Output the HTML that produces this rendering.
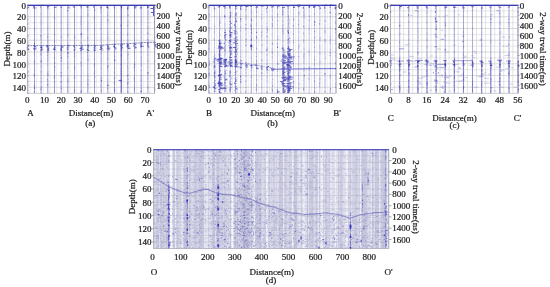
<!DOCTYPE html>
<html><head><meta charset="utf-8"><style>
html,body{margin:0;padding:0;background:#fff;}
body{width:550px;height:287px;overflow:hidden;font-family:"Liberation Serif",serif;}
svg{display:block;}
</style></head><body>
<svg width="550" height="287" viewBox="0 0 550 287" font-family="Liberation Serif">
<rect width="550" height="287" fill="#fff"/>
<rect x="27.3" y="5.0" width="127.50000000000001" height="88.2" fill="#fff"/>
<line x1="27.3" x2="154.8" y1="16.76" y2="16.76" stroke="#bcbcbc" stroke-width="0.55"/>
<line x1="27.3" x2="154.8" y1="28.52" y2="28.52" stroke="#bcbcbc" stroke-width="0.55"/>
<line x1="27.3" x2="154.8" y1="40.28" y2="40.28" stroke="#bcbcbc" stroke-width="0.55"/>
<line x1="27.3" x2="154.8" y1="52.04" y2="52.04" stroke="#bcbcbc" stroke-width="0.55"/>
<line x1="27.3" x2="154.8" y1="63.80" y2="63.80" stroke="#bcbcbc" stroke-width="0.55"/>
<line x1="27.3" x2="154.8" y1="75.56" y2="75.56" stroke="#bcbcbc" stroke-width="0.55"/>
<line x1="27.3" x2="154.8" y1="87.32" y2="87.32" stroke="#bcbcbc" stroke-width="0.55"/>
<line x1="27.3" x2="154.8" y1="22.64" y2="22.64" stroke="#d2d2d2" stroke-width="0.5"/>
<line x1="27.3" x2="154.8" y1="34.40" y2="34.40" stroke="#d2d2d2" stroke-width="0.5"/>
<line x1="27.3" x2="154.8" y1="81.44" y2="81.44" stroke="#d2d2d2" stroke-width="0.5"/>
<path d="M29.9 5.0V93.2M36.6 5.0V93.2M43.2 5.0V93.2M49.9 5.0V93.2M56.6 5.0V93.2M63.2 5.0V93.2M69.9 5.0V93.2M76.6 5.0V93.2M83.3 5.0V93.2M89.9 5.0V93.2M96.6 5.0V93.2M103.3 5.0V93.2M109.9 5.0V93.2M116.6 5.0V93.2M123.3 5.0V93.2M129.9 5.0V93.2M136.6 5.0V93.2M143.3 5.0V93.2M150.0 5.0V93.2" stroke="#c4c4cc" stroke-width="0.6" fill="none" opacity="0.55"/>
<path d="M27.8 5.0V93.2" stroke="#5050b0" stroke-width="0.7" opacity="0.3"/>
<path d="M34.5 5.0V93.2" stroke="#5050b0" stroke-width="0.7" opacity="0.8"/>
<path d="M41.1 5.0V93.2" stroke="#5050b0" stroke-width="0.7" opacity="0.8"/>
<path d="M47.8 5.0V93.2" stroke="#5050b0" stroke-width="0.7" opacity="0.8"/>
<path d="M54.5 5.0V93.2" stroke="#5050b0" stroke-width="0.7" opacity="0.8"/>
<path d="M61.2 5.0V93.2" stroke="#5050b0" stroke-width="0.7" opacity="0.8"/>
<path d="M67.8 5.0V93.2" stroke="#5050b0" stroke-width="0.7" opacity="0.8"/>
<path d="M74.5 5.0V93.2" stroke="#5050b0" stroke-width="0.7" opacity="0.8"/>
<path d="M81.2 5.0V93.2" stroke="#5050b0" stroke-width="0.7" opacity="0.8"/>
<path d="M87.8 5.0V93.2" stroke="#5050b0" stroke-width="0.7" opacity="0.8"/>
<path d="M94.5 5.0V93.2" stroke="#5050b0" stroke-width="0.7" opacity="0.8"/>
<path d="M101.2 5.0V93.2" stroke="#5050b0" stroke-width="0.7" opacity="0.8"/>
<path d="M107.8 5.0V93.2" stroke="#5050b0" stroke-width="0.7" opacity="0.8"/>
<path d="M114.5 5.0V93.2" stroke="#5050b0" stroke-width="0.7" opacity="0.8"/>
<path d="M121.2 5.0V93.2" stroke="#5050b0" stroke-width="0.7" opacity="1"/>
<path d="M127.8 5.0V93.2" stroke="#5050b0" stroke-width="0.7" opacity="0.8"/>
<path d="M134.5 5.0V93.2" stroke="#5050b0" stroke-width="0.7" opacity="0.8"/>
<path d="M141.2 5.0V93.2" stroke="#5050b0" stroke-width="0.7" opacity="0.8"/>
<path d="M147.9 5.0V93.2" stroke="#5050b0" stroke-width="0.7" opacity="0.8"/>
<path d="M154.5 5.0V93.2" stroke="#5050b0" stroke-width="0.7" opacity="0.8"/>
<path d="M28.1 5.6v1.6M27.7 9.0v.9M27.9 15.6v1.2M28.1 23.2v1.6M27.7 24.0v1.2M27.9 27.2v.6M27.8 28.0v1.6M28.1 35.4v1.6M27.7 36.2v1.2M27.6 37.0v1.2M28.0 37.8v.6M28.0 41.0v1.6M27.7 42.2v.6M28.0 43.0v1.6M27.5 44.2v.9M27.7 45.4v1.6M28.0 46.6v.9M27.7 47.4v1.2M27.6 48.6v1.2M27.7 49.4v1.6M27.9 55.2v.9M27.7 57.4v.6M27.8 58.6v.6M27.6 59.4v.6M27.8 60.2v.9M28.0 62.4v.9M28.0 64.0v1.6M27.8 64.8v.6M27.7 67.0v.9M28.1 69.8v1.2M27.9 76.4v1.2M28.0 80.2v1.6M28.0 83.2v1.6M27.6 84.2v1.2M27.5 86.0v.6M27.7 88.4v1.2M28.0 89.2v1.6M27.7 91.6v1.2M34.7 8.0v.9M34.6 8.8v1.6M34.5 9.6v1.6M34.3 22.0v1.6M34.4 26.2v.6M34.5 29.2v1.2M34.7 30.0v.9M34.2 31.8v.9M34.5 38.0v.9M34.3 39.8v1.2M34.4 40.6v1.2M34.6 41.8v.9M34.6 57.6v1.2M34.4 59.6v.6M34.7 61.6v1.2M34.5 63.6v1.6M34.6 66.6v.9M34.6 69.4v.6M34.2 73.0v1.2M34.6 83.6v.6M34.5 89.4v1.2M41.0 13.6v1.2M41.4 19.6v1.6M40.9 21.8v.6M41.2 22.8v.9M41.0 23.8v1.2M41.1 30.2v1.2M40.8 35.6v.9M41.1 36.4v1.2M40.9 37.4v.6M40.9 38.4v1.6M41.2 42.2v1.2M41.1 50.4v.9M41.3 52.6v1.6M41.0 54.4v1.6M41.4 57.6v1.2M41.4 65.2v1.6M41.4 66.2v1.6M40.9 73.6v.6M41.3 80.8v1.6M40.9 81.6v.6M40.9 89.2v1.2M41.1 92.0v1.6M47.8 5.1v1.2M47.8 8.1v1.6M48.0 16.5v.9M47.8 26.1v1.6M47.5 29.5v1.2M48.0 33.1v.9M47.6 33.9v1.6M48.1 39.5v1.2M47.9 40.7v1.6M47.6 41.5v.6M47.7 50.1v1.6M48.1 52.1v1.2M48.0 52.9v.6M47.9 53.9v1.6M47.5 55.9v.6M47.9 56.7v1.6M47.8 58.5v.9M47.8 59.5v.6M47.6 65.1v1.2M48.1 70.9v.9M47.9 73.7v1.2M47.8 80.1v.9M47.8 83.5v1.2M47.9 87.1v.6M54.6 11.0v.6M54.4 12.6v1.6M54.6 15.4v.9M54.4 16.4v1.6M54.7 18.2v1.6M54.2 25.6v.6M54.6 29.4v.9M54.3 31.4v1.2M54.4 32.4v.9M54.3 33.4v1.2M54.4 36.2v1.2M54.6 42.4v1.6M54.3 43.2v.9M54.6 46.4v1.6M54.7 47.4v1.6M54.2 52.4v.6M54.5 59.6v.6M54.4 61.2v1.2M54.3 65.4v.9M54.7 70.0v.6M54.6 71.0v1.2M54.3 72.6v.6M54.5 78.2v.9M54.6 79.2v.6M54.7 81.0v1.2M54.7 84.0v1.6M54.2 86.2v.6M54.4 91.8v.6M61.0 5.1v1.6M60.9 13.7v.9M61.1 20.3v1.6M61.0 22.9v.9M60.9 29.9v1.2M61.4 34.1v1.2M61.3 42.9v1.6M61.2 45.1v.9M61.4 47.3v1.2M61.3 48.5v.9M61.2 49.5v1.6M60.9 50.7v1.2M61.4 53.7v1.2M60.9 54.5v.9M61.3 57.9v1.2M61.4 65.3v1.2M61.0 68.5v.6M61.4 74.7v.9M60.9 80.5v1.6M61.1 85.1v.6M61.1 86.3v.9M61.3 87.1v.6M60.9 91.5v.9M67.8 5.3v.6M67.8 6.3v1.6M68.0 7.3v1.6M67.6 17.9v.6M68.0 21.9v1.2M68.1 24.1v.9M67.6 25.1v.6M67.9 26.9v1.2M67.6 32.7v1.6M68.0 33.7v1.6M67.6 42.7v.6M67.8 43.7v1.6M67.7 44.7v.9M67.6 45.9v1.6M67.6 46.7v1.2M67.7 53.3v1.6M67.9 56.9v.9M67.6 57.9v.6M67.7 61.3v1.2M67.8 62.3v1.2M67.6 64.3v1.6M67.6 65.5v.9M67.9 75.9v.6M68.1 77.1v1.6M68.0 82.1v.9M68.1 83.3v.6M67.7 84.3v.6M68.0 85.1v1.2M67.8 86.3v.6M67.6 88.3v.6M68.1 89.5v.9M67.9 91.7v.6M68.5 6.2v1M74.2 12.3v1.2M74.3 14.5v1.2M74.3 15.3v.6M74.5 23.5v.9M74.4 24.7v1.2M74.5 30.1v.6M74.7 35.3v1.6M74.7 42.9v1.2M74.5 43.9v1.2M74.3 47.9v1.6M74.4 49.1v1.2M74.3 51.1v.6M74.6 52.3v1.6M74.3 57.1v.9M74.6 58.1v.9M74.4 59.9v1.6M74.2 60.9v.6M74.5 62.1v.6M74.6 63.1v1.6M74.6 87.1v1.6M74.5 90.3v1.6M74.3 91.3v1.6M81.1 17.2v1.6M81.3 18.4v1.6M81.0 20.0v1.6M80.9 20.8v1.6M81.1 21.8v1.6M81.2 23.0v1.6M81.1 24.0v1.2M81.1 25.6v.9M81.3 31.6v.6M81.1 35.0v.9M81.3 36.2v1.6M81.4 37.0v1.2M81.0 41.8v1.6M80.9 45.6v.9M80.9 46.6v.9M81.4 49.8v1.6M81.2 53.4v1.2M81.4 57.2v.9M81.1 62.8v1.6M81.5 63.6v.6M81.1 69.2v.6M81.5 71.6v1.6M81.1 75.6v1.6M81.3 78.6v.6M81.0 81.0v.9M81.3 82.0v1.2M81.3 83.0v1.6M81.2 84.8v1.6M81.1 88.8v.6M88.0 9.4v1.2M88.1 10.2v.6M87.9 13.4v.9M87.7 21.2v.9M87.8 23.2v1.6M87.5 35.4v.6M87.6 36.4v1.6M87.9 37.4v1.2M87.6 39.4v1.2M87.6 43.8v1.6M88.0 48.8v1.6M88.1 50.8v1.2M87.7 54.8v1.2M88.0 55.6v.9M87.9 56.6v.6M87.9 59.6v1.2M88.0 60.6v.9M87.8 65.8v1.2M87.7 68.0v1.6M87.8 73.8v1.2M87.9 74.8v.6M88.0 76.0v1.2M88.0 77.0v.9M88.0 80.2v.6M87.8 81.2v1.2M87.9 84.0v.9M88.1 85.2v.6M88.0 86.0v.6M88.1 87.8v1.2M94.5 5.3v1.2M94.5 10.9v.9M94.7 15.5v.6M94.2 19.1v1.6M94.6 27.7v.9M94.8 28.5v.9M94.5 29.5v1.6M94.7 30.3v1.2M94.5 31.5v.6M94.4 32.5v1.6M94.5 33.3v1.2M94.6 36.5v.9M94.7 41.3v1.2M94.7 45.9v1.6M94.4 57.3v1.2M94.6 68.7v.9M94.7 75.7v.9M94.3 78.5v1.6M94.7 80.7v1.6M94.7 81.9v.9M94.6 84.5v1.6M94.6 86.3v1.6M101.3 6.4v.9M101.1 10.2v.6M101.0 11.4v1.6M101.1 12.4v.9M101.2 18.6v.9M101.5 19.4v.9M101.3 20.2v.9M100.9 23.8v.9M101.2 24.8v1.2M101.0 29.0v1.2M101.3 36.8v.9M101.1 37.8v1.2M101.1 38.8v.6M100.9 41.8v.9M101.2 48.2v.6M101.0 52.4v1.6M101.1 53.4v.9M100.9 56.8v.6M101.3 58.0v.9M101.1 60.0v.6M101.0 60.8v1.2M101.1 62.8v.6M101.2 65.8v.6M101.1 68.2v1.6M101.2 76.6v1.2M100.9 77.4v1.6M100.9 79.2v1.6M101.2 82.2v1.2M100.9 84.2v1.6M101.3 86.0v1.2M100.9 87.0v.6M101.4 92.6v1.2M107.8 11.9v1.2M108.0 20.3v1.6M107.7 31.7v.9M107.6 32.7v1.2M107.6 36.3v1.6M107.7 37.1v.6M107.7 46.3v.9M107.7 53.3v1.2M108.1 54.3v1.2M107.9 55.5v.9M108.0 58.5v.6M107.5 61.9v.9M107.9 64.7v.9M107.9 68.7v.6M107.7 69.7v.9M107.7 70.7v.9M107.6 78.9v1.6M107.8 81.1v1.2M107.6 85.7v.6M108.0 87.5v1.6M108.0 92.3v1.2M114.3 15.3v.6M114.4 17.1v1.2M114.6 19.7v1.2M114.5 33.5v1.2M114.7 35.5v.6M114.7 36.3v.6M114.5 37.3v1.6M114.5 39.3v.9M114.2 43.7v1.6M114.8 50.3v1.6M114.3 51.9v1.2M114.5 56.9v1.6M114.6 58.7v1.6M114.3 70.5v.6M114.7 73.9v.6M114.7 75.1v1.6M114.7 80.3v.6M114.3 85.3v.6M114.6 88.5v1.6M114.6 91.1v.9M121.4 6.9v.9M121.3 8.7v.6M121.1 9.5v.9M120.9 16.9v1.2M121.0 19.7v.6M121.2 23.9v1.6M121.1 25.5v1.2M121.3 26.5v.6M121.4 28.5v.6M121.2 31.9v1.6M121.2 35.5v1.2M121.2 37.3v.6M121.2 38.3v.6M121.0 40.9v.9M121.4 45.3v.6M121.2 46.5v.9M121.4 48.3v1.6M121.2 52.3v.6M121.3 53.3v1.6M121.1 54.9v1.6M121.2 55.7v1.6M121.2 57.5v.9M121.2 59.5v.6M121.1 60.3v.6M121.0 62.7v1.6M120.9 63.7v.9M121.1 67.3v1.2M120.9 68.5v1.2M121.1 69.7v.6M121.1 72.5v1.6M121.1 74.7v.9M121.0 76.7v.6M121.2 77.5v.9M121.4 78.3v.9M120.9 79.1v1.2M121.2 80.1v1.6M121.2 85.5v.9M121.2 86.3v1.2M121.1 89.5v1.2M121.3 91.5v.6M121.0 92.7v.9M127.7 7.5v.9M127.8 9.5v1.6M127.7 11.3v.6M127.6 12.5v1.6M128.1 20.1v1.6M128.0 22.1v.6M127.9 23.7v.6M127.6 25.7v.9M127.7 31.9v1.2M127.8 39.3v.6M127.6 40.5v1.2M127.9 42.3v1.6M127.6 43.1v.6M128.1 47.5v1.2M128.0 52.3v1.6M127.6 55.3v1.6M127.7 57.3v1.6M127.6 58.5v1.2M127.9 61.7v.9M127.7 66.9v.9M127.6 70.1v1.2M128.0 71.1v.6M127.7 72.3v.6M127.9 79.7v.6M127.6 84.7v.9M127.9 86.5v.6M127.7 92.1v1.6M134.6 7.6v.9M134.6 11.8v.6M134.4 13.8v1.2M134.4 15.0v.9M134.7 17.0v1.6M134.3 20.0v1.2M134.8 22.4v1.2M134.7 28.6v.6M134.3 29.6v1.6M134.6 32.6v.6M134.4 35.6v1.2M134.2 36.6v1.6M134.7 38.4v.9M134.3 46.2v1.2M134.5 48.2v1.6M134.3 49.4v.6M134.7 50.6v.9M134.2 54.8v.6M134.8 57.8v.9M134.7 61.8v1.2M134.7 62.8v1.6M134.3 69.4v1.6M134.4 70.6v1.2M134.6 72.8v.9M134.3 74.0v1.2M134.3 78.4v1.6M134.8 82.8v.9M134.3 84.0v1.2M134.3 87.0v1.2M134.6 90.8v.6M141.0 8.1v1.2M141.1 9.9v.6M141.2 11.7v.6M141.5 14.5v.6M141.2 19.5v.9M141.5 20.3v1.6M141.2 22.3v.6M141.2 24.3v.6M141.4 30.5v.6M141.0 31.5v1.2M141.2 32.3v.6M141.2 42.9v1.6M141.1 43.7v.6M141.1 44.7v.6M140.9 48.5v.6M141.0 50.7v1.6M141.0 51.5v.6M141.4 56.3v1.6M141.3 57.3v1.2M141.2 59.3v1.6M141.1 60.5v.9M141.3 61.5v1.6M141.1 63.5v.9M141.5 64.3v1.2M141.0 74.7v1.2M141.1 77.9v1.2M141.4 78.7v.6M141.4 80.5v1.6M141.4 83.3v1.6M141.1 87.3v1.6M141.5 88.3v.9M141.0 92.1v1.6M147.7 5.1v.6M147.7 5.9v.9M147.8 7.1v1.6M148.0 13.5v1.6M148.1 14.5v.6M147.7 18.1v1.6M148.1 22.5v.9M147.8 28.5v.6M147.8 29.7v1.2M147.9 44.5v.6M148.0 45.7v1.6M147.6 47.5v1.2M148.1 48.7v1.2M147.7 50.7v1.2M147.6 53.5v.9M148.1 54.5v1.6M147.9 57.5v.6M147.7 58.3v.6M147.7 73.1v1.2M148.1 74.1v.6M147.8 75.9v.9M147.7 77.9v.9M147.8 78.7v.6M147.6 84.1v.6M147.7 86.5v1.6M154.5 6.2v.9M154.7 8.0v.9M154.3 10.2v1.2M154.4 12.2v1.6M154.3 15.2v.6M154.5 21.6v.9M154.3 22.8v.9M154.5 25.4v.6M154.4 28.2v.9M154.6 31.8v.9M154.5 37.8v.9M154.8 39.8v1.2M154.4 45.6v.6M154.7 50.0v1.6M154.6 52.0v.9M154.8 54.0v.6M154.4 56.0v.6M154.6 57.2v.6M154.6 62.0v.9M154.6 63.2v1.6M154.6 69.4v.9M154.8 70.2v.6M154.3 72.8v1.2M154.4 76.4v1.2M154.5 78.4v.6M154.6 79.4v.6M154.5 83.2v1.2M154.7 84.0v.9M154.4 86.2v.9M154.6 87.8v.6M154.5 89.4v.9M154.7 91.8v.6" stroke="#9696d0" stroke-width="0.8" fill="none" opacity="0.6"/>
<path d="M27.2 48.0h1.2M54.7 50.2h1.3M54.2 6.4h2.8M67.6 48.6h1.3M73.9 48.8h1.1M73.9 7.7h1.6M86.9 48.4h1.2M94.1 47.4h1.1M100.0 48.9h1.5M107.5 45.7h1.5M113.8 45.7h1M114.4 48.2h1.7M127.1 47.9h.9M133.8 45.2h1.6M140.3 43.7h1.1M140.4 47.4h1.1M154.0 46.2h1.1" stroke="#9696d0" stroke-width="0.8" fill="none" opacity="0.6"/>
<path d="M27.9 18.8v1.6M27.7 34.6v1.6M27.9 61.4v.9M27.5 65.8v1.2M28.0 71.0v1.6M27.6 71.8v1.6M27.6 79.2v.6M27.7 81.0v1.6M27.9 85.2v1.2M28.0 90.4v.6M28.0 92.6v1.6M27.8 6.3v1M34.4 28.4v1.2M34.6 48.4v1.6M34.3 49.2v.6M34.3 53.4v.9M34.2 60.8v1.6M34.5 70.2v.6M34.2 73.8v1.6M34.4 84.6v1.6M34.5 86.6v1.6M34.3 91.2v1.2M40.9 34.8v1.6M41.2 46.0v.9M41.4 47.0v1.2M41.1 51.6v.6M41.0 53.6v1.2M40.9 61.2v.9M41.1 62.0v.6M41.1 71.2v1.2M41.3 78.0v.6M41.4 86.2v.6M41.1 87.4v.6M41.0 88.4v1.6M40.6 6.6v1.3M47.8 36.3v1.6M47.8 46.1v.6M48.1 47.1v.9M47.7 55.1v.6M47.9 60.7v.6M47.7 72.7v1.2M48.0 74.5v1.6M47.5 79.1v1.2M47.6 81.3v.6M54.4 17.4v1.2M54.7 34.2v.9M54.2 41.2v.9M54.6 49.6v.6M54.4 57.2v1.6M54.7 62.2v1.6M54.8 66.2v.9M54.8 67.0v.9M54.6 69.2v1.2M54.7 76.2v1.6M54.2 77.4v1.2M54.5 82.0v.9M54.4 90.8v.6M61.3 36.3v1.6M60.9 55.3v.9M61.2 60.1v1.6M61.2 75.7v1.2M61.1 81.5v1.6M61.5 7.3v.8M67.7 28.9v.6M68.0 35.5v.9M67.7 51.5v1.6M67.7 55.7v1.2M68.1 67.3v1.2M68.1 79.3v1.6M67.8 81.3v.9M67.8 87.1v.6M68.0 90.5v.6M74.5 18.9v.6M74.4 36.5v.9M74.7 37.3v1.2M74.4 53.1v1.2M74.6 55.3v1.2M74.5 56.3v.6M74.8 65.9v1.2M74.5 67.1v.9M74.7 68.3v1.2M74.7 76.3v1.6M74.3 77.5v.9M74.7 89.5v1.6M74.3 92.1v.9M81.4 5.2v1.6M81.3 8.4v.6M81.4 16.2v.9M81.4 42.8v.6M81.2 47.4v.6M81.1 48.2v1.2M81.2 50.8v.6M80.9 62.0v.9M81.4 65.2v1.2M81.3 90.0v1.6M81.2 91.2v1.2M80.9 92.0v1.2M87.9 14.4v1.2M87.9 26.4v.9M87.8 29.6v.9M87.7 38.2v.6M87.6 51.8v1.2M88.0 58.6v1.6M88.1 79.2v1.2M87.9 83.2v1.6M87.9 90.8v.6M87.0 5.9v1.4M87.4 6.2v1.9M94.5 6.5v.6M94.3 17.1v1.6M94.6 43.5v.9M94.4 59.3v.6M94.4 63.5v1.6M94.4 65.5v1.2M94.3 66.7v.6M94.7 70.7v.9M94.8 76.7v1.2M94.4 83.7v.6M94.6 8.0v.9M101.2 22.2v.6M101.0 27.8v.9M101.3 33.2v.6M101.3 46.2v.6M101.3 47.2v1.6M101.2 78.4v.6M101.3 89.8v1.6M101.4 5.9v.9M100.9 7.7v2M107.6 14.7v1.2M107.8 19.1v1.6M107.7 38.3v.6M107.6 45.3v.9M107.8 51.3v.9M107.9 57.3v.9M107.5 66.7v1.6M107.8 84.1v1.6M107.7 88.3v.6M108.1 7.6v1.3M114.8 5.1v1.6M114.3 31.5v1.2M114.7 41.3v.6M114.3 44.9v1.2M114.6 47.1v.9M114.5 51.1v1.2M114.6 55.9v1.2M114.4 61.5v.6M114.6 67.7v.9M114.2 71.7v.9M114.7 77.1v1.2M114.4 78.1v1.2M114.5 81.5v1.6M114.2 82.7v.9M114.7 83.7v.9M114.3 87.3v1.2M114.7 90.3v1.2M114.6 91.9v.6M114.6 7.6v1.3M121.2 24.7v1.2M121.2 44.3v.9M121.2 49.3v1.6M121.4 50.3v.9M121.4 54.1v1.6M120.9 73.5v.9M121.2 81.1v1.2M121.2 81.9v.6M128.0 14.5v1.6M127.8 24.9v1.2M127.6 33.9v1.6M127.8 46.3v.9M128.0 48.5v.6M128.1 54.1v1.2M127.6 65.7v.9M127.9 68.1v.9M127.7 75.5v1.6M128.1 78.5v1.2M127.9 81.7v1.6M127.7 82.9v1.6M127.9 87.3v.9M127.8 91.1v1.2M127.5 7.6v2M128.2 6.1v1.2M134.5 52.4v.6M134.4 63.8v.9M134.5 65.8v1.6M134.3 66.6v1.6M134.3 77.2v1.6M134.4 79.6v.9M134.4 87.8v1.2M134.2 89.8v.9M141.0 37.5v.6M141.3 46.5v.6M141.0 52.3v.6M141.5 65.5v.9M141.1 69.9v.9M141.3 76.7v.6M140.9 79.7v.9M141.1 85.3v.6M141.2 90.1v1.6M141.0 6.4v1.8M140.4 7.3v1.3M148.1 11.5v.9M147.9 26.5v.9M147.7 32.5v1.6M147.7 39.1v1.2M148.1 42.1v.6M148.1 60.5v1.2M147.6 66.5v.6M147.9 87.3v1.2M154.5 20.8v1.2M154.6 27.2v1.6M154.8 36.8v1.2M154.7 47.2v1.2M154.3 48.2v.9M154.8 52.8v.6M154.7 88.6v1.6M155.0 7.7v1.1" stroke="#5c5cbc" stroke-width="0.8" fill="none" opacity="0.7"/>
<path d="M27.4 46.6h1.2M27.9 49.8h1.5M33.4 47.2h1.3M34.4 49.4h1.8M33.9 7.9h2.6M40.9 45.5h.8M40.7 48.1h2M41.2 48.7h1.2M46.5 47.4h2M47.5 48.2h1.7M46.8 49.9h1.4M46.7 5.8h1.8M54.0 46.7h.9M54.3 47.4h1.2M53.8 7.5h1.6M54.1 7.5h2.5M59.9 46.3h2.4M60.1 49.7h1.5M67.7 47.3h1M66.3 48.0h1.8M67.4 50.1h1.1M67.6 7.8h2.8M73.5 45.6h1.2M74.5 48.0h1.1M81.1 45.6h2M81.2 46.5h1.3M80.6 7.5h1.1M79.6 5.0h2.1M87.4 46.0h2M87.4 47.6h1.4M87.3 49.0h1.5M86.6 7.1h2.3M94.5 48.7h1.4M93.8 49.5h.8M100.6 45.3h1.8M100.5 45.9h1.9M101.0 46.5h1.6M101.3 50.2h1.8M99.8 7.5h2M107.0 45.0h1.3M107.7 46.9h1.4M106.6 48.7h1.7M106.9 49.2h2.5M114.2 47.6h2M113.1 5.3h1.7M113.5 7.2h1.4M121.4 43.8h1.6M121.1 44.5h1.9M119.9 45.2h1.9M120.8 45.6h1.7M120.1 46.1h1.2M120.8 47.2h2M120.5 48.8h1.7M120.9 5.3h1M127.0 43.8h.9M127.9 46.9h1.9M134.5 43.0h1M134.6 46.5h1.3M134.6 47.4h2.4M133.1 5.1h1.2M140.4 42.6h1.6M141.0 43.2h1.2M140.4 45.0h1M140.4 7.7h1.9M147.7 42.3h1.2M147.6 43.6h.8M147.3 44.8h1.1M147.3 46.2h1M147.0 6.8h1.8M147.5 7.2h1.8M153.3 41.8h1.2M154.0 43.9h1.7M153.1 7.4h2.4" stroke="#5c5cbc" stroke-width="0.8" fill="none" opacity="0.7"/>
<path d="M27.7 74.6v1.2M27.4 7.6v1.5M34.5 43.0v1.6M34.2 75.8v.6M34.5 87.8v.9M41.4 60.2v1.2M47.9 51.3v1.2M47.7 84.3v1.2M47.9 6.5v1.9M61.3 52.5v.6M61.3 57.1v1.6M61.2 72.3v.9M61.3 88.3v.9M61.1 7.0v.9M67.8 10.1v1.2M68.1 52.5v1.2M81.1 5.6v1.2M87.9 45.0v1.2M94.8 9.9v.9M94.4 48.9v.6M94.3 72.7v.9M93.8 6.2v1.5M101.4 80.0v1.2M107.8 59.3v.6M108.1 65.5v1.2M107.8 84.9v1.2M107.3 6.6v1.4M114.7 59.5v1.6M114.4 89.5v1.2M121.3 64.9v.6M121.2 71.3v.6M121.6 6.7v1.5M121.3 5.6v1.7M127.7 45.3v.9M128.0 74.5v.9M127.9 7.3v1.8M134.8 64.6v.6M141.2 91.1v.9M147.9 72.1v1.6M147.7 6.4v1.8M154.6 61.0v.9" stroke="#3030b0" stroke-width="0.8" fill="none" opacity="0.85"/>
<path d="M27.7 45.3h1.2M27.8 45.9h.8M26.7 47.3h1.3M27.3 48.5h1.3M26.8 49.4h2M27.5 7.6h1.6M33.1 45.6h1.9M34.0 46.4h2.3M34.5 48.1h2M33.1 48.6h1.7M33.9 50.2h.8M33.0 6.5h1.5M32.9 7.9h1.8M41.1 46.3h.8M40.9 46.9h1.4M40.2 47.5h1.9M40.8 49.6h1.9M40.3 50.2h1.9M40.9 5.2h1.7M40.0 5.6h1.7M47.0 45.4h1.4M46.8 45.9h1.1M46.4 46.5h2.2M47.4 48.7h1.4M47.7 49.3h1.2M47.5 50.4h1.5M47.4 6.2h1.8M54.3 45.6h.8M54.4 46.2h.8M53.5 48.1h2M53.6 48.8h1.3M53.1 49.5h2.5M61.1 45.6h1M61.2 46.9h2.3M61.2 47.6h1.4M60.6 48.3h1.3M60.4 49.2h1.5M60.8 50.5h1.3M60.4 5.7h2.4M67.8 45.6h1.6M67.4 46.5h.9M67.0 49.3h1.2M66.8 5.4h2.6M73.4 46.4h1.6M73.9 47.2h1.2M74.4 49.6h1M73.6 50.2h1.3M73.9 6.1h1.1M72.7 7.0h1.9M80.4 47.0h.9M81.0 47.8h1.8M79.5 48.5h2.1M81.2 49.2h2.5M80.7 49.8h1.2M80.4 50.6h.8M87.5 45.4h1.5M87.7 46.8h.8M86.8 49.6h1.3M87.3 50.4h1.9M93.5 45.5h1.9M94.4 46.1h1.7M94.6 46.9h.8M93.4 47.9h1.8M93.5 50.3h2.4M93.8 5.3h2.4M100.2 47.2h1.6M100.0 47.7h1.1M101.2 48.4h1.5M99.6 49.5h2M106.9 46.3h1.7M107.6 47.6h.8M107.5 48.2h2.7M108.0 49.8h1.2M106.0 7.1h2.2M113.9 44.4h1.5M113.7 45.0h1M113.2 46.5h1.8M113.6 47.1h1.7M114.7 48.9h1.7M121.0 46.8h1.2M121.1 48.0h1.7M127.6 44.5h1.1M126.9 45.0h1.5M127.3 45.6h1.5M126.4 46.3h2M127.3 47.4h.9M127.9 48.4h2.6M133.7 43.8h1.3M134.3 44.6h1.9M133.0 45.9h1.4M134.5 48.0h1.6M134.0 7.9h2M133.9 6.8h2.9M140.5 44.2h1.6M140.4 45.7h1.3M141.0 46.3h2.7M140.3 46.8h1.2M147.2 43.0h1.4M147.0 44.0h.8M147.6 45.6h1M147.7 47.0h1.7M154.6 42.5h1.2M153.6 43.2h1.3M154.2 44.7h2.7M154.3 45.4h1.9M154.6 46.8h1.8M153.9 5.2h2.6" stroke="#3030b0" stroke-width="0.8" fill="none" opacity="0.85"/>
<path d="M121.3 5V93" stroke="#3434b4" stroke-width="0.8" opacity="0.6"/>
<polyline points="27.3,45.6 100.0,45.4 114.0,44.2 128.0,43.7 147.0,42.4 154.8,42.2" fill="none" stroke="#50509c" stroke-width="0.9" opacity="0.75" stroke-dasharray="2.2 0.8"/>
<rect x="118.5" y="79.9" width="3.5" height="0.9" fill="#3030c0" opacity="0.8"/>
<rect x="80.7" y="33.5" width="1.3" height="1.3" fill="#3030c0" opacity="0.85"/>
<path d="M153.6 5V16M150.5 8.5h3M151 12.5h2.5" stroke="#3030c0" stroke-width="1.2" opacity="0.8"/>
<rect x="27.3" y="5.0" width="127.50000000000001" height="88.2" fill="none" stroke="#a8a8b0" stroke-width="0.6"/>
<line x1="27.3" x2="154.8" y1="5.4" y2="5.4" stroke="#3a3ab8" stroke-width="1.3"/>
<rect x="208.7" y="5.0" width="127.80000000000001" height="88.2" fill="#fff"/>
<line x1="208.7" x2="336.5" y1="16.76" y2="16.76" stroke="#bcbcbc" stroke-width="0.55"/>
<line x1="208.7" x2="336.5" y1="28.52" y2="28.52" stroke="#bcbcbc" stroke-width="0.55"/>
<line x1="208.7" x2="336.5" y1="40.28" y2="40.28" stroke="#bcbcbc" stroke-width="0.55"/>
<line x1="208.7" x2="336.5" y1="52.04" y2="52.04" stroke="#bcbcbc" stroke-width="0.55"/>
<line x1="208.7" x2="336.5" y1="63.80" y2="63.80" stroke="#bcbcbc" stroke-width="0.55"/>
<line x1="208.7" x2="336.5" y1="75.56" y2="75.56" stroke="#bcbcbc" stroke-width="0.55"/>
<line x1="208.7" x2="336.5" y1="87.32" y2="87.32" stroke="#bcbcbc" stroke-width="0.55"/>
<path d="M211.4 5.0V93.2M216.7 5.0V93.2M221.9 5.0V93.2M227.2 5.0V93.2M232.5 5.0V93.2M237.7 5.0V93.2M243.0 5.0V93.2M248.3 5.0V93.2M253.6 5.0V93.2M258.8 5.0V93.2M264.1 5.0V93.2M269.4 5.0V93.2M274.6 5.0V93.2M279.9 5.0V93.2M285.2 5.0V93.2M290.4 5.0V93.2M295.7 5.0V93.2M301.0 5.0V93.2M306.3 5.0V93.2M311.5 5.0V93.2M316.8 5.0V93.2M322.1 5.0V93.2M327.3 5.0V93.2M332.6 5.0V93.2" stroke="#c4c4cc" stroke-width="0.6" fill="none" opacity="0.5"/>
<path d="M209.1 5.0V93.2" stroke="#5050b0" stroke-width="0.7" opacity="0.5"/>
<path d="M214.4 5.0V93.2" stroke="#5050b0" stroke-width="0.7" opacity="0.5"/>
<path d="M219.6 5.0V93.2" stroke="#5050b0" stroke-width="0.7" opacity="0.6"/>
<path d="M224.9 5.0V93.2" stroke="#5050b0" stroke-width="0.7" opacity="0.5"/>
<path d="M230.2 5.0V93.2" stroke="#5050b0" stroke-width="0.7" opacity="0.6"/>
<path d="M235.4 5.0V93.2" stroke="#5050b0" stroke-width="0.7" opacity="0.6"/>
<path d="M240.7 5.0V93.2" stroke="#5050b0" stroke-width="0.7" opacity="0.5"/>
<path d="M246.0 5.0V93.2" stroke="#5050b0" stroke-width="0.7" opacity="0.5"/>
<path d="M251.3 5.0V93.2" stroke="#5050b0" stroke-width="0.7" opacity="0.6"/>
<path d="M256.5 5.0V93.2" stroke="#5050b0" stroke-width="0.7" opacity="0.5"/>
<path d="M261.8 5.0V93.2" stroke="#5050b0" stroke-width="0.7" opacity="0.5"/>
<path d="M267.1 5.0V93.2" stroke="#5050b0" stroke-width="0.7" opacity="0.5"/>
<path d="M272.3 5.0V93.2" stroke="#5050b0" stroke-width="0.7" opacity="0.5"/>
<path d="M277.6 5.0V93.2" stroke="#5050b0" stroke-width="0.7" opacity="0.5"/>
<path d="M282.9 5.0V93.2" stroke="#5050b0" stroke-width="0.7" opacity="0.6"/>
<path d="M288.1 5.0V93.2" stroke="#5050b0" stroke-width="0.7" opacity="0.6"/>
<path d="M293.4 5.0V93.2" stroke="#5050b0" stroke-width="0.7" opacity="0.5"/>
<path d="M298.7 5.0V93.2" stroke="#5050b0" stroke-width="0.7" opacity="0.5"/>
<path d="M304.0 5.0V93.2" stroke="#5050b0" stroke-width="0.7" opacity="0.5"/>
<path d="M309.2 5.0V93.2" stroke="#5050b0" stroke-width="0.7" opacity="0.5"/>
<path d="M314.5 5.0V93.2" stroke="#5050b0" stroke-width="0.7" opacity="0.5"/>
<path d="M319.8 5.0V93.2" stroke="#5050b0" stroke-width="0.7" opacity="0.5"/>
<path d="M325.0 5.0V93.2" stroke="#5050b0" stroke-width="0.7" opacity="0.5"/>
<path d="M330.3 5.0V93.2" stroke="#5050b0" stroke-width="0.7" opacity="0.5"/>
<path d="M335.6 5.0V93.2" stroke="#5050b0" stroke-width="0.7" opacity="0.5"/>
<ellipse cx="251.2" cy="45.7" rx="1.1" ry="1.3" fill="#2a2ab8" opacity="0.85"/>
<path d="M273 69.2L336.5 68.6" stroke="#3a3ab8" stroke-width="0.9" opacity="0.8"/>
<path d="M208.9 9.4v1.6M209.0 19.4v1.2M209.1 22.4v1.2M209.0 29.2v1.6M209.4 30.4v.9M208.9 31.6v.6M209.1 32.4v.9M208.8 39.2v1.2M209.1 41.4v.9M209.3 42.2v.6M209.4 44.6v1.6M208.9 49.8v1.2M209.0 58.2v.9M209.2 60.2v.9M209.2 63.0v1.6M209.0 76.2v1.6M209.2 82.4v.9M208.8 85.6v.6M209.3 90.8v.9M214.3 10.4v1.2M214.3 23.8v.6M214.4 28.6v.9M214.2 30.8v1.2M214.5 32.0v1.6M214.6 32.8v.6M214.1 37.8v1.6M214.3 39.0v1.6M214.3 43.4v1.2M214.3 47.4v.6M214.1 49.4v.9M214.6 65.2v.6M214.5 66.4v1.6M214.4 77.4v.6M214.5 80.0v1.2M214.5 81.6v1.2M214.4 91.2v1.2M219.5 5.3v1.6M219.7 6.9v.9M219.5 9.9v1.6M219.4 11.9v1.2M219.6 14.3v.9M219.5 16.5v.6M219.9 17.3v1.6M219.4 18.5v1.6M219.8 19.5v.6M219.4 24.1v1.6M219.6 26.3v.9M219.5 27.3v.9M219.8 29.5v.9M219.4 32.7v1.2M219.9 33.9v1.2M219.9 40.1v.6M219.8 41.3v1.2M219.4 45.7v1.2M219.9 49.9v.9M219.4 51.1v1.2M219.6 52.7v1.6M219.7 59.1v.9M219.6 64.9v1.6M219.4 74.5v.9M219.8 77.3v1.6M219.5 78.5v1.2M219.8 79.5v1.6M219.8 82.3v1.6M219.4 86.3v1.2M219.5 91.3v.9M224.8 6.6v.6M224.8 7.8v1.2M224.7 14.6v1.6M225.1 16.4v1.6M224.9 23.0v1.2M224.8 24.2v1.6M224.9 27.0v.9M224.8 29.2v1.2M224.9 32.4v.6M225.0 39.0v.6M224.8 45.2v.6M225.1 48.4v.6M224.7 55.2v1.6M225.2 59.4v1.6M225.2 60.2v1.2M224.9 64.8v1.6M225.0 72.4v.6M225.1 75.2v.6M224.7 82.4v.9M225.0 84.4v.6M224.9 86.4v.9M224.8 89.8v.9M224.8 90.6v.9M224.9 91.4v.9M230.4 5.2v.9M230.1 6.8v.9M230.5 10.2v.9M230.1 14.0v1.2M230.1 21.2v1.2M230.4 22.2v.9M229.9 29.8v1.6M230.1 31.6v1.2M230.1 34.6v1.2M230.4 38.4v.6M230.4 39.4v1.6M230.2 42.6v1.2M230.5 43.6v1.2M230.1 46.2v.6M230.0 48.0v1.6M230.2 50.6v.6M230.4 51.6v1.6M230.2 55.4v.9M230.1 58.2v.9M230.4 59.0v.6M230.2 60.0v.6M230.3 65.6v.6M230.4 66.8v.9M230.1 71.6v1.2M230.0 72.4v.9M230.0 74.2v1.2M230.0 76.2v1.6M230.1 80.8v1.6M230.1 86.8v1.6M230.0 87.8v1.2M230.1 90.0v1.2M235.5 5.7v.6M235.6 7.9v1.6M235.3 8.7v.9M235.3 16.9v.9M235.6 22.1v.9M235.7 29.7v.9M235.6 31.7v.6M235.4 44.3v1.2M235.2 47.3v1.6M235.3 55.3v.9M235.5 63.9v.9M235.6 64.9v.9M235.6 72.3v1.6M235.6 73.1v1.6M235.2 73.9v.6M235.4 74.9v.6M235.5 79.1v1.2M235.3 84.1v1.2M235.4 86.1v.9M235.6 87.3v1.2M235.4 88.3v.9M240.6 14.1v.9M241.0 20.1v.6M240.9 24.5v1.2M240.8 31.1v.6M240.6 35.3v.6M240.6 36.5v.9M240.6 37.3v.6M240.9 39.5v1.2M240.5 42.7v.6M241.0 45.5v.9M240.9 49.5v1.2M240.7 53.5v.9M240.5 55.9v1.2M240.9 57.1v.6M240.5 59.5v1.6M240.8 62.5v1.6M240.7 68.3v.9M241.0 71.3v.6M240.9 72.3v.6M241.0 73.3v1.2M240.8 79.7v.6M240.9 82.7v1.2M240.7 92.5v.9M245.7 10.9v1.2M246.2 14.5v1.2M246.1 16.7v1.6M245.8 17.9v1.2M246.3 18.7v1.2M246.3 25.1v.6M245.7 27.1v1.6M245.9 29.3v1.6M245.8 33.3v1.6M245.8 40.7v1.6M246.2 50.9v1.2M246.2 64.5v1.6M246.1 68.1v.9M245.8 70.3v.9M246.1 72.1v1.6M245.9 75.1v.6M245.9 75.9v1.2M246.0 80.1v1.6M245.7 80.9v1.2M246.0 84.7v.6M246.3 90.3v.6M251.0 6.3v.6M251.1 8.3v.9M251.2 9.5v.9M251.3 11.5v1.6M251.4 12.7v1.6M251.4 18.7v.9M251.0 22.1v.6M251.1 23.3v1.2M251.2 25.7v1.6M251.4 26.5v1.2M251.2 28.3v1.6M251.2 29.1v.6M251.4 32.9v.6M251.4 37.1v1.6M251.0 42.5v.6M251.1 48.3v.6M251.3 49.5v.6M251.2 50.5v.6M251.5 53.9v.9M251.3 56.5v1.6M251.2 57.7v1.2M251.5 60.5v1.6M251.4 65.5v1.2M251.2 66.3v.6M251.5 68.3v.6M251.4 69.3v1.6M251.2 70.1v.9M251.5 74.7v1.2M251.4 75.9v1.6M251.3 79.9v.9M251.5 80.7v.6M251.3 83.3v1.6M251.3 85.7v.9M251.5 88.7v.9M251.2 89.7v1.2M251.2 91.7v1.2M251.4 92.7v.6M256.6 6.0v.9M256.4 8.8v1.6M256.4 15.4v1.6M256.4 16.6v1.6M256.6 22.4v1.6M256.3 24.4v1.6M256.7 37.8v1.6M256.6 45.4v.9M256.2 52.0v1.6M256.8 54.4v.6M256.6 62.2v.9M256.5 66.2v1.6M256.5 71.0v1.2M256.5 74.2v1.2M256.8 76.6v.9M256.4 87.8v1.6M261.7 5.7v1.2M261.8 25.7v.9M262.0 30.5v.9M261.7 32.7v.6M261.6 36.9v1.2M262.0 39.9v.6M262.0 43.9v1.6M262.1 45.1v1.2M261.9 51.9v1.6M261.9 58.9v1.6M262.0 59.7v1.2M261.9 67.7v.6M261.6 75.5v.9M261.6 76.5v.6M261.6 77.5v1.2M261.7 83.1v1.2M261.7 86.7v1.6M261.7 92.3v1.2M266.8 7.8v1.2M266.9 9.8v1.2M266.8 11.0v1.6M267.3 12.2v.9M266.9 23.0v1.2M266.8 26.0v1.2M267.1 27.2v.9M267.1 31.4v1.2M267.2 35.2v1.2M266.9 40.2v.9M267.1 41.2v.9M267.3 42.2v1.6M267.0 43.4v.9M267.0 46.4v1.6M266.8 57.4v.6M267.0 59.4v1.6M266.9 60.2v.6M267.0 62.6v.6M267.4 66.8v1.6M267.2 68.8v.6M266.8 79.6v1.2M272.2 10.1v1.2M272.3 15.3v1.2M272.1 16.3v1.6M272.5 17.3v1.2M272.1 22.7v1.2M272.1 26.5v.9M272.3 42.7v1.6M272.1 48.1v1.6M272.2 56.3v1.6M272.5 57.5v.6M272.2 73.9v1.6M272.3 83.5v.6M272.6 84.5v.6M272.1 88.1v.9M272.3 92.1v.9M277.5 5.6v1.2M277.5 6.4v1.6M277.6 7.4v1.6M277.8 16.4v1.6M277.4 24.4v1.2M277.8 27.4v1.2M277.8 29.8v.6M277.8 35.8v1.6M277.8 38.0v1.6M277.7 51.6v1.2M277.9 53.6v1.6M277.4 55.6v1.6M277.4 58.8v1.2M277.7 61.0v1.2M277.8 62.2v1.2M277.4 65.8v.6M277.8 67.0v.6M277.7 70.0v1.6M277.4 71.2v.6M277.4 75.8v1.2M277.7 78.6v.6M277.8 80.8v1.6M283.2 5.0v1.2M282.6 7.6v.6M283.2 11.4v.9M283.1 18.0v.6M282.6 20.0v1.2M282.9 21.2v1.6M283.0 24.2v1.2M282.9 26.6v.6M282.8 31.2v.6M282.8 34.4v1.6M282.8 36.6v.9M282.7 38.4v.6M282.9 40.4v.6M283.1 41.2v1.2M282.7 44.8v.9M282.8 45.8v.6M283.0 57.4v1.2M282.6 58.4v.9M282.9 64.4v.6M283.1 65.2v1.6M283.1 76.2v.9M283.0 80.6v1.2M283.0 81.8v1.6M283.2 83.6v.6M283.1 91.2v1.6M288.4 6.0v1.2M288.2 7.0v1.2M288.2 8.8v.9M288.1 12.0v.6M288.1 13.0v.9M288.4 15.0v1.2M287.9 16.0v.9M288.4 23.8v1.2M287.9 31.0v1.2M288.4 37.8v1.6M288.3 39.0v.6M288.0 42.0v1.6M287.9 46.0v1.2M288.0 48.8v.6M288.2 49.8v.6M288.3 50.6v.6M288.4 51.4v.6M288.4 53.8v1.6M288.2 54.6v1.6M288.3 61.2v1.6M288.2 63.2v.9M288.3 70.2v.9M288.0 72.0v1.2M288.0 73.8v.9M287.9 75.0v.6M288.1 77.2v1.2M288.3 80.2v1.2M288.2 81.0v.9M288.2 82.6v.9M288.4 83.6v.9M288.0 86.4v1.6M288.1 87.2v1.2M288.1 89.2v1.6M288.4 91.0v1.6M293.6 10.1v.9M293.4 13.3v1.2M293.3 17.7v1.6M293.6 28.9v.9M293.3 31.1v.9M293.5 34.5v.9M293.2 40.1v.9M293.4 41.3v1.2M293.5 50.7v.9M293.4 60.1v.6M293.7 82.9v1.6M293.5 83.9v.6M293.6 84.7v1.2M293.2 87.9v.9M293.4 89.1v.9M293.6 90.1v1.6M298.8 5.3v1.6M298.8 13.5v1.2M298.7 14.3v1.6M298.5 18.9v.9M298.5 19.7v1.2M298.8 21.3v.9M298.7 23.3v1.6M298.7 26.3v.6M298.6 31.5v1.2M298.7 36.7v.9M298.9 40.5v.9M299.0 43.7v1.2M298.5 47.5v1.2M298.5 48.5v1.2M298.7 51.7v.6M298.6 60.3v1.2M298.5 63.7v1.6M298.4 67.7v.6M298.5 72.5v1.6M298.4 76.9v.9M298.5 78.9v.9M298.7 82.1v1.2M298.9 83.3v1.6M299.0 84.3v1.2M298.6 90.5v.6M304.2 8.7v1.2M304.0 9.9v1.6M303.8 11.1v1.6M303.7 12.1v1.2M304.1 12.9v1.6M304.0 13.9v1.6M304.0 16.1v1.2M303.7 17.1v.9M303.7 20.3v.9M303.7 21.9v1.2M303.8 26.5v1.2M304.3 27.3v.6M304.2 35.3v.9M304.1 49.1v1.2M303.9 54.3v.6M304.2 58.7v.6M303.9 59.7v1.2M304.1 60.9v1.2M303.8 69.7v.9M304.0 70.5v1.6M304.1 76.9v1.6M304.2 77.7v.6M304.1 82.3v1.2M303.8 83.9v1.2M303.9 85.7v.9M309.2 7.6v.6M309.0 11.6v.6M309.1 22.4v.6M309.2 25.2v1.6M309.1 29.0v1.6M309.1 38.6v.6M309.5 49.6v.6M309.0 50.6v1.6M309.0 51.6v1.2M309.2 53.6v.6M309.4 55.4v.6M309.1 66.4v1.6M309.3 69.6v1.6M309.1 70.4v.9M309.3 73.0v1.2M309.2 74.2v1.6M309.0 77.2v1.6M309.5 82.4v.9M309.1 92.2v1.6M314.7 9.0v1.2M314.5 20.2v1.6M314.4 33.2v.6M314.8 35.6v1.2M314.7 38.4v.6M314.5 50.8v.9M314.8 56.2v.9M314.5 62.6v1.2M314.5 65.0v1.2M314.3 70.2v1.6M314.6 71.2v.9M314.3 72.4v1.6M314.4 74.8v1.2M314.4 83.6v.6M314.5 84.6v.9M314.5 86.6v1.6M314.8 87.6v1.6M314.8 92.4v.6M319.8 9.2v1.2M320.0 19.6v1.6M319.6 33.0v1.2M319.8 36.6v.9M319.9 38.6v1.2M320.1 39.4v1.2M319.7 45.4v1.6M319.6 46.6v.6M319.9 47.8v1.2M319.9 51.8v1.2M319.9 52.6v1.6M319.9 53.6v1.6M319.9 57.6v.6M319.5 64.6v1.2M319.7 68.8v.9M320.0 72.6v.9M319.9 77.0v1.2M320.0 78.0v1.6M319.9 80.8v1.6M324.8 10.6v.9M324.9 12.6v.6M325.0 19.0v.6M325.3 21.2v1.2M325.0 24.6v.6M324.8 26.6v1.2M325.1 27.4v.6M325.1 29.6v1.2M325.3 31.4v1.2M324.8 32.2v1.6M325.1 40.0v1.6M324.9 40.8v1.2M324.9 41.8v.9M325.2 48.6v.6M324.8 52.8v.9M324.9 54.0v.9M325.2 55.8v.9M325.3 76.0v.9M325.1 78.8v.9M325.3 79.8v1.2M324.8 81.8v1.6M325.1 84.4v.9M325.1 85.4v.9M330.5 8.8v1.2M330.3 11.0v1.6M330.4 16.0v1.6M330.5 19.2v.6M330.4 23.4v.6M330.4 26.8v1.2M330.3 32.8v.6M330.1 35.8v1.2M330.6 37.0v.6M330.5 38.0v.9M330.6 49.0v1.2M330.4 50.2v.9M330.1 53.0v.6M330.2 62.4v.9M330.5 67.0v.6M330.3 74.4v1.2M330.4 76.8v1.6M330.2 77.6v1.6M330.3 84.0v.9M330.0 89.6v1.6M330.2 91.4v.9M330.1 92.4v1.2M335.7 5.8v.6M335.5 13.2v.9M335.3 16.4v.9M335.4 17.2v.6M335.8 20.6v1.2M335.3 21.6v.9M335.7 29.2v1.6M335.5 31.4v1.6M335.4 32.4v1.2M335.4 38.4v.9M335.3 40.4v.6M335.3 42.4v.9M335.8 48.2v.9M335.3 50.8v1.6M335.7 52.6v1.2M335.8 54.6v1.6M335.5 55.6v1.2M335.3 61.6v1.2M335.8 68.6v.9M335.7 73.4v1.2M335.8 75.2v1.6M335.9 77.4v.6M335.8 78.2v1.2M335.5 84.6v1.2" stroke="#9696d0" stroke-width="0.8" fill="none" opacity="0.6"/>
<path d="M207.3 5.4h1.9M233.9 5.8h1.9M261.5 5.6h3M281.6 5.5h2.9M219.6 40.2h.8M218.5 49.8h2.1M219.0 65.2h1.6M218.8 74.6h1.8M218.6 76.6h2M218.9 80.8h1.1M219.0 87.5h2.4M219.6 90.3h1.1M214.2 55.0h1.3M213.1 56.8h2M214.0 57.5h1.1M214.2 63.0h1.6M213.3 68.3h2.3M214.2 69.3h1.1M213.2 70.0h2.1M213.9 70.9h2.3M214.1 74.9h2.1M214.0 75.5h1.1M214.6 78.7h1M214.2 84.4h1.9M213.9 86.3h2M213.8 89.7h1.6M214.4 90.5h1M223.5 64.6h2.6M224.9 70.3h2.5M224.3 72.5h1.6M224.8 74.8h.8M223.9 77.2h2.3M224.2 82.0h1M224.2 83.7h1.7M224.1 86.7h1.4M225.0 89.2h1.9M224.2 90.5h1.4M225.0 91.3h1.7M229.0 59.3h2.2M229.2 61.2h2.6M228.5 63.7h2.8M230.0 66.6h2.7M229.2 70.6h1.9M230.1 73.0h1.3M229.4 75.1h1.2M229.8 77.6h2.3M230.1 78.6h2.2M229.7 79.7h1.9M229.5 80.5h.8M230.3 81.5h1.6M229.8 86.1h.8M229.8 90.3h.8M234.7 70.2h1.3M235.3 71.1h2.6M235.0 73.7h1.8M234.8 74.5h1.3M233.8 75.5h1.9M235.0 76.3h1.1M234.8 84.7h1.1M234.8 91.2h1.8M229.9 15.1h2.1M228.8 18.5h2.2M229.6 19.5h1.8M229.6 20.7h1.6M229.1 22.1h1.4M228.6 30.1h1.8M228.7 33.2h3.2M229.6 34.0h2.9M229.8 38.6h.9M229.4 39.3h1M228.3 42.5h2.9M229.5 44.8h2.9M229.9 49.1h2.5M229.3 50.0h1.5M229.9 54.7h1.7M228.7 56.8h2.3M235.3 12.5h1.5M235.5 14.5h1.1M234.7 17.1h.9M235.4 17.8h1.6M235.4 22.4h1.7M234.5 26.9h1.9M234.1 27.8h1.9M234.8 28.9h2.3M233.6 32.4h2.5M235.3 34.8h2.1M235.3 35.6h1.2M234.8 36.4h1.9M233.2 39.2h3.5M235.4 45.3h3.3M235.5 48.3h3.2M235.1 49.6h2.6M235.0 52.7h2.9M234.5 53.3h1.5M234.3 57.5h3.1M224.6 33.6h1.3M224.6 38.8h.8M225.1 40.8h1.3M224.1 44.3h1.7M224.0 49.2h2M223.8 51.5h2M225.1 52.8h1.2M224.2 54.0h1.6M224.4 54.8h.9M240.3 61.5h1.6M239.1 62.3h1.8M240.0 65.6h1.7M239.6 66.6h1.9M240.4 68.3h1.8M239.3 69.4h1.8M245.2 63.6h.8M250.6 66.1h1M250.8 67.3h1.1M256.2 66.3h.8M261.5 69.5h1.3M266.1 68.8h.8M267.2 70.2h2.1M272.1 67.8h1.6M282.6 52.1h1.2M283.0 53.5h1.2M283.0 54.3h2.1M288.6 52.4h1.1M282.3 57.5h3.8M282.2 58.6h1.3M282.7 59.2h2M283.0 66.5h2.6M281.7 75.5h2.7M287.7 73.7h1.7M281.6 82.2h2.2M283.5 86.7h1.2M287.3 80.6h3.2M288.1 81.8h1.9M287.3 83.0h5.4M288.0 84.0h4M286.9 91.6h2.8M288.7 20.1h1.2M288.7 21.3h.8M288.6 22.1h.8M288.7 24.0h.8M288.3 27.5h1.6M287.9 28.9h1.3M288.6 30.0h1M288.7 33.8h1M288.6 36.6h.8M288.5 44.7h.8M251.0 12.7h1.1M251.4 14.0h.8M251.0 17.0h1M251.5 21.6h.8M251.1 23.4h.8M251.4 37.7h.9M251.2 40.7h.8M251.3 41.9h.8M250.8 43.6h.8M219.2 15.4h.8M219.5 16.7h.8M219.4 18.0h.8M219.3 19.1h.8M219.7 26.1h.8M219.6 27.4h.8M219.4 29.0h1M219.7 30.4h.8M219.1 31.7h.8M219.5 34.3h.8M219.2 38.3h.8M276.3 92.6h2.3M224.0 61.8h2.7M237.2 63.0h2.2M250.4 64.6h2.1M257.2 65.5h3.2M261.6 66.5h3.4M265.6 67.1h3" stroke="#9696d0" stroke-width="0.8" fill="none" opacity="0.6"/>
<path d="M209.1 12.8v.6M209.1 14.0v1.6M208.9 16.6v.9M209.1 20.2v.9M209.2 27.2v1.6M209.2 47.6v1.6M209.4 61.0v.6M209.3 62.2v1.2M209.3 63.8v1.6M208.8 64.8v1.6M209.3 68.6v.9M208.8 74.0v1.2M209.2 75.2v.9M209.2 84.8v1.6M209.3 86.6v1.2M209.3 87.6v.6M209.0 92.0v1.6M214.5 15.8v.6M214.5 26.0v.9M214.4 53.6v.9M214.3 74.2v1.2M214.4 75.4v1.2M214.3 76.2v.9M214.6 86.8v1.6M214.8 7.9v1.6M214.3 7.3v1.9M213.6 5.2v1.5M219.9 21.9v1.6M219.4 39.1v1.6M219.7 42.5v.6M219.8 44.5v1.2M219.5 51.9v.6M219.7 54.3v1.6M219.5 62.9v1.2M219.6 70.5v.6M219.8 80.7v.9M219.8 83.5v.6M224.9 5.6v1.6M224.6 35.0v1.6M224.6 36.8v.6M225.0 37.8v.9M224.8 50.0v.6M225.2 64.0v.6M224.8 74.2v.6M224.7 78.6v.9M230.4 15.2v1.2M230.1 33.6v1.6M230.3 35.4v.9M230.1 36.2v.6M230.1 48.8v.9M230.1 52.6v.6M230.3 53.8v1.2M229.9 57.2v1.2M230.1 88.8v1.6M230.3 90.8v.6M230.0 5.6v1.7M235.2 13.9v1.6M235.6 14.7v.6M235.6 26.5v1.6M235.7 33.3v.6M235.6 37.3v1.6M235.4 48.3v1.6M235.7 52.1v.6M235.4 57.3v1.2M235.4 67.3v1.6M235.4 69.3v.9M235.6 92.7v1.2M240.5 7.1v1.6M240.9 9.3v.6M240.6 15.9v.6M240.7 26.7v1.2M240.8 29.9v.9M240.9 63.7v1.2M240.5 76.7v.9M240.7 78.5v1.6M241.1 5.5v1.7M246.0 8.7v1.6M246.2 15.7v.6M245.8 23.9v1.2M246.2 28.3v.9M246.1 41.5v.9M246.2 44.3v1.2M245.8 45.3v.9M245.9 69.1v.6M245.8 87.3v.6M245.7 91.3v1.6M246.4 6.2v1.6M251.4 5.1v.9M251.4 19.7v1.2M251.0 24.9v1.6M251.0 31.9v.6M251.5 64.5v.6M251.5 77.1v.9M251.0 5.4v1.5M256.3 6.8v.9M256.6 11.2v1.6M256.6 36.8v1.6M256.8 42.2v.6M256.4 47.8v.6M256.3 56.0v.9M256.6 60.2v1.6M256.6 63.4v1.2M256.3 67.4v.6M256.7 79.4v1.2M256.8 85.6v1.2M256.3 89.0v1.6M262.0 14.1v.6M261.7 18.1v.9M261.8 31.7v1.2M261.9 34.7v1.6M261.9 60.5v.6M262.1 68.9v1.2M261.6 72.3v1.6M262.0 73.5v.6M262.0 79.5v.6M267.3 28.4v1.6M266.8 32.6v.6M267.3 48.4v1.2M267.1 54.2v1.2M267.0 63.4v.6M266.9 64.4v.9M266.9 70.0v.9M267.3 72.4v.9M267.2 76.6v.9M267.3 81.6v.6M267.3 92.6v.6M267.4 6.8v.8M272.5 19.3v1.2M272.3 23.5v1.2M272.4 25.3v1.6M272.1 34.7v.6M272.2 51.1v1.6M272.6 53.5v.6M272.5 79.3v.9M272.1 82.3v.6M272.5 85.3v1.2M272.2 89.1v1.2M272.6 89.9v.9M272.5 90.9v.6M277.9 13.6v1.2M277.5 15.4v.9M277.7 20.2v1.2M277.9 39.2v.6M277.4 43.2v1.2M277.8 63.0v.9M277.4 6.9v1.7M282.7 8.4v.9M282.8 9.6v.6M282.6 10.6v1.6M282.8 12.4v.6M282.6 25.4v.6M282.8 27.4v.9M282.8 29.0v.9M282.9 30.2v1.6M283.1 32.4v1.6M282.9 47.0v1.6M282.6 47.8v.9M283.2 48.6v1.2M282.8 55.0v1.6M282.7 59.6v1.2M283.0 71.0v1.6M283.0 72.0v.9M282.8 75.2v1.2M282.9 85.6v.6M283.0 88.8v1.6M283.1 92.2v.6M288.2 7.8v.9M288.1 20.0v.9M287.9 26.6v.6M288.1 40.2v1.2M288.2 41.0v.6M288.2 43.0v.9M288.4 46.8v1.2M288.2 65.2v.9M288.1 71.0v.9M288.2 79.0v1.6M287.4 5.3v1M293.7 18.9v1.6M293.1 25.1v1.2M293.5 25.9v.6M293.2 33.3v1.2M293.6 54.5v.6M293.5 57.9v1.2M293.1 62.3v1.2M293.5 65.1v.6M293.2 77.1v.6M293.7 80.9v1.6M293.2 85.9v1.6M293.2 86.9v1.6M293.8 5.2v1.6M298.5 7.3v.9M299.0 11.9v1.6M298.5 24.3v.9M298.9 45.7v1.6M298.7 56.1v1.2M298.7 74.9v.6M298.9 88.1v.9M303.9 15.1v1.2M304.0 18.1v.9M303.7 25.3v1.6M303.7 32.7v1.6M303.7 39.5v1.2M303.7 41.7v.9M303.9 47.9v.6M304.1 53.5v1.6M303.9 55.5v1.6M303.9 57.7v.9M303.7 62.5v.6M304.2 67.7v.9M303.8 79.5v1.2M303.7 87.7v1.6M303.7 88.9v1.6M303.4 7.5v1.4M309.4 6.4v.9M309.5 15.6v1.2M309.3 19.8v1.2M309.0 28.2v.6M309.1 33.4v.6M309.5 67.2v.9M309.0 79.2v.9M314.7 5.4v1.2M314.5 13.4v1.2M314.6 24.2v.9M314.3 25.2v.6M314.7 31.0v1.2M314.7 37.4v.9M314.4 40.0v.6M314.2 42.0v.9M314.6 46.8v.9M314.4 59.2v1.2M314.3 63.8v.9M314.2 77.4v.9M314.4 80.4v1.2M314.8 81.6v.6M319.9 12.8v.6M319.6 23.0v1.6M320.0 37.6v.9M320.1 40.6v.6M319.9 59.8v.6M319.7 79.6v.6M319.7 83.0v1.6M319.6 85.8v.9M320.0 7.0v1.8M324.9 6.0v.6M325.0 20.2v1.2M324.8 30.6v.9M325.0 39.0v1.2M325.3 57.8v.9M325.0 91.0v1.2M330.6 39.2v1.2M330.0 41.0v.9M330.1 43.0v.9M330.2 52.2v1.2M330.2 75.6v.9M330.5 88.0v1.6M335.3 7.8v1.6M335.7 14.0v.9M335.5 22.4v1.2M335.6 43.4v.9M335.5 62.6v1.6M335.3 67.8v1.6M335.4 83.4v.6M335.7 86.8v1.2M277.3 89.1v1.5" stroke="#5c5cbc" stroke-width="0.8" fill="none" opacity="0.7"/>
<path d="M208.2 6.9h2M207.3 7.8h1.7M224.0 5.8h1.2M224.3 7.9h2.1M239.3 5.7h1.9M240.2 6.5h2.1M244.7 6.0h2.3M250.2 6.4h1.7M256.2 7.4h1.7M255.3 7.8h2M261.4 6.2h2.2M260.4 5.8h2.4M270.8 5.3h1.7M277.1 5.7h1.2M277.1 6.6h2.5M286.7 6.3h2.6M292.9 7.4h1.9M308.2 5.4h1.5M318.1 6.4h1.6M323.8 6.8h1M330.0 5.1h2.6M334.6 7.8h2.2M219.1 41.2h.8M218.8 41.6h1.4M219.5 42.0h2M219.0 42.5h1M219.1 44.4h1.5M219.4 44.9h1.2M218.8 45.9h1.7M218.9 47.8h2.6M217.6 48.6h3.4M219.0 50.1h1.2M219.1 52.3h1.3M219.1 52.8h.8M219.2 53.8h1.6M219.7 55.4h1.3M219.5 57.9h2.2M219.7 60.6h2.7M218.8 62.2h3M218.3 63.7h3.8M219.3 64.7h1.7M218.8 67.3h1.2M219.5 68.9h1.1M219.7 71.1h1.2M219.4 72.9h.8M219.0 73.4h.8M219.0 77.8h2.6M219.3 78.9h1M219.6 79.3h2.2M218.9 81.9h2.2M217.9 82.1h2.1M218.5 85.7h1.4M218.0 86.3h2.2M219.6 90.7h1M214.4 56.0h.8M213.3 59.2h2.3M213.8 60.2h1.8M213.9 63.9h1M214.5 64.7h.9M213.6 66.5h2.2M213.3 67.3h2.1M213.6 73.8h2M214.4 77.3h1.2M214.5 78.0h.8M214.2 79.4h.8M214.5 80.5h1.2M214.4 81.4h1.2M213.6 82.4h1.2M214.2 83.5h1.8M213.7 89.0h1.7M213.7 91.4h2M225.2 59.0h1.3M223.3 60.5h2.7M224.7 61.4h1.4M223.7 62.4h2.6M224.1 62.9h2.1M224.9 63.5h1.3M225.2 65.0h1.6M224.8 65.5h2.1M224.2 71.0h1.4M224.5 71.7h1.2M223.5 76.1h2M223.7 77.9h1.2M224.1 80.7h1.7M223.3 84.9h2M224.9 85.9h1.8M223.4 87.4h2.6M229.0 59.8h3.4M229.7 60.2h2.3M230.3 60.6h2.1M228.2 61.7h2.1M229.2 62.3h3.1M229.7 62.8h2.9M229.2 64.6h2M230.1 65.1h2M229.7 71.4h1.4M229.3 72.3h1.8M229.3 73.9h1.2M228.9 75.8h2.5M229.4 76.5h.8M229.5 82.3h1.1M229.5 83.2h.9M230.2 85.0h1.6M230.0 87.3h1.9M229.9 88.0h.9M229.6 89.1h1.7M229.3 91.1h1.6M234.8 59.1h2.8M235.2 59.7h1.6M234.8 60.5h1.9M234.9 61.9h2.8M235.3 63.1h1.9M235.2 63.7h2M235.0 64.6h2.9M235.4 65.1h1.8M234.9 71.8h1.7M234.5 72.5h1.5M235.5 77.6h1.4M234.4 78.5h1.5M234.9 79.7h2.2M233.9 83.5h2.8M234.9 85.8h1.4M235.4 86.5h1.1M234.8 87.3h1.4M235.6 89.4h2.2M234.1 90.2h1.6M235.1 92.0h1.5M229.8 12.2h1.3M229.9 14.1h.8M230.0 15.8h1M229.2 17.6h1.6M229.3 24.5h1M229.8 25.3h1.2M229.8 26.5h1.2M229.9 28.7h1.4M229.9 29.8h1.1M229.1 31.0h1.9M229.0 31.8h1.9M229.5 36.3h1.7M230.3 36.9h1.9M229.0 37.8h2.1M228.9 43.3h1.5M229.6 44.1h1.8M228.4 45.7h2.1M230.2 46.4h1.1M229.6 48.5h1.7M229.1 50.8h3M228.9 51.7h3M230.1 52.2h1.6M230.2 53.2h1.9M230.1 55.3h1.2M229.5 56.1h1.4M235.5 15.3h1.5M235.4 16.3h1M234.7 18.5h1.7M235.3 19.2h.8M235.1 20.2h1.9M234.7 23.4h.9M234.0 24.3h2.1M234.5 26.2h1.8M234.8 29.7h1.3M233.5 30.5h2.1M235.1 31.2h1.6M234.7 33.2h2.9M235.1 37.0h2.1M234.8 37.8h2.5M233.9 38.7h1.8M233.7 40.7h2.8M235.1 41.5h1.9M235.3 44.3h1.2M235.2 46.2h1.9M234.2 46.9h2.1M233.9 51.6h3.1M235.3 54.1h2.3M234.9 54.7h1.8M235.3 55.3h1.1M235.4 56.1h1.6M224.8 31.7h.8M224.7 37.0h1.6M224.2 37.7h1.4M225.1 45.3h1.1M224.4 46.6h1.1M240.6 60.5h1.6M239.8 63.2h1.2M240.7 63.7h2M240.7 64.7h1M246.1 64.3h.8M245.0 66.8h1.4M246.0 67.5h1.5M251.1 64.8h1.5M251.0 66.8h1.4M251.2 68.0h1.3M255.2 65.4h2.6M256.6 66.9h.8M256.2 67.9h1.6M260.9 65.8h1.5M260.7 66.6h1.8M260.3 67.4h1.6M261.3 68.2h1.2M272.4 69.2h2.5M272.2 70.8h1.6M281.4 48.3h2.2M282.8 49.1h.9M282.3 49.9h2.5M283.0 50.6h1.3M283.5 51.3h1.1M283.6 52.7h1.8M283.4 54.8h1.7M288.0 50.0h1.8M288.5 51.1h1.8M282.9 55.6h3M283.3 57.0h2.3M280.9 59.9h4.3M280.4 61.3h4.1M283.2 62.0h1.8M283.0 63.6h1.8M282.3 64.2h2.1M282.2 64.9h1.9M281.7 65.7h2.5M281.6 68.4h3.3M281.4 68.8h3.3M288.2 55.7h3.1M286.7 58.0h1.6M288.6 58.6h3.1M286.3 59.1h6.5M288.0 59.8h1.9M287.3 60.6h2.9M288.2 62.0h3.4M288.6 63.1h1.9M286.9 63.8h6.4M286.7 65.9h4.5M286.5 66.6h5.2M286.2 68.1h5.5M285.5 68.7h3M282.4 69.3h2.4M281.9 71.5h2.7M283.0 72.1h2.3M286.4 69.8h2.3M288.7 71.9h2.3M287.7 73.3h2.4M287.6 74.3h1.2M287.8 75.4h2.3M282.8 76.1h1.6M283.1 79.1h3.8M282.5 84.9h1.7M283.0 87.3h1.7M288.1 78.3h2.1M286.5 79.6h2.3M286.7 80.1h3.3M286.3 81.3h3.6M288.8 82.5h3M287.3 84.7h3.9M287.2 85.4h4M288.1 86.5h4.7M288.0 87.4h3.2M282.8 89.3h1.4M283.3 89.9h2.8M283.3 90.4h2M282.4 91.2h3.4M286.0 88.9h3.7M287.4 90.1h2.7M287.9 15.9h1M288.1 16.9h.8M288.2 18.0h.8M288.5 19.2h1M287.9 23.1h1.6M288.3 25.0h.8M288.6 26.2h.8M287.8 31.3h1.1M288.1 32.8h.9M288.6 35.2h.8M288.7 37.5h.8M288.7 38.5h1.4M288.7 40.6h.8M288.8 42.0h1.5M288.5 43.4h.8M288.3 45.6h.8M250.8 10.9h1.1M251.0 15.8h.8M250.8 18.8h.9M250.5 25.0h1M250.9 26.4h.8M251.1 28.0h.8M251.0 30.5h.8M251.0 31.8h.8M251.4 34.2h.8M250.6 36.1h1.1M251.3 47.2h1.3M250.7 48.4h1M219.6 20.7h.9M219.3 21.8h.8M219.7 23.1h.8M219.2 25.0h.8M219.0 32.9h1M219.4 35.5h1M219.0 37.0h.8M219.8 39.8h.8M277.0 91.1h1.2M277.4 91.8h2.5M277.4 91.4h1.2M227.3 62.3h2.4M230.3 62.3h2.6M240.1 63.4h3.2M244.7 63.7h1.7M247.1 64.0h2.9M269.4 67.6h1.7M271.6 69.0h2.4" stroke="#5c5cbc" stroke-width="0.8" fill="none" opacity="0.7"/>
<path d="M209.4 43.4v.6M209.1 72.8v1.6M214.2 86.0v1.6M219.4 62.1v1.2M219.6 84.7v1.2M219.6 5.4v1M224.8 15.6v1.6M229.9 6.7v2M229.5 5.7v1M235.5 59.5v1.6M235.5 60.3v.6M235.5 62.7v.6M235.4 80.9v.6M236.0 7.7v1.6M240.8 8.3v1.6M240.7 18.3v1.6M240.7 21.3v.6M240.7 75.5v1.6M240.8 80.9v1.6M246.2 38.7v.9M246.0 62.1v.9M251.2 39.3v1.6M251.1 46.3v1.2M250.6 5.4v.8M256.7 31.8v1.2M256.4 36.0v.6M256.8 48.6v.6M256.5 84.4v.6M267.4 30.4v.6M266.9 36.4v.9M266.8 49.4v1.6M266.9 91.6v.9M266.7 8.0v.9M267.5 6.2v1.4M272.4 43.5v.9M273.1 5.5v1M277.6 46.4v1.6M277.9 63.8v.9M282.8 13.6v1.6M283.0 54.2v1.2M288.0 10.8v.6M288.0 29.8v1.6M288.3 32.0v1.2M288.4 32.8v.9M288.2 58.6v1.6M287.9 72.8v1.6M293.4 42.1v.6M293.1 81.9v.6M297.9 5.3v1.8M304.2 74.7v1.6M303.3 6.7v1.6M309.1 5.8v1.9M309.7 6.0v1.5M314.8 21.4v1.6M314.7 91.2v1.2M320.0 61.8v.9M320.3 7.7v1.1M325.0 73.0v1.6M324.8 7.2v1.7M330.2 12.0v1.2M330.1 55.0v.6M330.1 6.5v1.3M335.8 28.2v1.6M336.1 6.4v1.7M335.2 7.4v1.7M277.5 91.6v1.5" stroke="#3030b0" stroke-width="0.8" fill="none" opacity="0.85"/>
<path d="M218.6 5.8h2.3M217.9 6.9h2.1M223.1 6.6h2.1M235.0 6.7h2.2M245.7 6.3h2.8M256.2 6.0h2.1M270.8 6.9h2.8M281.7 5.4h1.1M282.0 7.4h2.9M287.2 5.5h1.4M293.0 7.3h1.9M297.7 5.0h2.7M298.2 6.1h2M303.3 5.5h2.9M312.9 6.8h2.7M314.0 6.3h1.2M312.9 7.3h1.7M324.4 5.1h2.9M329.4 5.1h2.6M218.5 40.7h1.7M219.3 43.1h1.5M219.0 43.5h2.5M218.7 44.0h1.3M219.7 45.4h.9M218.0 46.3h2.4M218.9 46.9h3.4M218.3 47.3h4.5M219.7 48.2h4.4M219.7 49.2h1.9M219.0 50.6h1.1M218.9 51.1h.9M219.1 51.7h1.4M219.4 53.4h.8M218.4 54.3h1.5M219.1 54.9h.8M218.7 56.1h1.3M219.0 56.7h1.1M219.1 57.4h1.8M219.4 58.5h3.8M217.6 59.0h3M217.7 59.4h4.2M216.2 59.9h4.9M217.2 61.1h3M219.7 61.7h1.9M219.8 62.6h2.6M218.8 63.0h2.6M219.4 64.1h3M218.6 65.8h1.8M219.1 66.3h2.1M219.6 66.7h2.9M219.3 67.8h.8M218.9 68.4h1.2M218.9 69.5h1M219.5 70.2h1.2M219.0 70.6h.8M218.7 71.8h1.6M218.9 72.4h.8M219.1 74.2h2.5M218.3 75.0h3.8M218.0 75.5h2.7M217.9 76.0h2.8M219.3 77.2h1.8M218.8 78.4h1.2M218.9 79.8h1.9M218.8 80.3h.9M218.6 81.3h1.5M217.8 82.7h3.6M218.1 83.2h4.7M217.4 83.6h4.5M218.3 84.1h3.7M218.6 84.6h1.9M218.8 85.3h4.2M219.8 86.9h1.7M219.6 88.1h4M219.8 88.7h5.9M219.3 89.3h1.1M218.0 89.6h1.5M218.9 91.4h.9M218.6 92.0h1.5M219.6 92.4h.8M219.5 93.0h2.1M214.2 58.3h2.1M214.2 61.0h1M212.8 62.0h2.1M213.6 65.8h1.6M214.0 72.1h1.6M213.8 72.8h1.3M214.4 76.6h.9M214.0 85.2h2.1M212.7 87.3h2.4M214.5 88.3h1.8M223.9 59.4h3.3M223.3 59.9h3.6M224.6 60.9h2.1M223.0 61.9h3.1M223.3 64.0h2.9M224.8 65.9h4.5M225.1 66.3h1.3M223.9 66.7h2.4M224.6 73.6h1.7M224.7 79.2h2.6M225.1 79.9h1.4M224.2 82.8h1.6M224.4 88.3h2.1M229.5 63.3h2.2M229.3 64.1h1.3M229.9 65.6h2.3M230.1 66.2h2.8M229.3 84.1h3M234.4 60.1h1.7M235.1 61.0h1.8M235.5 61.5h1.6M235.6 62.5h1.4M234.5 64.1h1.6M234.7 65.7h1.4M234.2 66.3h3.1M234.8 66.9h4M235.6 80.5h.8M235.1 81.5h1.4M234.2 82.6h1M235.4 88.3h1.9M230.1 12.9h1.3M230.1 16.7h1M229.7 21.5h1.1M230.1 23.3h1.8M229.6 27.8h2M230.0 32.5h2.4M229.8 34.6h1.5M229.2 35.3h2.4M230.1 39.9h1.6M228.8 40.6h1.8M228.9 41.2h2.5M229.8 41.8h1.3M229.2 47.3h2.8M229.1 47.9h3M230.0 54.1h1.7M229.3 57.5h2.7M235.6 13.5h1.3M234.7 21.3h2.4M233.9 25.2h1.6M234.4 31.8h2M233.9 34.0h1.6M235.3 40.0h2.7M234.6 42.1h2.3M233.1 42.9h2.2M235.3 43.5h2.5M235.3 44.8h1.2M232.9 47.5h3.6M235.1 49.1h1.3M235.2 50.2h2M235.5 50.9h1.3M234.5 52.2h2.1M234.3 56.7h2.4M224.9 30.3h.8M224.1 32.6h1.8M224.8 34.5h1.7M224.4 35.6h1.5M225.1 39.8h1.3M224.9 42.0h.8M223.6 43.3h1.5M224.4 47.9h1.1M224.6 50.3h1.2M239.5 67.3h2.5M245.2 65.1h2.1M246.2 66.0h2M250.2 65.5h2.3M256.2 68.7h2.5M261.0 68.9h.8M267.0 66.6h2.1M266.7 67.4h1M266.0 68.0h1.4M266.8 69.4h1.1M270.7 68.6h1.6M271.0 69.9h2.3M287.4 48.3h2.4M287.3 48.8h1.7M288.6 49.5h3.8M288.8 50.5h2M286.8 51.8h3.7M287.1 53.1h2.4M287.7 53.8h3.2M287.6 54.4h2.7M288.4 54.9h.8M282.3 56.3h4.8M282.6 58.0h5.5M283.0 60.7h2.9M282.3 62.6h2.4M282.1 63.1h4.4M282.2 67.0h2M283.1 67.7h2.2M287.8 55.2h2M288.5 56.1h1.8M288.4 56.9h6.4M288.4 57.5h3.7M286.6 61.4h6.6M284.9 62.6h6M286.1 64.5h2.8M287.2 65.0h2.9M286.5 65.4h3.5M287.0 67.3h4.6M282.6 70.1h2.1M282.6 70.6h1.1M283.2 72.6h2.1M281.9 73.4h2.4M282.5 74.2h1.3M282.5 74.9h2.4M288.2 69.4h2.2M288.7 70.5h2M286.5 71.2h2.7M287.7 72.6h1.8M287.7 75.0h1.6M283.4 76.9h3.4M281.6 77.6h4.9M281.9 78.3h3M283.3 79.7h2.8M282.8 80.4h3.1M283.0 80.9h2.5M280.1 81.5h3.1M281.2 82.9h2.5M282.7 83.5h2.6M281.5 84.1h2.6M282.5 85.4h2.4M282.8 86.2h3.4M287.6 76.4h3.5M287.8 77.2h5M287.2 77.7h3.3M285.8 78.7h4M287.9 79.2h4.7M286.3 83.5h4.3M285.6 85.9h2.8M285.5 86.9h5.3M286.9 87.9h2.8M282.8 88.5h1.5M283.5 91.8h1.9M283.3 92.5h1.6M287.8 88.0h1.7M288.4 88.5h3.5M288.2 89.5h2.3M287.3 90.6h3.2M287.8 91.0h2.2M287.5 92.2h2.2M287.1 92.6h2M287.8 39.5h1M288.0 46.8h1.2M251.3 20.2h.8M251.3 29.4h.8M251.2 32.9h.9M250.9 38.9h.8M251.1 45.3h1.1M251.0 49.5h.8M234.4 62.3h2M253.5 65.0h3.3" stroke="#3030b0" stroke-width="0.8" fill="none" opacity="0.85"/>
<rect x="208.7" y="5.0" width="127.80000000000001" height="88.2" fill="none" stroke="#a8a8b0" stroke-width="0.6"/>
<line x1="208.7" x2="336.5" y1="5.4" y2="5.4" stroke="#3a3ab8" stroke-width="1.3"/>
<rect x="390.3" y="5.0" width="127.49999999999994" height="88.2" fill="#fff"/>
<line x1="390.3" x2="517.8" y1="16.76" y2="16.76" stroke="#bcbcbc" stroke-width="0.55"/>
<line x1="390.3" x2="517.8" y1="28.52" y2="28.52" stroke="#bcbcbc" stroke-width="0.55"/>
<line x1="390.3" x2="517.8" y1="40.28" y2="40.28" stroke="#bcbcbc" stroke-width="0.55"/>
<line x1="390.3" x2="517.8" y1="52.04" y2="52.04" stroke="#bcbcbc" stroke-width="0.55"/>
<line x1="390.3" x2="517.8" y1="63.80" y2="63.80" stroke="#bcbcbc" stroke-width="0.55"/>
<line x1="390.3" x2="517.8" y1="75.56" y2="75.56" stroke="#bcbcbc" stroke-width="0.55"/>
<line x1="390.3" x2="517.8" y1="87.32" y2="87.32" stroke="#bcbcbc" stroke-width="0.55"/>
<line x1="390.3" x2="517.8" y1="10.88" y2="10.88" stroke="#d2d2d2" stroke-width="0.5"/>
<line x1="390.3" x2="517.8" y1="22.64" y2="22.64" stroke="#d2d2d2" stroke-width="0.5"/>
<line x1="390.3" x2="517.8" y1="34.40" y2="34.40" stroke="#d2d2d2" stroke-width="0.5"/>
<line x1="390.3" x2="517.8" y1="46.16" y2="46.16" stroke="#d2d2d2" stroke-width="0.5"/>
<line x1="390.3" x2="517.8" y1="57.92" y2="57.92" stroke="#d2d2d2" stroke-width="0.5"/>
<line x1="390.3" x2="517.8" y1="69.68" y2="69.68" stroke="#d2d2d2" stroke-width="0.5"/>
<line x1="390.3" x2="517.8" y1="81.44" y2="81.44" stroke="#d2d2d2" stroke-width="0.5"/>
<path d="M394.5 5.0V93.2M403.6 5.0V93.2M412.7 5.0V93.2M421.8 5.0V93.2M430.9 5.0V93.2M440.0 5.0V93.2M449.1 5.0V93.2M458.2 5.0V93.2M467.4 5.0V93.2M476.5 5.0V93.2M485.6 5.0V93.2M494.7 5.0V93.2M503.8 5.0V93.2M512.9 5.0V93.2" stroke="#bcbcc4" stroke-width="0.6" fill="none" opacity="0.7"/>
<path d="M390.6 5.0V93.2" stroke="#5050b0" stroke-width="0.7" opacity="0.7"/>
<path d="M399.7 5.0V93.2" stroke="#5050b0" stroke-width="0.7" opacity="0.7"/>
<path d="M399.7 60V93.2" stroke="#4c4cbc" stroke-width="0.8" opacity="0.45"/>
<path d="M408.8 5.0V93.2" stroke="#5050b0" stroke-width="0.7" opacity="0.7"/>
<path d="M408.8 60V93.2" stroke="#4c4cbc" stroke-width="0.8" opacity="0.45"/>
<path d="M417.9 5.0V93.2" stroke="#5050b0" stroke-width="0.7" opacity="0.7"/>
<path d="M417.9 60V93.2" stroke="#4c4cbc" stroke-width="0.8" opacity="0.45"/>
<path d="M427.0 5.0V93.2" stroke="#5050b0" stroke-width="0.7" opacity="0.7"/>
<path d="M427.0 60V93.2" stroke="#4c4cbc" stroke-width="0.8" opacity="0.45"/>
<path d="M436.1 5.0V93.2" stroke="#5050b0" stroke-width="0.7" opacity="0.7"/>
<path d="M436.1 60V93.2" stroke="#4c4cbc" stroke-width="0.8" opacity="0.45"/>
<path d="M445.2 5.0V93.2" stroke="#5050b0" stroke-width="0.7" opacity="0.7"/>
<path d="M445.2 60V93.2" stroke="#4c4cbc" stroke-width="0.8" opacity="0.45"/>
<path d="M454.3 5.0V93.2" stroke="#5050b0" stroke-width="0.7" opacity="0.7"/>
<path d="M454.3 60V93.2" stroke="#4c4cbc" stroke-width="0.8" opacity="0.45"/>
<path d="M463.5 5.0V93.2" stroke="#5050b0" stroke-width="0.7" opacity="0.7"/>
<path d="M463.5 60V93.2" stroke="#4c4cbc" stroke-width="0.8" opacity="0.45"/>
<path d="M472.6 5.0V93.2" stroke="#5050b0" stroke-width="0.7" opacity="0.7"/>
<path d="M472.6 60V93.2" stroke="#4c4cbc" stroke-width="0.8" opacity="0.45"/>
<path d="M481.7 5.0V93.2" stroke="#5050b0" stroke-width="0.7" opacity="0.7"/>
<path d="M481.7 60V93.2" stroke="#4c4cbc" stroke-width="0.8" opacity="0.45"/>
<path d="M490.8 5.0V93.2" stroke="#5050b0" stroke-width="0.7" opacity="0.7"/>
<path d="M490.8 60V93.2" stroke="#4c4cbc" stroke-width="0.8" opacity="0.45"/>
<path d="M499.9 5.0V93.2" stroke="#5050b0" stroke-width="0.7" opacity="0.7"/>
<path d="M499.9 60V93.2" stroke="#4c4cbc" stroke-width="0.8" opacity="0.45"/>
<path d="M509.0 5.0V93.2" stroke="#5050b0" stroke-width="0.7" opacity="0.7"/>
<path d="M509.0 60V93.2" stroke="#4c4cbc" stroke-width="0.8" opacity="0.45"/>
<path d="M518.1 5.0V93.2" stroke="#5050b0" stroke-width="0.7" opacity="0.7"/>
<path d="M518.1 60V93.2" stroke="#4c4cbc" stroke-width="0.8" opacity="0.45"/>
<path d="M390.7 5.8v1.6M390.7 10.0v.9M390.4 12.8v1.2M390.4 24.8v.6M390.5 28.2v1.2M390.3 34.2v.6M390.6 36.0v.9M390.5 41.8v1.6M390.6 42.8v.6M390.4 49.8v1.2M390.5 56.0v1.2M390.8 59.0v1.2M390.8 64.4v1.2M390.7 68.4v.9M390.4 70.2v1.6M390.8 73.6v.6M390.6 74.6v1.6M390.3 78.8v.6M390.4 79.8v.9M390.5 80.6v1.2M390.4 81.6v1.2M390.8 82.6v1.6M390.9 84.6v1.2M390.5 85.8v1.2M390.8 89.6v.9M390.3 90.8v1.6M390.0 5.9v1M390.8 61.3v.9M399.8 10.1v1.2M399.7 13.7v1.6M399.7 14.5v.6M400.0 21.1v1.6M399.5 34.9v.9M399.8 45.5v.9M399.9 49.3v.9M399.8 55.9v1.2M399.6 57.1v1.6M399.7 66.1v.9M399.9 67.9v.9M399.9 69.7v1.6M399.6 71.5v.6M399.5 73.7v.9M399.6 75.5v1.2M399.4 78.7v.9M399.5 80.7v1.6M399.6 83.9v1.2M399.5 85.1v1.6M399.9 88.1v1.2M399.8 89.9v1.6M399.9 90.9v1.2M399.5 91.9v1.2M408.7 6.5v.9M408.8 13.7v.6M409.0 20.9v1.6M408.8 21.7v.9M408.5 24.9v.9M408.8 31.5v1.2M408.8 34.1v.6M409.0 39.1v1.6M409.1 43.1v1.6M408.9 54.3v.9M408.8 64.9v.9M408.7 67.5v1.2M408.6 70.7v.6M408.6 71.5v1.2M408.5 73.5v1.6M408.8 75.1v1.2M408.8 76.1v1.2M408.8 77.9v1.2M409.1 79.5v.6M408.9 81.5v.9M408.6 83.9v1.6M409.0 88.3v1.2M408.9 89.3v1.6M409.0 91.3v1.2M417.7 5.1v1.2M417.9 7.5v1.6M417.9 8.3v.9M418.0 11.7v.9M418.2 14.1v1.2M417.7 22.9v1.2M418.0 27.9v.9M417.9 31.7v.9M417.9 35.7v.6M418.1 36.7v1.2M417.7 40.9v.9M418.1 41.7v.9M417.7 48.1v.9M417.7 51.3v.6M417.7 55.1v.6M417.7 57.7v1.6M418.1 61.9v1.6M417.7 62.9v1.2M418.1 64.7v1.6M418.2 65.7v1.6M417.7 66.9v1.2M418.2 67.9v.6M418.0 70.9v1.2M418.1 71.9v.6M417.9 74.7v.6M418.0 75.9v1.2M417.8 78.7v1.2M418.2 87.5v1.2M418.1 89.3v.6M418.3 61.8v1.6M427.1 6.5v.6M427.2 8.7v.6M427.0 11.5v1.6M426.9 12.7v.9M427.0 20.9v.9M426.7 21.9v1.6M426.8 32.3v1.6M427.2 35.7v.6M427.2 37.7v1.6M427.2 39.7v1.2M427.0 40.5v1.2M427.3 45.5v.9M426.8 48.1v.6M426.8 52.3v.9M426.9 54.3v.9M427.0 55.3v1.2M427.0 57.3v.6M427.1 59.3v.9M427.2 63.9v1.2M426.9 66.9v1.6M427.2 67.9v.6M427.0 74.1v1.2M426.8 77.5v.9M426.9 84.5v1.2M426.8 90.5v.6M427.3 92.1v1.6M427.2 63.7v1.4M436.2 9.4v1.2M436.1 11.8v.6M436.3 28.0v.9M436.4 33.2v1.6M436.4 34.0v1.2M436.1 36.8v.9M436.1 40.2v.6M436.0 41.0v.9M436.3 42.2v1.2M436.4 50.8v1.2M435.9 51.8v.9M436.3 55.6v.9M436.3 56.6v1.2M436.3 64.4v1.6M436.0 67.4v.6M436.2 73.8v1.6M436.0 74.6v1.6M436.1 76.8v.9M436.3 82.0v.9M436.0 86.6v1.6M436.3 89.8v.9M445.1 18.7v1.6M445.3 19.5v.6M445.5 30.1v.9M445.1 40.9v.6M445.5 44.7v1.6M445.0 51.9v.9M445.2 54.9v.9M445.4 61.1v.9M445.1 67.7v1.6M445.4 69.3v.6M445.0 72.1v1.2M445.2 77.3v1.6M445.4 79.7v.6M445.2 84.3v1.6M445.4 87.3v1.2M445.1 88.5v1.6M454.5 11.4v.9M454.5 12.2v.9M454.4 25.4v1.2M454.6 27.2v.6M454.1 29.4v1.2M454.6 33.6v.6M454.3 35.6v1.6M454.4 36.6v.6M454.3 41.0v.6M454.2 44.4v1.6M454.4 68.2v1.2M454.5 72.4v.9M454.1 73.6v1.2M454.1 76.0v1.6M454.2 79.2v.6M454.3 80.2v.6M454.4 82.4v1.2M454.3 83.6v1.2M454.3 86.0v1.2M454.3 87.0v.9M454.3 88.2v1.6M454.5 90.8v1.6M463.4 5.9v.6M463.7 10.3v1.2M463.2 15.5v.6M463.5 21.9v.6M463.6 26.7v.9M463.2 33.9v1.6M463.5 42.5v.9M463.4 44.5v1.6M463.2 47.9v1.2M463.4 52.5v.9M463.3 53.5v1.6M463.2 65.9v.6M463.7 69.1v1.6M463.2 69.9v1.2M463.7 77.5v.9M463.4 79.7v1.2M463.4 84.3v.6M463.7 85.5v.9M463.2 89.3v.9M463.2 90.3v1.2M463.4 91.5v1.6M472.8 6.7v1.2M472.8 8.9v1.6M472.3 9.7v1.2M472.4 14.7v.6M472.4 17.9v.9M472.7 26.5v1.6M472.7 29.3v.6M472.6 32.3v.9M472.7 35.3v.9M472.7 36.9v.6M472.5 43.3v1.2M472.4 63.7v.6M472.3 66.9v.9M472.4 70.1v.9M472.5 72.9v.9M472.6 74.1v1.6M472.3 76.1v1.2M472.3 77.3v1.6M472.6 78.3v1.2M472.6 79.1v.9M472.6 79.9v1.6M472.8 81.5v.6M472.5 86.5v.9M472.5 87.7v1.2M472.6 91.9v1.2M472.3 61.8v.9M472.8 62.8v1.6M481.7 6.4v.6M481.6 11.6v1.6M481.6 14.4v.6M481.5 16.6v1.2M481.4 27.0v.6M481.8 31.6v1.2M481.5 35.4v1.2M481.8 40.2v.9M481.8 43.4v.6M481.6 44.4v1.2M481.8 49.6v.9M482.0 52.2v.6M481.5 56.0v.9M481.8 62.4v1.6M481.6 64.0v1.2M481.5 67.0v1.6M481.5 70.8v1.2M481.4 79.6v.6M481.9 80.4v.6M481.8 82.6v1.6M481.7 91.0v1.6M482.0 5.2v.8M490.9 15.8v1.6M490.6 30.0v1.6M490.8 32.0v.9M490.9 34.0v1.2M490.9 37.0v.9M490.7 39.0v.6M490.7 39.8v1.6M490.6 53.4v.6M490.6 57.4v1.6M490.7 59.4v.6M491.0 69.0v1.2M490.8 73.6v1.6M490.9 74.8v.9M491.0 81.0v.9M491.1 83.2v1.6M490.7 84.2v1.2M490.9 85.0v.9M491.0 87.0v.6M491.1 88.2v.9M490.6 89.2v1.6M499.7 11.3v1.6M499.8 16.3v1.6M499.7 20.5v1.2M500.0 21.5v.6M499.9 22.3v1.6M500.2 23.5v1.6M499.7 32.7v1.6M500.1 37.3v.6M499.8 39.1v.9M499.9 42.3v1.6M499.6 44.5v.6M499.9 52.9v1.2M499.9 54.9v1.6M499.9 55.9v1.6M499.9 68.1v.9M499.6 69.3v.6M499.6 70.1v1.6M500.1 71.1v1.2M500.1 75.3v.9M499.8 76.3v1.2M500.0 77.3v1.2M499.8 81.7v.9M499.8 84.9v1.6M499.9 86.1v.6M500.1 88.1v.6M499.7 90.3v1.2M499.9 91.1v1.2M500.2 61.1v1.1M509.0 13.4v.9M509.0 14.4v1.2M508.8 23.0v1.6M508.9 23.8v1.2M509.2 29.2v1.6M509.1 38.4v.6M508.9 48.2v.6M509.0 51.6v.6M509.3 55.2v1.2M509.3 57.0v.6M509.0 68.0v1.6M508.8 69.8v.6M508.9 73.6v1.6M509.0 74.4v.6M508.7 75.4v.6M509.1 76.4v1.6M508.8 77.2v.9M509.2 79.2v.6M508.9 80.8v1.6M509.1 61.1v1.2M518.1 22.3v.9M518.2 27.3v.6M517.8 28.1v1.2M517.8 29.3v1.6M518.0 30.3v.9M518.2 31.3v1.2M518.0 34.3v.6M518.2 36.5v1.2M518.1 38.7v.9M518.2 40.3v.6M518.0 42.1v1.6M518.3 46.1v1.6M518.3 47.1v.9M518.0 50.3v.6M517.9 53.3v.6M518.3 55.3v.6M518.1 58.3v.6M517.9 60.7v1.6M517.8 64.9v.6M517.9 67.7v1.2M517.8 69.7v1.2M518.2 70.5v1.2M518.2 72.7v.9M517.9 75.3v.6M518.1 76.1v1.2M517.9 79.3v.6M518.1 82.9v1.6M518.1 85.3v.9M518.0 86.5v1.2M518.1 89.9v1.6M518.2 92.1v1.2M436.0 24.2v.8M435.6 26.6v.9M435.4 10.5v1.5M434.4 79.0v1.9M434.4 66.8v1.2M442.8 75.5v2" stroke="#9696d0" stroke-width="0.8" fill="none" opacity="0.6"/>
<path d="M417.3 63.8h2.3M444.5 62.8h1.6M462.7 65.9h1.6M489.7 63.6h1.7M498.7 61.6h3M507.4 7.3h1.6M508.2 61.7h2.6M517.3 63.3h1.6M391.0 55.0h3M391.0 58.0h3.5M437.0 67.6h8M437.0 75.8h6M418.0 78.3h5M418.0 84.0h5M398.0 85.6h3M444.5 77.5h4M440.0 67.6h6M445.0 75.8h7M484.0 78.3h5M484.0 83.2h5M499.0 87.3h5M513.6 87.3h3.4M440.0 87.3h3M437.0 49.0h4M445.0 52.0h4M430.0 56.0h3M470.0 60.0h3M421.4 87.2h2.3M460.8 74.3h1.6M446.3 83.2h4M453.5 64.5h4.9M469.6 65.2h4.1M402.7 72.0h4M416.9 82.0h4.4M473.5 87.3h4.6M508.5 84.0h4.5M479.8 76.0h3.1M448.6 76.9h2.2M464.7 77.6h2.8M421.2 76.8h4.5M472.9 57.8h2.3M505.3 68.7h4.6M459.1 81.1h4.1M458.2 75.9h4.1M429.5 63.2h3.2M499.7 70.1h4.9M511.2 67.6h2.4M432.8 65.8h4.7M504.6 55.4h4.6M482.1 74.1h3.8M479.5 76.9h4.6M446.6 77.8h2.2M497.5 59.8h2.3M391.6 59.9h4.9M406.7 90.7h2.8M477.4 76.4h3.2M455.7 81.2h4.6M411.8 61.3h3.8M499.8 71.3h2.5M441.1 87.0h3.6M445.1 77.0h1.8M484.8 72.2h1.9M471.2 55.8h3.1M449.3 91.1h1.9M493.6 90.9h2.9M462.3 57.6h4M409.1 56.4h4.5M487.7 74.2h2.9M429.1 90.3h3.2M419.5 58.8h2.3M461.1 80.4h3.6M495.9 67.1h3M463.6 56.2h3.1M423.9 64.4h4.7M426.6 76.3h2.1M455.7 71.8h4.1M489.8 14.7h3.6M499.4 32.0h2.6M442.5 16.6h3.5M444.8 15.4h2.7M453.5 45.0h2.1M472.8 51.4h3.6M458.0 14.8h2.1M410.0 15.4h2.5M438.3 16.4h2M474.4 53.2h2.9M399.0 33.6h2.2M502.3 46.2h2.1M404.7 44.8h3.6M461.9 36.3h2.2M501.5 37.0h3.7M505.3 46.2h2.8M440.7 30.3h2.4M444.8 82.3h2.4M442.4 85.8h1M433.9 86.6h2.6M435.1 71.1h1.2" stroke="#9696d0" stroke-width="0.8" fill="none" opacity="0.6"/>
<path d="M390.7 57.2v1.2M390.6 65.6v.6M390.8 71.2v.9M390.8 76.4v.6M390.7 77.6v1.2M390.8 83.6v1.2M390.7 88.8v1.6M390.1 60.2v1.9M390.9 63.8v1.9M390.4 65.9v1.7M399.6 41.5v1.6M399.6 60.3v.9M399.5 61.5v.9M399.8 62.3v1.6M399.8 64.3v.9M399.6 67.1v1.6M399.5 70.7v1.2M399.5 76.7v.6M399.5 81.9v1.6M399.9 88.9v1.6M399.9 7.7v1.9M399.6 64.6v1.9M399.9 61.9v1.3M399.3 60.3v1.1M399.8 65.9v1.1M399.3 64.0v1.8M409.0 8.3v1.2M408.8 9.9v.6M408.7 51.5v.6M408.8 60.5v.9M409.1 61.7v1.6M408.7 63.7v1.2M409.1 69.9v.6M409.1 82.7v.9M408.8 87.1v.9M408.6 92.3v1.2M408.8 5.2v1.4M409.0 5.1v1.4M408.9 64.6v1.7M408.2 62.3v1.3M409.4 64.4v.9M417.9 10.7v1.2M417.7 16.9v.6M417.9 30.7v.6M417.8 53.5v.6M418.0 69.7v.6M418.2 72.7v.9M418.2 76.9v.6M418.1 77.7v.6M417.8 79.7v1.6M418.0 80.5v.9M418.2 81.3v.6M418.2 82.3v.9M418.2 83.5v1.2M417.8 85.5v.9M417.7 86.5v1.2M418.0 90.3v.9M418.1 91.3v.6M417.9 92.3v.9M417.7 7.0v1.2M427.0 47.3v.9M427.0 61.1v.6M427.0 69.9v1.2M426.8 71.1v1.2M427.2 72.3v.6M427.2 73.3v1.2M426.7 75.1v1.6M426.8 79.5v.6M426.9 81.7v1.6M427.0 83.7v1.6M427.0 85.5v.9M427.3 87.5v.9M426.9 88.3v.6M427.1 91.3v1.6M435.9 21.2v1.6M436.0 46.0v1.2M436.0 61.8v.9M436.2 63.6v1.6M435.9 66.4v.9M436.4 68.4v1.2M436.2 69.4v.9M436.0 70.6v1.2M436.0 73.0v.6M436.2 78.8v.6M435.9 82.8v.6M436.4 85.8v1.2M435.9 87.4v.9M435.6 7.6v1.4M435.5 65.5v1.3M435.9 60.3v1.1M435.9 61.1v1.4M435.9 61.3v1M436.5 65.6v1.6M436.5 60.4v1.3M445.1 21.5v1.2M445.4 23.1v1.6M445.0 34.9v1.6M445.2 48.7v1.6M445.0 63.5v1.6M445.4 64.7v1.2M445.4 73.1v.9M445.5 74.3v.6M445.0 75.3v.9M445.3 76.3v.6M445.3 78.5v.9M445.4 83.5v.9M445.3 85.5v1.6M445.2 86.3v.6M445.0 91.9v1.2M445.3 7.3v1.6M445.6 61.7v1.4M444.8 63.4v1M445.4 61.3v1M445.3 63.9v.9M454.4 51.2v.9M454.6 60.4v.6M454.4 65.2v1.6M454.1 67.4v.9M454.4 75.2v1.6M454.4 78.0v.9M454.2 81.4v1.6M454.1 84.8v1.2M454.5 89.0v1.6M453.7 6.4v1.3M454.1 6.1v1.2M454.4 64.5v1M463.5 31.5v1.2M463.7 35.5v1.6M463.6 46.3v1.2M463.3 54.5v.9M463.4 60.7v1.2M463.5 66.9v.9M463.4 68.1v1.2M463.7 71.5v1.2M463.2 72.3v.6M463.5 73.1v.6M463.2 74.7v.6M463.7 75.5v1.2M463.4 76.3v1.6M463.5 87.5v1.6M463.5 88.5v.9M463.3 64.3v1.6M463.9 63.9v1.9M463.2 61.7v1.3M463.2 64.4v1.7M463.4 62.7v1.4M472.8 5.1v.6M472.7 59.9v1.6M472.6 61.1v.9M472.6 62.7v1.2M472.6 64.5v.6M472.8 80.7v1.2M472.4 82.7v.6M472.3 85.7v1.6M472.8 88.5v.6M472.5 89.7v.9M471.9 6.2v1M473.2 5.2v1.9M473.1 64.7v1.7M472.5 61.1v1.1M472.7 61.7v1.5M481.8 7.4v1.2M481.8 38.6v.6M481.8 45.6v.6M481.8 61.2v1.2M481.9 63.2v.6M481.8 64.8v.9M481.8 66.0v.6M481.9 68.2v1.2M481.8 75.0v1.6M481.8 81.6v.9M481.8 83.8v1.2M481.5 84.8v1.6M481.9 86.8v.6M481.4 89.2v1.2M481.7 92.2v1.6M481.9 7.4v1.9M482.2 65.0v1.3M481.4 63.2v1.8M481.1 62.6v.9M490.7 18.0v1.2M490.8 18.8v1.6M490.9 22.0v1.2M490.8 24.8v.6M490.6 41.6v1.2M491.0 58.2v.6M490.5 61.6v1.6M490.5 70.2v1.2M490.5 71.4v.6M490.6 72.6v1.6M490.9 78.0v1.2M490.9 79.0v1.6M490.5 82.0v1.6M491.1 90.0v1.2M490.6 91.8v.6M491.3 5.9v1M490.3 62.6v1.8M491.0 62.4v1.5M499.9 28.1v.6M500.1 49.7v.6M499.9 64.7v1.6M499.9 66.5v1.2M499.7 67.3v.9M499.7 73.1v1.6M499.9 80.5v1.2M499.6 89.3v.6M500.1 92.3v1.2M500.0 61.9v1M500.0 65.9v1.6M500.1 62.7v1.7M499.7 60.1v1M509.2 18.2v.9M508.8 19.0v.9M508.9 21.8v1.2M509.0 26.0v.9M509.3 36.4v1.2M508.7 43.8v1.6M508.9 53.2v.6M509.1 54.2v1.2M508.9 60.0v1.6M509.0 62.0v.9M509.1 64.2v.6M508.7 67.0v.6M509.3 70.8v.6M509.2 71.6v1.6M509.0 86.6v.6M508.8 87.6v1.6M509.3 91.6v.6M508.6 60.7v1.8M509.0 60.8v1.7M509.1 60.5v1.3M518.3 18.9v1.2M517.9 61.9v1.6M518.0 63.9v.9M518.1 65.9v1.2M518.0 66.9v1.6M517.9 68.5v1.6M518.2 71.5v1.2M518.2 73.5v1.6M518.1 74.5v.6M518.2 77.3v.6M518.3 78.5v1.2M517.9 80.1v1.2M518.2 81.9v1.2M518.2 84.1v.6M517.8 7.5v1.8M518.1 64.6v1.2M518.2 61.1v1.9M435.2 33.7v2M435.2 17.1v1.3M436.3 25.6v1.2M437.8 82.7v1M433.4 71.9v1.6M442.9 87.3v1.6M438.3 72.0v1.9M434.4 60.6v1.5" stroke="#5c5cbc" stroke-width="0.8" fill="none" opacity="0.7"/>
<path d="M389.2 6.1h1.3M389.6 5.2h2.9M389.6 63.6h1.7M408.0 62.2h1.5M416.3 6.3h2.4M416.3 7.9h2.3M426.5 61.9h2.7M425.5 64.7h1.1M426.3 63.2h1.5M425.7 60.2h1.5M434.7 6.2h2M434.4 5.8h2.5M434.8 60.4h1.2M435.2 63.4h1.2M453.2 65.1h1.6M462.3 5.4h2.8M462.7 63.9h2.1M471.5 6.7h1.9M481.1 7.8h1.7M481.0 62.0h1.1M489.4 7.8h2.1M489.2 6.9h1.3M490.0 65.8h2.3M499.0 7.5h2.4M498.1 5.4h1.7M499.4 60.1h2.7M507.8 5.5h2.5M517.8 7.7h2.3M517.1 5.2h2.7M516.9 65.9h2.9M517.6 64.9h1.1M397.0 61.0h7M406.0 60.9h6.5M415.0 60.5h8M424.5 60.8h4.5M433.5 60.8h4.5M443.0 60.5h4M452.0 60.7h20M479.0 61.1h4M488.0 61.1h4M497.0 60.4h5M506.0 61.1h5M399.0 48.8h5M437.0 64.4h7M490.6 87.7h2M458.2 68.1h2.9M498.3 81.6h1.7M414.5 67.0h4M429.2 65.2h2.4M391.3 89.6h1.7M462.0 41.4h2.2M440.7 39.3h3.4M496.5 10.7h2.7M479.7 40.0h2.2M414.8 10.6h2.5M435.3 36.9h2.3M434.5 46.7h2.3M441.4 74.9h1.1M443.6 91.8h1.6M434.4 80.8h3M435.9 81.3h1.8M443.5 82.1h1.5M436.3 68.0h1.4M432.8 64.0h1.5" stroke="#5c5cbc" stroke-width="0.8" fill="none" opacity="0.7"/>
<path d="M390.7 11.0v1.6M390.5 60.2v.9M390.5 61.0v.9M390.7 62.0v1.2M390.5 75.6v.9M391.0 62.6v.8M390.7 65.0v1.4M399.8 24.9v1.6M399.7 58.3v1.2M399.8 68.9v1.2M400.0 74.5v1.2M399.5 77.9v.6M399.5 86.3v.9M399.9 87.3v1.2M399.9 7.2v.9M399.5 60.5v1.5M399.9 65.7v1.5M408.5 14.5v1.2M408.8 62.5v.9M408.9 65.7v.9M408.6 66.7v.9M408.7 68.7v1.2M409.1 72.5v1.2M409.1 74.3v.6M408.8 80.3v.9M408.6 85.9v.9M418.0 52.3v.9M418.1 68.7v.6M418.1 88.3v1.6M417.5 64.8v2M417.9 65.3v1.4M417.7 61.7v1.6M427.0 65.1v1.2M427.3 82.7v1.2M426.3 5.9v1.7M435.9 60.8v1.2M436.1 62.6v.9M435.9 65.6v1.2M436.0 79.8v.9M436.1 89.0v1.6M445.3 25.1v1.2M445.3 49.5v.9M445.4 65.7v1.6M445.3 89.5v.6M445.2 63.2v1.7M454.6 58.4v1.6M454.5 63.6v1.2M454.5 70.6v.6M454.4 71.4v1.2M454.5 77.2v.9M454.7 64.7v1.8M454.6 63.7v.9M454.2 61.9v1.1M463.3 62.7v.6M463.4 73.9v.6M463.7 78.7v1.6M463.7 86.3v1.2M462.9 60.8v.8M472.3 61.9v1.2M472.6 83.7v.9M472.8 90.7v.6M472.8 66.0v1.4M473.1 62.7v1.9M481.9 70.0v1.6M481.9 73.2v1.6M482.0 64.2v1.2M491.0 64.8v.9M491.0 67.2v1.6M490.6 92.6v.6M491.0 63.4v1.7M490.2 61.5v1.1M491.3 64.9v.9M499.7 13.3v.9M500.0 60.7v1.6M499.8 63.9v1.2M499.6 74.3v.6M499.8 78.1v1.2M499.7 83.9v1.2M500.1 64.3v1.6M508.9 65.0v1.6M509.3 66.0v1.6M508.8 72.8v1.6M509.1 6.0v1.6M509.1 62.8v1.1M508.4 62.9v1.4M509.2 62.9v1.5M518.0 11.1v1.6M518.2 81.1v1.6M518.4 88.7v1.6M518.6 65.3v1.5M518.4 63.9v1.5M518.5 61.0v1.3M435.4 11.4v1.4M436.2 28.3v1.7M435.5 18.2v1.7" stroke="#3030b0" stroke-width="0.8" fill="none" opacity="0.85"/>
<path d="M389.4 60.9h2.6M399.4 6.5h2.5M398.5 64.2h3M407.1 7.7h1.8M407.5 60.6h1.1M407.6 60.1h2.4M408.1 65.8h1.2M408.2 64.4h2M416.9 61.3h2.5M417.0 62.1h1.7M417.5 61.1h2.7M426.5 7.9h1.7M425.7 5.6h1.7M425.6 60.0h1.6M426.5 62.3h1.7M425.5 61.3h1.2M445.0 5.8h2.3M444.3 7.2h2.9M444.5 60.7h1.1M444.3 64.7h1.7M453.3 7.3h3M453.3 61.9h1.2M452.8 64.4h1.3M453.4 61.4h1.1M461.9 6.0h1.7M462.0 7.9h2.9M471.4 65.2h1.5M480.9 62.4h2.7M481.0 66.0h1.9M480.1 61.3h1.6M489.9 65.6h2.4M498.3 6.8h1M435.0 21.3h2.4M444.5 65.1h2" stroke="#3030b0" stroke-width="0.8" fill="none" opacity="0.85"/>
<rect x="390.3" y="5.0" width="127.49999999999994" height="88.2" fill="none" stroke="#a8a8b0" stroke-width="0.6"/>
<line x1="390.3" x2="517.8" y1="5.4" y2="5.4" stroke="#3a3ab8" stroke-width="1.3"/>
<rect x="153.6" y="149.3" width="235.29999999999998" height="99.19999999999999" fill="#d8d8e8"/>
<path d="M154.1 149.3V248.5M156.3 149.3V248.5M158.4 149.3V248.5M161.7 149.3V248.5M166.0 149.3V248.5M167.1 149.3V248.5M173.5 149.3V248.5M176.8 149.3V248.5M196.2 149.3V248.5M202.7 149.3V248.5M203.8 149.3V248.5M208.1 149.3V248.5M216.7 149.3V248.5M222.1 149.3V248.5M245.9 149.3V248.5M249.1 149.3V248.5M251.3 149.3V248.5M255.6 149.3V248.5M256.7 149.3V248.5M261.0 149.3V248.5M276.1 149.3V248.5M281.5 149.3V248.5M285.9 149.3V248.5M289.1 149.3V248.5M291.3 149.3V248.5M309.6 149.3V248.5M310.7 149.3V248.5M311.8 149.3V248.5M323.7 149.3V248.5M326.9 149.3V248.5M350.7 149.3V248.5M356.1 149.3V248.5M357.1 149.3V248.5M363.6 149.3V248.5M366.9 149.3V248.5M370.1 149.3V248.5M377.7 149.3V248.5M378.7 149.3V248.5M383.1 149.3V248.5M385.2 149.3V248.5M388.5 149.3V248.5" stroke="#c6c6de" stroke-width="0.75" fill="none"/>
<path d="M155.2 149.3V248.5M164.9 149.3V248.5M172.5 149.3V248.5M191.9 149.3V248.5M209.2 149.3V248.5M210.3 149.3V248.5M211.3 149.3V248.5M215.7 149.3V248.5M234.0 149.3V248.5M236.2 149.3V248.5M238.3 149.3V248.5M250.2 149.3V248.5M252.4 149.3V248.5M253.5 149.3V248.5M270.7 149.3V248.5M275.1 149.3V248.5M288.0 149.3V248.5M293.4 149.3V248.5M297.7 149.3V248.5M305.3 149.3V248.5M308.5 149.3V248.5M315.0 149.3V248.5M320.4 149.3V248.5M324.7 149.3V248.5M330.1 149.3V248.5M336.6 149.3V248.5M337.7 149.3V248.5M339.9 149.3V248.5M344.2 149.3V248.5M345.3 149.3V248.5M351.7 149.3V248.5M358.2 149.3V248.5M369.0 149.3V248.5" stroke="#e6e6f2" stroke-width="0.75" fill="none"/>
<path d="M157.3 149.3V248.5M160.6 149.3V248.5M174.6 149.3V248.5M180.0 149.3V248.5M187.6 149.3V248.5M195.1 149.3V248.5M199.5 149.3V248.5M200.5 149.3V248.5M212.4 149.3V248.5M214.6 149.3V248.5M217.8 149.3V248.5M224.3 149.3V248.5M241.6 149.3V248.5M244.8 149.3V248.5M257.8 149.3V248.5M259.9 149.3V248.5M265.3 149.3V248.5M269.7 149.3V248.5M280.5 149.3V248.5M282.6 149.3V248.5M284.8 149.3V248.5M317.2 149.3V248.5M319.3 149.3V248.5M325.8 149.3V248.5M329.1 149.3V248.5M338.8 149.3V248.5M342.0 149.3V248.5M355.0 149.3V248.5M359.3 149.3V248.5M362.5 149.3V248.5M365.8 149.3V248.5M375.5 149.3V248.5M376.6 149.3V248.5M380.9 149.3V248.5M382.0 149.3V248.5" stroke="#c2c2dc" stroke-width="0.75" fill="none"/>
<path d="M159.5 149.3V248.5M168.1 149.3V248.5M169.2 149.3V248.5M178.9 149.3V248.5M181.1 149.3V248.5M183.3 149.3V248.5M188.7 149.3V248.5M193.0 149.3V248.5M220.0 149.3V248.5M223.2 149.3V248.5M227.5 149.3V248.5M229.7 149.3V248.5M262.1 149.3V248.5M263.2 149.3V248.5M272.9 149.3V248.5M277.2 149.3V248.5M278.3 149.3V248.5M298.8 149.3V248.5M306.4 149.3V248.5M313.9 149.3V248.5M328.0 149.3V248.5M332.3 149.3V248.5M333.4 149.3V248.5M334.5 149.3V248.5M343.1 149.3V248.5M367.9 149.3V248.5M374.4 149.3V248.5" stroke="#e0e0ee" stroke-width="0.75" fill="none"/>
<path d="M162.7 149.3V248.5M190.8 149.3V248.5M194.1 149.3V248.5M197.3 149.3V248.5M198.4 149.3V248.5M205.9 149.3V248.5M221.1 149.3V248.5M225.4 149.3V248.5M226.5 149.3V248.5M228.6 149.3V248.5M239.4 149.3V248.5M240.5 149.3V248.5M242.7 149.3V248.5M248.1 149.3V248.5M258.9 149.3V248.5M264.3 149.3V248.5M268.6 149.3V248.5M271.8 149.3V248.5M286.9 149.3V248.5M290.2 149.3V248.5M302.1 149.3V248.5M348.5 149.3V248.5M349.6 149.3V248.5M352.8 149.3V248.5M353.9 149.3V248.5M361.5 149.3V248.5M373.3 149.3V248.5" stroke="#d2d2e6" stroke-width="0.75" fill="none"/>
<path d="M163.8 149.3V248.5M177.9 149.3V248.5M184.3 149.3V248.5M185.4 149.3V248.5M186.5 149.3V248.5M189.7 149.3V248.5M201.6 149.3V248.5M213.5 149.3V248.5M218.9 149.3V248.5M230.8 149.3V248.5M235.1 149.3V248.5M237.3 149.3V248.5M243.7 149.3V248.5M247.0 149.3V248.5M274.0 149.3V248.5M279.4 149.3V248.5M294.5 149.3V248.5M295.6 149.3V248.5M296.7 149.3V248.5M301.0 149.3V248.5M307.5 149.3V248.5M312.9 149.3V248.5M316.1 149.3V248.5M340.9 149.3V248.5M364.7 149.3V248.5M372.3 149.3V248.5M384.1 149.3V248.5M386.3 149.3V248.5" stroke="#bebed8" stroke-width="0.75" fill="none"/>
<path d="M170.3 149.3V248.5M171.4 149.3V248.5M207.0 149.3V248.5M231.9 149.3V248.5M232.9 149.3V248.5" stroke="#f6f6fb" stroke-width="1.2" fill="none"/>
<path d="M175.7 149.3V248.5M182.2 149.3V248.5M204.9 149.3V248.5M254.5 149.3V248.5M266.4 149.3V248.5M267.5 149.3V248.5M283.7 149.3V248.5M292.3 149.3V248.5M299.9 149.3V248.5M303.1 149.3V248.5M304.2 149.3V248.5M318.3 149.3V248.5M321.5 149.3V248.5M322.6 149.3V248.5M331.2 149.3V248.5M335.5 149.3V248.5M346.3 149.3V248.5M347.4 149.3V248.5M360.4 149.3V248.5M371.2 149.3V248.5M379.8 149.3V248.5M387.4 149.3V248.5" stroke="#f0f0f8" stroke-width="1.1" fill="none"/>
<line x1="153.6" x2="388.9" y1="155.91" y2="155.91" stroke="#a4a4b4" stroke-width="0.5" opacity="0.65"/>
<line x1="153.6" x2="388.9" y1="162.53" y2="162.53" stroke="#a4a4b4" stroke-width="0.5" opacity="0.65"/>
<line x1="153.6" x2="388.9" y1="169.14" y2="169.14" stroke="#a4a4b4" stroke-width="0.5" opacity="0.65"/>
<line x1="153.6" x2="388.9" y1="175.75" y2="175.75" stroke="#a4a4b4" stroke-width="0.5" opacity="0.65"/>
<line x1="153.6" x2="388.9" y1="182.37" y2="182.37" stroke="#a4a4b4" stroke-width="0.5" opacity="0.65"/>
<line x1="153.6" x2="388.9" y1="188.98" y2="188.98" stroke="#a4a4b4" stroke-width="0.5" opacity="0.65"/>
<line x1="153.6" x2="388.9" y1="195.59" y2="195.59" stroke="#a4a4b4" stroke-width="0.5" opacity="0.65"/>
<line x1="153.6" x2="388.9" y1="202.21" y2="202.21" stroke="#a4a4b4" stroke-width="0.5" opacity="0.65"/>
<line x1="153.6" x2="388.9" y1="208.82" y2="208.82" stroke="#a4a4b4" stroke-width="0.5" opacity="0.65"/>
<line x1="153.6" x2="388.9" y1="215.43" y2="215.43" stroke="#a4a4b4" stroke-width="0.5" opacity="0.65"/>
<line x1="153.6" x2="388.9" y1="222.05" y2="222.05" stroke="#a4a4b4" stroke-width="0.5" opacity="0.65"/>
<line x1="153.6" x2="388.9" y1="228.66" y2="228.66" stroke="#a4a4b4" stroke-width="0.5" opacity="0.65"/>
<line x1="153.6" x2="388.9" y1="235.27" y2="235.27" stroke="#a4a4b4" stroke-width="0.5" opacity="0.65"/>
<line x1="153.6" x2="388.9" y1="241.89" y2="241.89" stroke="#a4a4b4" stroke-width="0.5" opacity="0.65"/>
<polyline points="153.6,177.2 160.9,181.8 168.2,186.4 175.5,189.6 183.6,192.7 190.0,193.3 197.3,190.9 204.5,189.1 208.2,189.6 215.5,192.7 222.7,194.2 231.8,194.9 240.9,197.3 250.0,199.0 260.0,203.6 274.6,207.3 289.3,212.8 307.6,214.6 326.0,212.8 338.8,214.6 349.7,218.3 360.7,214.6 373.6,212.8 389.3,212.0" fill="none" stroke="#4646bc" stroke-width="0.9" opacity="0.55"/>
<path d="M154.1 153.1v1.2M154.1 158.2v1.2M154.1 159.3v1.2M154.1 180.7v.7M154.1 189.7v.7M154.1 191.9v.7M154.1 200.9v.7M154.1 205.3v1.2M154.1 206.6v.7M154.1 211.2v.9M154.1 212.3v.7M154.1 213.2v.9M154.1 215.4v.7M154.1 222.6v.7M154.1 247.4v.9M155.2 151.9v1.2M155.2 160.1v.9M155.2 173.1v.7M155.2 174.0v.7M155.2 188.3v.9M155.2 190.5v1.2M155.2 192.5v.7M155.2 193.6v.7M155.2 194.9v1.2M155.2 206.7v1.2M155.2 208.9v.9M155.2 211.3v.7M155.2 213.3v.7M155.2 225.6v1.2M155.2 234.8v1.2M155.2 241.1v.7M156.3 156.4v.9M156.3 158.8v1.2M156.3 165.0v.9M156.3 175.2v1.2M156.3 180.9v.7M156.3 181.8v.7M156.3 189.7v.9M156.3 205.3v1.2M156.3 210.1v.9M156.3 211.2v1.2M156.3 212.3v.9M156.3 230.6v1.2M156.3 239.6v.7M156.3 242.0v.7M156.3 246.6v1.2M157.3 161.8v.9M157.3 172.1v1.2M157.3 190.0v.9M157.3 200.4v.7M157.3 201.5v.7M157.3 203.5v1.2M157.3 209.7v1.2M157.3 218.0v1.2M157.3 220.4v.7M157.3 233.0v1.2M157.3 246.4v1.2M158.4 159.0v1.2M158.4 160.8v.7M158.4 166.3v.7M158.4 171.5v1.2M158.4 179.6v1.2M158.4 180.7v.9M158.4 189.7v1.2M158.4 193.2v.9M158.4 209.5v.9M158.4 211.5v1.2M158.4 217.0v.7M158.4 217.9v1.2M158.4 218.8v.9M158.4 220.1v.9M158.4 228.5v.7M158.4 235.3v1.2M158.4 236.6v1.2M159.5 153.1v1.2M159.5 172.1v.7M159.5 173.4v1.2M159.5 191.9v.9M159.5 194.8v1.2M159.5 200.3v.7M159.5 204.3v.7M159.5 210.7v.9M159.5 214.2v.7M159.5 223.9v1.2M159.5 229.8v.7M159.5 232.2v.9M160.6 156.1v.7M160.6 162.9v.7M160.6 164.9v.9M160.6 188.3v.9M160.6 190.9v.9M160.6 192.9v.7M160.6 196.0v1.2M160.6 219.0v.9M160.6 225.6v.9M160.6 231.5v.9M160.6 237.9v1.2M161.7 152.1v.9M161.7 174.1v.7M161.7 190.3v.9M161.7 196.9v1.2M161.7 210.1v.7M161.7 223.4v1.2M161.7 232.0v1.2M161.7 246.1v.9M161.7 247.2v.9M162.7 150.9v.9M162.7 157.7v1.2M162.7 169.4v1.2M162.7 177.9v.9M162.7 185.6v.9M162.7 194.6v1.2M162.7 204.0v1.2M162.7 221.0v.7M162.7 230.0v.9M162.7 240.5v.7M162.7 241.8v.9M163.8 150.1v.7M163.8 153.2v1.2M163.8 163.8v1.2M163.8 196.2v.9M163.8 197.1v.7M163.8 200.8v.9M163.8 205.0v1.2M163.8 212.7v1.2M163.8 215.1v1.2M163.8 226.1v.7M163.8 229.6v1.2M163.8 236.2v1.2M163.8 239.3v.7M164.9 153.3v.7M164.9 158.8v.9M164.9 163.9v.7M164.9 165.9v.7M164.9 176.0v1.2M164.9 182.4v.7M164.9 186.4v.7M164.9 188.6v1.2M164.9 191.0v.9M164.9 195.6v.7M164.9 197.6v1.2M164.9 200.7v.9M164.9 203.6v.9M164.9 218.3v.7M164.9 227.8v1.2M164.9 230.0v.9M164.9 236.3v.7M164.9 238.7v.9M166.0 162.7v.9M166.0 184.5v.9M166.0 194.9v.9M166.0 197.6v.7M166.0 198.5v1.2M166.0 199.8v.7M166.0 200.9v.9M166.0 204.6v.7M166.0 221.3v.9M166.0 228.7v.9M166.0 229.8v.7M166.0 232.4v.7M166.0 234.2v.7M166.0 239.5v.7M166.0 241.9v.7M167.1 158.2v1.2M167.1 174.8v1.2M167.1 180.5v.7M167.1 181.6v.7M167.1 182.7v.7M167.1 190.3v.7M167.1 200.0v1.2M167.1 203.5v.9M167.1 207.7v.7M167.1 209.0v.7M167.1 214.5v1.2M167.1 216.7v1.2M167.1 223.1v.7M167.1 224.2v.9M167.1 227.3v.9M167.1 233.4v1.2M167.1 234.5v1.2M167.1 236.9v.9M168.1 156.2v.9M168.1 179.3v1.2M168.1 180.6v.9M168.1 182.4v.9M168.1 183.3v1.2M168.1 193.4v1.2M168.1 194.7v.7M168.1 195.8v.9M168.1 199.8v1.2M168.1 204.0v.9M168.1 207.7v.7M168.1 210.1v.7M168.1 221.5v1.2M168.1 222.4v.9M168.1 229.4v.9M168.1 230.3v.9M168.1 235.1v.9M168.1 236.9v1.2M168.1 238.9v.9M168.1 241.3v.7M168.1 243.3v.9M169.2 161.0v.7M169.2 174.2v.9M169.2 191.5v.9M169.2 195.2v.7M169.2 207.3v1.2M169.2 208.2v1.2M169.2 210.8v1.2M169.2 226.9v.7M169.2 229.6v1.2M169.2 230.7v.9M169.2 239.1v.9M169.2 247.0v.9M172.5 164.2v.9M172.5 172.6v1.2M172.5 185.8v.9M172.5 205.8v1.2M172.5 208.4v.9M172.5 214.5v.9M172.5 219.8v1.2M172.5 222.9v.7M172.5 244.5v.7M173.5 168.7v1.2M173.5 178.2v.9M173.5 205.2v.9M173.5 209.2v.9M174.6 182.6v.9M174.6 188.8v.7M174.6 226.9v.9M175.7 197.5v1.2M175.7 204.1v.9M175.7 228.4v.9M175.7 232.8v.9M175.7 238.3v.7M176.8 152.0v.9M176.8 196.3v1.2M176.8 217.0v.7M176.8 244.3v1.2M177.9 201.0v.7M177.9 203.2v1.2M177.9 205.8v.9M177.9 215.6v.9M177.9 242.8v1.2M178.9 155.8v.7M178.9 166.4v.9M178.9 208.1v.7M178.9 229.2v.7M178.9 233.2v.7M178.9 247.3v1.2M180.0 163.3v.7M180.0 181.1v1.2M180.0 194.5v.9M180.0 198.0v1.2M180.0 198.9v.9M180.0 201.5v.7M180.0 214.1v.7M180.0 218.1v.7M180.0 232.0v.7M180.0 241.0v.7M181.1 160.9v1.2M181.1 164.0v1.2M181.1 188.0v.7M181.1 194.1v.7M181.1 197.4v.7M181.1 202.4v.7M181.1 217.6v1.2M181.1 239.1v.9M181.1 240.4v1.2M181.1 247.0v.7M182.2 159.1v1.2M182.2 160.2v.7M182.2 184.3v1.2M182.2 193.6v.9M182.2 199.3v.7M182.2 229.9v1.2M182.2 234.3v.9M183.3 167.8v1.2M183.3 170.0v.7M183.3 177.9v.9M183.3 181.2v1.2M183.3 185.2v1.2M183.3 190.5v1.2M183.3 197.5v1.2M183.3 201.9v.7M183.3 207.0v.7M183.3 212.7v.7M183.3 213.6v.9M183.3 214.7v1.2M183.3 216.9v1.2M183.3 218.0v1.2M183.3 222.6v.9M183.3 230.7v.7M183.3 239.1v.7M183.3 240.0v.9M183.3 246.8v.7M184.3 177.0v1.2M184.3 180.1v.9M184.3 212.1v1.2M184.3 222.2v.9M184.3 227.7v.9M184.3 231.9v1.2M184.3 232.8v.9M184.3 238.5v1.2M184.3 239.8v1.2M184.3 245.3v.7M185.4 157.0v.7M185.4 182.1v.9M185.4 190.9v.7M185.4 191.8v.9M185.4 201.6v1.2M185.4 205.8v1.2M185.4 220.3v1.2M185.4 235.2v1.2M185.4 236.3v.9M185.4 245.5v1.2M186.5 160.2v.7M186.5 192.2v1.2M186.5 193.5v.7M186.5 197.9v.7M186.5 201.6v1.2M186.5 205.1v1.2M186.5 212.8v.7M186.5 217.2v.7M186.5 221.8v1.2M186.5 225.3v.7M186.5 228.6v.9M186.5 238.2v.7M186.5 241.7v.7M186.5 244.8v.9M186.5 245.7v1.2M186.5 246.6v1.2M187.6 173.5v1.2M187.6 179.0v1.2M187.6 183.4v.9M187.6 203.4v1.2M187.6 204.7v1.2M187.6 207.4v1.2M187.6 212.0v.7M187.6 215.8v.7M187.6 222.8v.9M187.6 229.2v1.2M187.6 230.1v.9M187.6 236.3v.7M187.6 239.8v1.2M187.6 242.2v.9M188.7 153.7v1.2M188.7 174.2v.9M188.7 176.4v.7M188.7 185.4v.7M188.7 187.6v1.2M188.7 195.3v1.2M188.7 198.6v.9M188.7 223.4v.9M188.7 225.2v1.2M188.7 227.8v.9M188.7 236.1v.9M188.7 238.1v.9M189.7 156.1v.7M189.7 166.7v.9M189.7 171.3v1.2M189.7 186.4v.7M189.7 192.4v.7M189.7 193.5v.7M189.7 200.7v1.2M189.7 207.9v1.2M189.7 209.9v1.2M189.7 215.4v1.2M189.7 224.0v1.2M189.7 229.7v.9M189.7 234.5v1.2M189.7 235.6v.9M189.7 246.8v.9M190.8 153.8v1.2M190.8 160.2v.9M190.8 168.4v1.2M190.8 171.9v.9M190.8 199.4v1.2M190.8 200.5v.9M190.8 202.7v.7M190.8 205.6v.7M190.8 213.1v.7M190.8 220.2v.7M190.8 235.6v.9M190.8 243.5v1.2M191.9 157.3v1.2M191.9 166.1v.7M191.9 172.5v.7M191.9 192.0v.7M191.9 195.5v.9M191.9 196.4v1.2M191.9 223.4v1.2M191.9 224.7v.7M191.9 243.4v.9M193.0 166.2v1.2M193.0 169.5v.7M193.0 183.5v1.2M193.0 184.8v.9M193.0 195.1v.7M193.0 196.2v.9M193.0 204.3v1.2M193.0 207.6v.9M193.0 224.6v.7M193.0 226.4v1.2M193.0 228.2v.7M193.0 231.9v.9M193.0 245.4v.9M194.1 161.7v.9M194.1 169.2v1.2M194.1 189.9v1.2M194.1 190.8v.7M194.1 193.0v.9M194.1 219.3v.7M194.1 223.9v.9M194.1 239.1v.7M194.1 242.4v.9M195.1 157.2v1.2M195.1 166.5v.7M195.1 170.7v.7M195.1 174.2v.9M195.1 176.2v1.2M195.1 186.1v1.2M195.1 193.4v.7M195.1 197.8v1.2M195.1 205.9v.7M195.1 208.5v.7M195.1 211.4v.9M195.1 212.7v1.2M195.1 215.8v1.2M195.1 218.4v1.2M195.1 222.0v.9M195.1 235.4v.7M196.2 151.6v.9M196.2 154.7v.9M196.2 172.3v1.2M196.2 191.2v1.2M196.2 197.1v.7M196.2 206.8v.7M196.2 214.1v.9M196.2 225.5v.9M196.2 229.7v1.2M196.2 234.3v.7M196.2 237.4v.7M197.3 151.3v.9M197.3 164.1v.9M197.3 165.4v.7M197.3 168.7v1.2M197.3 176.4v.7M197.3 203.6v.7M197.3 205.6v1.2M197.3 213.0v.9M197.3 217.4v1.2M197.3 221.2v.9M197.3 225.2v.9M197.3 231.1v1.2M197.3 236.0v1.2M197.3 236.9v.7M197.3 243.1v.7M198.4 160.3v.7M198.4 176.1v.9M198.4 179.6v1.2M198.4 185.8v.7M198.4 191.7v1.2M198.4 200.0v1.2M198.4 208.1v1.2M198.4 232.2v1.2M198.4 234.4v1.2M198.4 246.5v1.2M199.5 150.6v.7M199.5 151.5v.7M199.5 158.5v1.2M199.5 165.7v1.2M199.5 172.1v1.2M199.5 194.8v.7M199.5 206.1v1.2M199.5 214.5v.7M199.5 215.8v.9M199.5 217.1v1.2M199.5 221.7v.9M199.5 226.3v1.2M199.5 234.6v.9M199.5 241.9v.7M199.5 242.8v.7M199.5 247.2v1.2M200.5 151.0v.9M200.5 160.7v.9M200.5 172.5v1.2M200.5 177.3v.7M200.5 178.4v.9M200.5 191.1v.7M200.5 196.2v.7M200.5 201.0v1.2M200.5 206.7v.7M200.5 208.0v.9M200.5 211.3v.7M200.5 222.7v.9M200.5 225.1v.9M200.5 226.0v1.2M200.5 227.8v.7M200.5 229.1v.7M200.5 239.7v.7M200.5 243.4v.7M201.6 155.9v1.2M201.6 175.0v.9M201.6 177.2v.9M201.6 189.5v.9M201.6 193.0v.9M201.6 199.6v.9M201.6 201.8v.7M201.6 203.8v.7M201.6 206.0v1.2M201.6 207.3v.9M201.6 218.0v.7M201.6 243.8v1.2M202.7 152.7v1.2M202.7 157.6v.7M202.7 176.1v.7M202.7 177.0v.9M202.7 187.5v.7M202.7 188.8v.9M202.7 194.5v1.2M202.7 198.5v.7M202.7 200.5v1.2M202.7 230.4v.7M202.7 231.5v.9M202.7 232.6v.9M202.7 235.5v1.2M202.7 241.0v.9M203.8 154.3v.7M203.8 170.2v.9M203.8 175.5v.7M203.8 186.7v1.2M203.8 188.5v.9M203.8 192.3v.7M203.8 196.5v.9M203.8 199.8v.7M203.8 203.5v.7M203.8 204.6v1.2M203.8 210.3v.9M203.8 212.7v.7M203.8 214.0v1.2M203.8 228.7v.7M203.8 230.9v.7M203.8 243.2v.7M203.8 246.5v.7M204.9 149.5v1.2M204.9 150.4v.7M204.9 152.6v.7M204.9 154.8v.9M204.9 158.3v.7M204.9 166.7v.9M204.9 174.2v.7M204.9 175.3v1.2M204.9 178.2v.7M204.9 181.5v1.2M204.9 200.2v.9M204.9 206.5v.9M204.9 218.6v.9M204.9 223.4v.7M205.9 164.7v.9M205.9 166.9v1.2M205.9 176.8v.9M205.9 180.1v.7M205.9 193.5v.9M205.9 201.2v.9M205.9 202.5v.9M205.9 208.8v.7M205.9 212.1v1.2M205.9 217.8v.9M205.9 222.6v.7M205.9 225.7v.7M205.9 230.1v1.2M205.9 231.9v.7M205.9 233.7v.7M208.1 154.8v1.2M208.1 185.8v.7M208.1 188.2v1.2M208.1 192.4v.7M208.1 209.3v.9M208.1 213.0v.7M208.1 236.5v.7M209.2 165.9v.9M209.2 175.6v.7M209.2 176.7v1.2M209.2 179.1v.7M209.2 188.8v1.2M209.2 191.0v1.2M209.2 193.2v1.2M209.2 194.3v.9M209.2 206.6v.9M209.2 207.7v.7M209.2 227.2v.7M209.2 229.4v.7M209.2 230.7v1.2M209.2 247.5v.7M210.3 160.5v1.2M210.3 162.5v.9M210.3 163.6v.7M210.3 164.7v.7M210.3 177.1v.9M210.3 178.0v1.2M210.3 179.1v.9M210.3 192.9v.9M210.3 203.4v1.2M210.3 206.9v.9M210.3 214.8v.9M210.3 237.1v.9M210.3 245.7v1.2M211.3 150.1v1.2M211.3 151.2v1.2M211.3 155.4v.7M211.3 170.3v.7M211.3 175.1v.9M211.3 177.5v.9M211.3 192.5v.7M211.3 198.4v1.2M211.3 202.1v.9M211.3 209.2v1.2M211.3 211.6v.9M211.3 213.8v1.2M211.3 214.7v.7M211.3 223.5v.7M211.3 225.5v.7M211.3 227.7v.7M211.3 228.6v.9M211.3 241.4v.7M211.3 242.5v1.2M211.3 243.8v1.2M211.3 245.8v1.2M212.4 150.2v.7M212.4 165.3v1.2M212.4 173.9v.7M212.4 177.5v.7M212.4 187.8v.9M212.4 196.2v1.2M212.4 210.4v1.2M212.4 212.4v.7M212.4 216.3v.7M212.4 217.6v.7M212.4 236.4v1.2M212.4 238.6v.9M213.5 154.3v.7M213.5 161.6v.9M213.5 178.1v1.2M213.5 201.0v.7M213.5 201.9v.7M213.5 204.5v.9M213.5 216.5v.7M213.5 217.6v.7M213.5 220.0v1.2M213.5 220.9v1.2M213.5 245.5v1.2M214.6 156.7v.9M214.6 160.9v.9M214.6 168.8v.7M214.6 183.5v.7M214.6 199.8v.7M214.6 207.0v.7M214.6 214.3v.7M214.6 230.1v.9M214.6 231.9v.9M214.6 245.8v.7M215.7 153.8v1.2M215.7 156.0v.7M215.7 159.3v.7M215.7 161.7v1.2M215.7 184.8v.7M215.7 188.3v.7M215.7 189.2v.9M215.7 197.7v.7M215.7 201.2v.7M215.7 205.4v1.2M215.7 208.3v.9M215.7 215.0v.9M215.7 216.3v.9M215.7 222.9v.7M215.7 224.2v.9M215.7 226.9v.9M215.7 243.0v.9M215.7 247.2v.7M216.7 156.0v.9M216.7 178.8v1.2M216.7 188.5v1.2M216.7 189.8v1.2M216.7 206.1v.9M216.7 207.2v1.2M216.7 211.1v.7M216.7 213.5v.9M216.7 219.7v.7M216.7 225.2v1.2M216.7 231.6v1.2M216.7 232.7v.7M216.7 234.9v1.2M216.7 237.5v.9M217.8 154.1v.7M217.8 159.2v1.2M217.8 161.2v.7M217.8 170.2v.7M217.8 189.4v1.2M217.8 208.1v1.2M217.8 212.7v1.2M217.8 216.7v.7M217.8 222.2v.7M217.8 230.7v.7M217.8 240.8v1.2M217.8 245.9v.9M217.8 247.2v.7M218.9 158.1v.7M218.9 167.4v.9M218.9 179.1v.7M218.9 186.1v.7M218.9 199.3v1.2M218.9 204.4v.7M218.9 208.1v.7M218.9 210.3v.7M218.9 216.9v1.2M218.9 218.0v.9M218.9 228.3v1.2M218.9 233.2v.9M218.9 238.8v1.2M218.9 244.3v1.2M218.9 245.6v.7M220.0 149.5v1.2M220.0 155.9v1.2M220.0 160.3v.9M220.0 169.8v.7M220.0 171.6v.7M220.0 183.7v.9M220.0 189.4v1.2M220.0 196.4v.7M220.0 200.8v.7M220.0 205.2v.7M220.0 206.5v.7M220.0 207.6v.9M220.0 215.4v.7M220.0 220.9v1.2M220.0 227.3v1.2M220.0 229.5v1.2M220.0 241.7v1.2M221.1 157.7v.9M221.1 193.9v.7M221.1 195.9v.7M221.1 199.6v.7M221.1 205.1v.9M221.1 225.9v1.2M221.1 228.3v.7M221.1 232.9v.9M222.1 158.6v.7M222.1 162.3v.7M222.1 186.0v.9M222.1 215.1v.9M222.1 221.1v1.2M222.1 233.5v.9M222.1 240.3v.7M223.2 150.9v.7M223.2 154.2v.9M223.2 160.1v1.2M223.2 186.6v.9M223.2 194.7v.9M223.2 198.2v.9M223.2 224.8v.9M223.2 233.3v.9M223.2 246.7v1.2M224.3 149.8v1.2M224.3 170.7v1.2M224.3 194.0v.7M224.3 195.1v.7M224.3 201.3v.9M224.3 205.7v.7M224.3 207.9v.7M224.3 209.0v1.2M224.3 213.2v.9M224.3 220.9v.7M224.3 221.8v.9M224.3 222.9v1.2M224.3 228.0v.9M224.3 231.5v1.2M224.3 232.4v.9M224.3 240.5v.7M224.3 241.4v.9M225.4 158.5v1.2M225.4 162.2v.7M225.4 181.9v.7M225.4 189.0v1.2M225.4 192.5v1.2M225.4 203.7v.7M225.4 211.9v1.2M225.4 220.4v1.2M225.4 229.6v.7M225.4 231.8v.7M225.4 232.9v1.2M225.4 238.0v.7M225.4 240.2v1.2M226.5 156.3v.9M226.5 181.8v1.2M226.5 199.7v.7M226.5 200.8v.9M226.5 220.0v1.2M226.5 227.5v.7M226.5 235.9v.9M226.5 236.8v.7M226.5 246.9v1.2M227.5 154.4v.7M227.5 167.7v.9M227.5 172.1v1.2M227.5 178.3v1.2M227.5 180.1v.9M227.5 187.6v.7M227.5 194.7v1.2M227.5 196.0v.9M227.5 205.2v.9M227.5 209.8v1.2M227.5 210.9v.9M227.5 223.5v.9M227.5 233.2v.7M228.6 180.2v.7M228.6 185.0v.9M228.6 185.9v1.2M228.6 192.9v.7M228.6 203.8v.7M228.6 206.9v.9M228.6 207.8v1.2M228.6 218.7v1.2M228.6 222.4v.9M228.6 224.8v.9M228.6 229.2v1.2M228.6 233.6v.9M228.6 236.0v.7M228.6 247.0v.9M229.7 162.3v.9M229.7 178.2v1.2M229.7 180.2v.9M229.7 188.1v.9M229.7 197.1v.9M229.7 205.9v.9M229.7 222.2v.7M229.7 225.3v.7M229.7 232.1v1.2M229.7 245.8v1.2M230.8 160.8v.7M230.8 163.4v.9M230.8 164.5v1.2M230.8 174.6v.7M230.8 197.7v.9M230.8 199.7v.9M230.8 200.8v1.2M230.8 236.5v.7M230.8 238.9v.9M230.8 244.4v.9M230.8 246.4v1.2M234.0 155.6v.7M234.0 176.1v.7M234.0 178.7v.7M234.0 184.0v.9M234.0 186.4v1.2M234.0 192.4v.7M234.0 193.7v1.2M234.0 194.6v.9M234.0 195.5v1.2M234.0 202.3v.7M234.0 204.5v1.2M234.0 210.2v1.2M234.0 216.8v.7M234.0 217.9v1.2M234.0 221.6v.7M234.0 233.0v1.2M234.0 235.2v1.2M234.0 241.1v1.2M234.0 246.4v1.2M234.0 247.5v.7M235.1 164.0v.9M235.1 167.7v.7M235.1 178.3v.9M235.1 182.9v1.2M235.1 185.1v.7M235.1 193.9v.9M235.1 203.6v.9M235.1 205.6v1.2M235.1 213.3v.9M235.1 215.5v.7M235.1 217.9v.7M235.1 219.9v.9M235.1 223.6v.7M235.1 226.2v.7M235.1 229.3v1.2M235.1 230.2v.9M235.1 233.7v1.2M235.1 246.8v.9M236.2 151.7v.7M236.2 155.0v.7M236.2 157.4v1.2M236.2 158.7v1.2M236.2 162.4v.7M236.2 179.9v.7M236.2 181.9v.9M236.2 189.6v.9M236.2 204.8v.7M236.2 207.2v.9M236.2 210.5v1.2M236.2 221.7v.9M236.2 228.7v1.2M236.2 234.4v.7M236.2 237.5v.9M236.2 241.0v1.2M236.2 243.2v1.2M236.2 245.4v.7M236.2 247.4v.7M237.3 156.4v1.2M237.3 157.3v.9M237.3 164.8v.9M237.3 171.6v.7M237.3 177.4v.9M237.3 189.2v.7M237.3 193.8v.7M237.3 197.5v1.2M237.3 204.1v.9M237.3 205.4v.9M237.3 209.8v.7M237.3 216.6v.9M237.3 233.1v.9M237.3 241.9v.9M237.3 243.0v.7M237.3 243.9v1.2M237.3 245.7v.9M238.3 167.1v1.2M238.3 169.7v.7M238.3 172.1v.9M238.3 178.1v.7M238.3 181.8v.9M238.3 190.2v.9M238.3 193.5v.7M238.3 194.4v1.2M238.3 197.7v1.2M238.3 201.2v.7M238.3 203.2v1.2M238.3 204.5v1.2M238.3 217.3v.7M238.3 232.5v.7M238.3 235.6v.9M238.3 238.9v.9M238.3 240.0v.9M238.3 244.6v.9M238.3 246.6v1.2M239.4 151.5v.7M239.4 163.4v1.2M239.4 167.4v.7M239.4 169.6v.9M239.4 171.6v.7M239.4 178.6v.9M239.4 179.7v.9M239.4 189.4v.7M239.4 190.7v.7M239.4 191.6v.9M239.4 196.7v.9M239.4 201.1v.7M239.4 202.2v.9M239.4 203.5v.9M239.4 205.7v.9M239.4 215.6v.9M239.4 223.7v1.2M239.4 224.8v.7M239.4 227.2v1.2M239.4 238.0v.9M239.4 243.9v.9M239.4 246.3v.9M239.4 247.4v.9M240.5 159.1v.7M240.5 162.4v1.2M240.5 185.5v.9M240.5 196.1v.9M240.5 197.4v.9M240.5 198.7v.7M240.5 204.2v.9M240.5 208.6v.7M240.5 213.2v1.2M240.5 227.4v.7M240.5 233.6v1.2M240.5 235.6v1.2M240.5 240.2v.9M240.5 244.1v.7M240.5 247.6v.7M241.6 162.7v.7M241.6 166.2v.9M241.6 170.4v.7M241.6 172.6v1.2M241.6 177.9v.9M241.6 182.7v.9M241.6 188.0v.9M241.6 192.8v.7M241.6 203.4v.7M241.6 206.5v.9M241.6 211.5v1.2M241.6 212.8v.9M241.6 213.9v.9M241.6 217.2v1.2M241.6 221.6v.9M241.6 229.0v.9M242.7 156.4v.9M242.7 158.2v.9M242.7 175.0v.7M242.7 189.5v1.2M242.7 194.8v.9M242.7 196.8v1.2M242.7 199.2v.7M242.7 200.1v.9M242.7 201.4v.7M242.7 202.5v.7M242.7 210.6v.7M242.7 211.7v.9M242.7 215.2v1.2M242.7 216.3v.9M242.7 217.2v1.2M242.7 222.9v1.2M242.7 229.5v.7M242.7 232.1v1.2M242.7 241.6v.9M242.7 242.7v.9M242.7 245.1v.7M242.7 247.1v.9M243.7 160.0v.7M243.7 161.3v1.2M243.7 163.9v.9M243.7 171.8v.9M243.7 174.0v.9M243.7 176.4v1.2M243.7 181.9v1.2M243.7 183.2v.7M243.7 191.8v.7M243.7 214.4v.7M243.7 221.3v1.2M243.7 226.8v1.2M243.7 228.1v.9M243.7 235.4v1.2M243.7 238.7v1.2M243.7 239.6v.9M243.7 246.2v.9M244.8 150.4v1.2M244.8 159.6v1.2M244.8 171.7v.7M244.8 175.0v1.2M244.8 178.3v1.2M244.8 181.2v.9M244.8 190.4v.9M244.8 191.7v.7M244.8 195.7v.9M244.8 210.0v1.2M244.8 212.4v.9M244.8 220.1v1.2M244.8 230.0v.9M244.8 239.0v1.2M244.8 242.5v1.2M244.8 243.6v1.2M244.8 245.4v1.2M245.9 151.1v.7M245.9 153.3v1.2M245.9 161.2v.9M245.9 176.3v.7M245.9 191.7v1.2M245.9 199.6v.9M245.9 200.7v.7M245.9 207.5v1.2M245.9 209.5v.7M245.9 210.8v.9M245.9 215.2v1.2M245.9 220.5v.7M245.9 222.7v.7M245.9 227.1v1.2M245.9 229.3v.9M245.9 234.6v.9M245.9 244.4v.9M247.0 151.9v.9M247.0 155.2v.9M247.0 164.4v1.2M247.0 165.3v.9M247.0 168.4v.9M247.0 170.6v.9M247.0 171.5v.7M247.0 174.6v1.2M247.0 179.0v.9M247.0 184.7v1.2M247.0 190.7v1.2M247.0 192.0v.9M247.0 196.4v1.2M247.0 201.7v1.2M247.0 223.5v.7M247.0 231.6v1.2M247.0 232.9v.9M247.0 235.1v.7M247.0 247.7v.9M248.1 157.9v.9M248.1 169.4v1.2M248.1 189.8v.9M248.1 193.1v.9M248.1 205.4v.7M248.1 211.0v.7M248.1 217.9v1.2M248.1 220.3v1.2M248.1 231.1v1.2M248.1 238.4v1.2M248.1 241.7v.9M248.1 243.5v.7M249.1 153.5v1.2M249.1 166.0v1.2M249.1 175.5v.9M249.1 179.7v.7M249.1 182.6v.7M249.1 184.4v.7M249.1 204.9v.7M249.1 206.0v1.2M249.1 209.1v1.2M249.1 211.5v.7M249.1 214.6v.7M249.1 215.5v.7M249.1 216.6v.7M249.1 223.6v1.2M249.1 226.7v1.2M249.1 234.4v.7M249.1 238.6v.7M249.1 242.8v1.2M249.1 244.8v.9M250.2 158.4v.9M250.2 179.6v1.2M250.2 188.0v.7M250.2 198.3v.9M250.2 200.3v1.2M250.2 206.7v.9M250.2 218.6v.9M250.2 219.9v.7M250.2 227.4v1.2M250.2 229.4v1.2M250.2 239.8v.9M250.2 241.1v.7M250.2 243.1v.9M251.3 149.7v1.2M251.3 150.6v1.2M251.3 151.7v.7M251.3 154.8v.7M251.3 158.1v.7M251.3 171.3v.9M251.3 189.2v.7M251.3 196.6v.9M251.3 201.0v1.2M251.3 203.0v1.2M251.3 203.9v.7M251.3 209.4v.7M251.3 213.0v.9M251.3 217.4v.7M251.3 221.1v.7M251.3 224.2v.7M251.3 231.9v1.2M251.3 233.9v1.2M251.3 236.3v.9M251.3 239.8v.7M251.3 245.3v.9M252.4 151.4v.7M252.4 160.2v.7M252.4 172.5v.9M252.4 178.9v.9M252.4 182.2v.9M252.4 189.0v.7M252.4 193.6v.9M252.4 202.7v1.2M252.4 207.5v1.2M252.4 217.4v.9M252.4 220.5v.7M252.4 231.1v.9M252.4 235.7v.7M252.4 238.8v.9M252.4 243.2v.9M252.4 245.6v1.2M253.5 150.9v.7M253.5 158.2v.9M253.5 177.1v1.2M253.5 193.2v.9M253.5 200.0v.9M253.5 212.5v.7M253.5 217.1v.9M253.5 238.2v.9M253.5 245.2v.9M254.5 165.1v.9M254.5 168.6v.9M254.5 175.4v.9M254.5 184.7v.7M254.5 187.1v.9M254.5 190.4v.7M254.5 206.8v.7M254.5 210.3v.7M254.5 212.5v1.2M254.5 218.0v.9M254.5 226.6v.9M254.5 227.5v1.2M254.5 229.7v.9M254.5 242.0v.9M254.5 245.7v.9M255.6 161.3v1.2M255.6 167.0v.7M255.6 173.1v.7M255.6 178.4v1.2M255.6 202.1v.9M255.6 208.2v.9M255.6 219.2v.9M255.6 226.2v.9M255.6 227.1v.7M255.6 233.9v.9M255.6 237.9v.7M255.6 240.3v.9M255.6 243.8v1.2M256.7 153.1v.7M256.7 165.0v1.2M256.7 167.2v.7M256.7 188.6v.9M256.7 191.5v.7M256.7 197.5v1.2M256.7 202.1v1.2M256.7 206.1v1.2M256.7 208.3v.9M256.7 209.2v.9M256.7 210.3v.7M256.7 216.2v1.2M256.7 218.0v.9M256.7 224.6v.7M256.7 227.5v1.2M256.7 229.5v1.2M256.7 239.1v1.2M257.8 155.3v.9M257.8 158.4v1.2M257.8 159.5v1.2M257.8 175.5v1.2M257.8 177.9v.7M257.8 193.2v1.2M257.8 196.3v1.2M257.8 202.0v.9M257.8 212.4v1.2M257.8 215.7v.7M257.8 219.9v1.2M257.8 234.8v1.2M257.8 235.7v1.2M257.8 239.9v.9M257.8 242.1v.9M258.9 151.7v.7M258.9 192.3v.9M258.9 193.6v.7M258.9 210.3v.7M258.9 218.2v1.2M258.9 220.4v1.2M258.9 221.3v.7M258.9 222.4v.9M258.9 223.3v.7M258.9 228.8v1.2M258.9 231.9v.7M258.9 235.2v.9M258.9 236.1v.9M258.9 238.3v.9M259.9 190.2v1.2M259.9 198.3v.9M259.9 206.4v.7M259.9 207.7v1.2M259.9 209.0v1.2M259.9 226.2v.9M259.9 233.0v.9M259.9 237.2v1.2M259.9 242.9v.7M259.9 245.3v.9M261.0 164.0v.9M261.0 166.4v.7M261.0 184.0v1.2M261.0 193.5v1.2M261.0 197.5v.9M261.0 202.2v.9M261.0 209.3v.9M261.0 211.9v.7M261.0 213.0v.7M261.0 223.2v1.2M261.0 224.3v.7M261.0 225.4v.9M261.0 226.7v.7M261.0 227.8v.9M261.0 231.1v.7M261.0 234.0v.7M261.0 243.9v1.2M262.1 158.5v.9M262.1 176.2v.7M262.1 178.4v.9M262.1 213.0v1.2M262.1 213.9v.9M262.1 230.8v.9M263.2 155.0v.7M263.2 156.1v1.2M263.2 200.3v.9M263.2 208.8v.7M263.2 227.1v1.2M263.2 228.4v.9M263.2 230.4v1.2M263.2 233.9v.9M263.2 242.5v1.2M264.3 169.5v.9M264.3 180.5v1.2M264.3 193.3v1.2M264.3 223.9v1.2M264.3 224.8v.7M264.3 227.2v.7M264.3 233.8v.9M264.3 236.7v.9M264.3 240.7v.9M264.3 244.0v.9M264.3 245.8v1.2M265.3 215.5v.7M265.3 234.5v.9M265.3 247.5v1.2M266.4 150.9v.7M266.4 153.1v1.2M266.4 192.6v.9M266.4 199.4v.9M266.4 205.4v1.2M266.4 207.6v1.2M266.4 212.4v.7M266.4 213.7v.9M266.4 246.1v.9M267.5 184.4v1.2M267.5 210.2v.7M267.5 212.6v.9M267.5 219.1v.9M267.5 220.2v1.2M267.5 221.5v.9M267.5 223.3v1.2M267.5 224.2v1.2M267.5 226.2v.7M267.5 227.1v.7M267.5 230.9v1.2M267.5 236.4v.9M268.6 176.6v1.2M268.6 189.6v.9M268.6 209.2v.7M268.6 212.3v1.2M268.6 216.0v.7M268.6 220.0v.7M268.6 229.0v.7M268.6 234.7v1.2M268.6 235.6v.7M268.6 243.0v1.2M268.6 245.4v.7M269.7 150.7v.9M269.7 159.7v.9M269.7 160.6v1.2M269.7 161.5v.7M269.7 170.9v1.2M269.7 181.0v.9M269.7 217.9v.7M269.7 222.5v.7M269.7 234.0v1.2M269.7 244.4v.9M269.7 245.7v1.2M270.7 149.7v.9M270.7 158.1v.9M270.7 168.7v.9M270.7 169.8v1.2M270.7 177.0v.7M270.7 194.9v.9M270.7 209.9v.7M270.7 213.4v.7M270.7 214.3v1.2M270.7 222.4v.9M270.7 240.3v1.2M271.8 157.6v.9M271.8 174.5v1.2M271.8 179.4v1.2M271.8 193.2v1.2M271.8 197.4v.7M271.8 209.7v.9M271.8 212.3v.9M271.8 219.6v.9M271.8 229.5v.7M271.8 231.3v.9M271.8 235.5v.7M271.8 241.0v.7M272.9 160.2v.9M272.9 171.9v1.2M272.9 175.2v1.2M272.9 204.4v.7M272.9 207.5v1.2M272.9 217.2v1.2M272.9 220.5v1.2M272.9 226.2v.7M272.9 227.3v.9M272.9 229.3v.7M272.9 233.7v.9M272.9 236.6v.7M272.9 241.9v.7M272.9 243.2v1.2M272.9 244.5v1.2M274.0 157.4v.7M274.0 163.4v.9M274.0 170.9v.9M274.0 190.3v.7M274.0 233.6v.7M274.0 234.7v.7M274.0 235.8v.7M274.0 240.8v.7M274.0 243.4v1.2M275.1 150.6v.7M275.1 174.1v.7M275.1 199.7v.7M275.1 213.6v.9M275.1 216.7v.7M275.1 219.8v1.2M275.1 221.1v1.2M275.1 222.0v.7M275.1 229.4v1.2M275.1 234.0v.9M275.1 238.6v.9M275.1 244.3v1.2M276.1 166.6v.9M276.1 210.3v.7M276.1 215.4v.7M276.1 219.2v1.2M276.1 220.5v1.2M276.1 222.9v.7M276.1 229.1v.9M276.1 244.2v.7M276.1 245.1v.9M276.1 246.0v.7M277.2 209.5v1.2M277.2 213.5v.7M277.2 217.2v1.2M277.2 218.1v1.2M277.2 219.2v.9M277.2 223.0v.9M277.2 238.7v.9M278.3 181.9v.9M278.3 190.4v1.2M278.3 197.5v.9M278.3 212.5v1.2M278.3 213.8v.9M278.3 220.2v.9M278.3 224.6v.9M278.3 229.4v1.2M278.3 230.3v.7M278.3 239.1v.7M278.3 241.7v.9M278.3 242.6v.7M278.3 243.5v.9M279.4 157.6v1.2M279.4 163.3v1.2M279.4 164.6v.7M279.4 181.1v.7M279.4 205.1v1.2M279.4 212.4v.9M279.4 215.7v1.2M279.4 221.9v.9M279.4 224.6v1.2M279.4 226.6v.9M279.4 232.8v.9M279.4 233.7v1.2M279.4 234.6v1.2M279.4 236.8v.7M279.4 241.6v1.2M280.5 159.9v.9M280.5 179.7v.9M280.5 209.3v.7M280.5 210.6v1.2M280.5 215.0v.9M280.5 217.7v1.2M280.5 242.8v1.2M281.5 172.3v1.2M281.5 181.8v.7M281.5 191.5v.9M281.5 211.6v.7M281.5 213.6v.7M281.5 222.7v.7M281.5 225.3v.7M281.5 230.8v1.2M281.5 233.0v.9M281.5 238.7v1.2M281.5 244.4v.7M281.5 247.5v1.2M282.6 164.6v.7M282.6 188.5v.7M282.6 206.5v.7M282.6 217.6v1.2M282.6 220.7v.7M282.6 221.6v1.2M282.6 222.9v.7M282.6 224.2v1.2M282.6 232.7v1.2M282.6 243.3v1.2M283.7 165.5v.9M283.7 174.8v1.2M283.7 184.3v1.2M283.7 190.4v1.2M283.7 192.2v.9M283.7 213.3v1.2M283.7 222.9v1.2M283.7 229.7v1.2M283.7 230.8v.7M283.7 232.8v.7M284.8 150.5v1.2M284.8 177.6v.9M284.8 199.8v.9M284.8 222.5v1.2M284.8 233.3v.7M284.8 241.7v.9M284.8 242.6v.7M285.9 159.7v.9M285.9 181.3v.9M285.9 187.1v.9M285.9 222.4v1.2M285.9 240.0v.9M285.9 243.3v.9M285.9 244.6v.9M286.9 153.5v.9M286.9 160.1v.7M286.9 170.7v.9M286.9 214.4v.7M286.9 222.7v.9M286.9 236.6v.7M286.9 239.0v.9M286.9 242.7v.7M288.0 165.9v.9M288.0 179.2v.9M288.0 187.8v.7M288.0 207.0v.9M288.0 219.7v1.2M288.0 230.0v.9M288.0 247.0v.9M289.1 165.5v1.2M289.1 190.7v1.2M289.1 193.3v1.2M289.1 220.9v.7M289.1 222.2v.7M289.1 227.0v.7M289.1 242.0v1.2M290.2 152.4v1.2M290.2 177.9v1.2M290.2 181.2v.9M290.2 183.9v1.2M290.2 184.8v.7M290.2 187.9v1.2M290.2 197.3v.7M290.2 209.6v1.2M290.2 216.8v.7M290.2 217.9v1.2M290.2 221.9v1.2M290.2 224.3v.9M290.2 228.0v.9M290.2 230.0v1.2M290.2 232.0v1.2M290.2 244.1v1.2M291.3 154.6v.9M291.3 171.9v1.2M291.3 172.8v.9M291.3 176.5v1.2M291.3 180.2v.7M291.3 193.2v1.2M291.3 202.1v.7M291.3 212.7v1.2M291.3 215.3v1.2M291.3 217.3v1.2M291.3 219.7v.7M291.3 225.0v1.2M291.3 228.3v1.2M291.3 241.2v1.2M291.3 242.3v.7M291.3 245.2v.7M291.3 247.0v1.2M292.3 151.9v1.2M292.3 170.3v.7M292.3 176.2v1.2M292.3 187.6v1.2M292.3 193.3v.7M292.3 216.9v.7M292.3 217.8v.7M292.3 230.1v.9M292.3 233.4v.9M293.4 157.5v1.2M293.4 172.7v1.2M293.4 184.2v.9M293.4 191.7v.9M293.4 193.7v.7M293.4 201.5v1.2M293.4 203.9v.9M293.4 213.6v1.2M293.4 219.1v.7M293.4 226.6v.7M293.4 227.9v.7M293.4 236.9v1.2M293.4 237.8v1.2M293.4 240.5v.7M294.5 177.6v.7M294.5 186.6v.7M294.5 187.5v.7M294.5 190.8v1.2M294.5 194.3v1.2M294.5 206.6v1.2M294.5 213.4v.9M294.5 215.8v.7M294.5 230.5v.9M294.5 232.7v.9M295.6 173.6v1.2M295.6 183.0v.7M295.6 190.7v.7M295.6 192.0v.7M295.6 205.6v1.2M295.6 213.8v.7M295.6 216.0v1.2M295.6 220.0v.9M295.6 231.7v.9M295.6 234.1v.9M295.6 236.3v.9M295.6 238.5v1.2M296.7 180.0v1.2M296.7 182.4v1.2M296.7 210.4v1.2M296.7 211.7v.7M296.7 215.0v.7M296.7 216.1v.7M296.7 218.3v.9M296.7 233.4v.7M296.7 244.0v.9M296.7 246.2v.9M297.7 180.1v.7M297.7 186.0v.7M297.7 188.0v1.2M297.7 218.9v.7M297.7 225.5v.9M297.7 231.6v1.2M297.7 235.4v1.2M297.7 237.4v.9M297.7 238.3v.9M297.7 240.5v1.2M297.7 242.9v.9M297.7 244.0v.9M298.8 156.7v.9M298.8 182.2v.7M298.8 205.5v.9M298.8 220.9v.7M298.8 230.1v1.2M298.8 231.4v1.2M298.8 234.5v.9M298.8 235.6v1.2M298.8 244.0v.9M299.9 161.8v1.2M299.9 169.5v.9M299.9 179.2v1.2M299.9 182.5v.9M299.9 187.3v1.2M299.9 200.9v.9M299.9 214.3v.9M299.9 220.7v.9M299.9 233.5v.9M299.9 234.4v1.2M299.9 236.8v.7M299.9 237.7v.9M299.9 245.9v1.2M301.0 160.5v1.2M301.0 168.5v.7M301.0 170.5v.7M301.0 171.6v.9M301.0 172.5v.9M301.0 173.6v1.2M301.0 179.1v.7M301.0 182.6v.9M301.0 186.8v.7M301.0 189.9v.7M301.0 219.8v1.2M301.0 225.3v.7M301.0 226.2v.7M302.1 164.5v.7M302.1 175.0v1.2M302.1 183.3v1.2M302.1 189.9v.7M302.1 210.1v.9M302.1 214.3v.7M302.1 224.0v1.2M302.1 229.5v.7M302.1 241.4v.7M303.1 152.5v.9M303.1 165.5v.7M303.1 170.5v.9M303.1 176.7v1.2M303.1 194.1v1.2M303.1 220.6v1.2M303.1 221.9v.9M303.1 225.4v.7M303.1 228.1v.7M303.1 229.4v1.2M303.1 233.8v.7M303.1 237.5v1.2M304.2 170.4v1.2M304.2 178.3v1.2M304.2 192.6v.7M304.2 195.0v.7M304.2 226.5v.9M305.3 174.5v.9M305.3 193.1v.7M305.3 194.2v1.2M305.3 205.4v1.2M305.3 209.8v.9M305.3 216.6v.7M305.3 218.6v.9M305.3 229.6v.9M305.3 236.4v.9M305.3 237.3v.7M306.4 152.4v.9M306.4 176.0v.7M306.4 182.1v1.2M306.4 183.9v.7M306.4 187.2v1.2M306.4 188.1v.7M306.4 230.9v.9M306.4 235.3v.7M306.4 245.4v.9M307.5 150.3v.9M307.5 171.6v1.2M307.5 180.6v.7M307.5 186.4v1.2M307.5 187.7v1.2M307.5 188.8v1.2M307.5 197.4v1.2M307.5 211.9v.7M307.5 223.5v.7M307.5 227.2v.9M307.5 229.4v.9M307.5 238.2v.9M307.5 239.3v.7M307.5 240.2v.9M308.5 183.3v.9M308.5 223.3v.9M308.5 227.5v.7M308.5 238.7v.9M308.5 240.0v.9M308.5 244.4v1.2M308.5 245.5v1.2M309.6 159.4v.7M309.6 162.7v.9M309.6 171.3v.9M309.6 172.6v.7M309.6 178.8v.9M309.6 180.8v.7M309.6 186.3v.9M309.6 199.3v.7M309.6 232.8v1.2M309.6 235.9v.7M309.6 236.8v1.2M309.6 238.1v.9M309.6 239.0v.7M310.7 151.5v.9M310.7 157.4v1.2M310.7 186.9v.9M310.7 188.7v1.2M310.7 194.2v1.2M310.7 195.1v.9M310.7 220.1v.7M310.7 227.2v1.2M310.7 229.6v1.2M310.7 234.2v.7M310.7 238.8v1.2M311.8 155.1v.7M311.8 173.1v1.2M311.8 174.9v1.2M311.8 192.8v.7M311.8 210.6v1.2M311.8 213.7v.9M311.8 217.9v.7M311.8 227.8v1.2M311.8 245.0v.7M312.9 151.1v.9M312.9 153.3v.9M312.9 156.4v1.2M312.9 157.5v1.2M312.9 171.6v1.2M312.9 180.2v.7M312.9 192.3v1.2M312.9 195.6v1.2M312.9 217.2v.7M312.9 219.6v.7M312.9 220.9v.9M312.9 224.4v.7M312.9 228.8v.7M312.9 235.9v1.2M312.9 237.2v1.2M312.9 241.4v.9M313.9 156.1v1.2M313.9 164.2v1.2M313.9 171.9v1.2M313.9 194.2v.7M313.9 206.7v1.2M313.9 208.9v.7M313.9 224.7v1.2M313.9 225.6v1.2M313.9 233.8v.7M313.9 235.8v.7M313.9 239.5v.9M315.0 153.4v.9M315.0 155.8v.7M315.0 164.6v1.2M315.0 174.3v.9M315.0 178.7v.7M315.0 186.4v.9M315.0 187.3v.7M315.0 188.4v.7M315.0 195.4v1.2M315.0 221.1v.7M315.0 222.9v.9M315.0 225.5v.9M315.0 235.2v1.2M315.0 240.3v.7M315.0 245.6v.9M316.1 156.4v1.2M316.1 171.1v.9M316.1 174.4v.9M316.1 175.3v.9M316.1 179.9v1.2M316.1 181.2v.7M316.1 184.9v.9M316.1 187.3v1.2M316.1 188.6v.9M316.1 224.5v.7M316.1 234.8v.9M316.1 241.8v.7M316.1 244.7v1.2M316.1 245.8v1.2M317.2 154.5v1.2M317.2 166.5v.9M317.2 170.7v.9M317.2 171.6v.7M317.2 176.4v.7M317.2 180.1v.7M317.2 183.6v.9M317.2 186.9v1.2M317.2 193.8v1.2M317.2 215.9v.7M317.2 222.5v.7M317.2 242.3v.9M317.2 243.4v1.2M317.2 246.9v1.2M318.3 162.2v.7M318.3 180.8v.7M318.3 191.6v1.2M318.3 217.8v1.2M318.3 218.7v.9M318.3 239.2v1.2M318.3 245.3v1.2M319.3 157.8v.7M319.3 202.3v1.2M319.3 205.4v1.2M319.3 206.5v.7M319.3 215.5v.7M319.3 224.9v1.2M319.3 225.8v1.2M319.3 236.2v.7M319.3 237.1v.7M319.3 238.0v.9M319.3 241.5v1.2M320.4 196.5v.7M320.4 213.7v.9M320.4 216.3v.9M320.4 222.6v1.2M320.4 233.2v.7M320.4 234.1v1.2M320.4 235.0v.9M320.4 237.4v1.2M320.4 240.1v.7M320.4 241.4v.7M321.5 160.9v1.2M321.5 173.2v.9M321.5 178.7v.7M321.5 184.2v1.2M321.5 199.5v1.2M321.5 218.6v.9M321.5 223.2v1.2M321.5 224.1v1.2M321.5 235.3v1.2M321.5 243.0v.7M322.6 158.7v.9M322.6 201.2v1.2M322.6 213.9v.7M322.6 220.3v.7M322.6 226.0v.9M322.6 229.1v.7M322.6 236.1v1.2M322.6 240.5v.9M323.7 151.3v.7M323.7 177.9v1.2M323.7 200.3v.7M323.7 204.3v1.2M323.7 210.9v.9M323.7 230.9v.7M323.7 234.6v.7M324.7 160.2v.9M324.7 166.5v1.2M324.7 176.8v.9M324.7 184.0v.7M324.7 198.9v.7M324.7 201.5v.9M324.7 214.5v.9M324.7 216.9v1.2M324.7 227.6v.9M324.7 243.7v.7M325.8 166.3v1.2M325.8 170.9v.9M325.8 179.2v1.2M325.8 200.6v.9M325.8 201.7v.9M325.8 213.1v.9M325.8 221.0v.9M325.8 221.9v.7M325.8 223.2v.9M325.8 238.2v1.2M325.8 245.6v1.2M326.9 151.6v.9M326.9 156.0v.7M326.9 171.4v.7M326.9 173.2v1.2M326.9 215.8v.7M326.9 226.4v.9M326.9 228.2v.9M326.9 230.8v.7M326.9 232.1v.7M326.9 239.6v.9M328.0 158.8v.9M328.0 168.2v1.2M328.0 185.2v.9M328.0 212.7v.9M328.0 220.0v1.2M328.0 223.3v.7M328.0 229.0v1.2M328.0 231.2v1.2M328.0 234.3v.9M328.0 241.1v.7M328.0 245.5v1.2M329.1 160.6v1.2M329.1 164.8v1.2M329.1 204.5v.9M329.1 215.3v.9M329.1 227.3v.9M329.1 243.8v.7M330.1 158.2v1.2M330.1 160.2v.7M330.1 193.6v1.2M330.1 214.0v.7M330.1 222.9v.7M330.1 228.9v.7M330.1 231.1v.9M330.1 244.8v.7M331.2 219.5v.9M331.2 221.5v1.2M331.2 222.8v.9M331.2 227.2v.7M331.2 230.9v.7M331.2 234.2v.9M331.2 236.4v.7M331.2 241.7v1.2M331.2 245.0v.9M331.2 246.1v.7M332.3 155.4v.9M332.3 158.7v1.2M332.3 170.1v.9M332.3 172.3v.7M332.3 203.0v.7M332.3 205.2v1.2M332.3 222.1v1.2M332.3 228.7v.9M332.3 232.2v1.2M332.3 233.3v.7M332.3 237.7v1.2M332.3 241.0v.9M332.3 242.8v.9M333.4 177.9v1.2M333.4 192.8v.7M333.4 214.4v.9M333.4 218.6v1.2M333.4 224.5v1.2M333.4 227.8v.9M333.4 228.7v1.2M333.4 229.8v.9M333.4 232.0v.7M333.4 235.1v.7M333.4 241.5v.7M333.4 246.1v.7M334.5 189.9v.7M334.5 225.8v1.2M334.5 228.0v.9M334.5 236.1v1.2M335.5 191.7v.7M335.5 195.3v.7M335.5 210.6v.9M335.5 233.3v1.2M336.6 216.4v1.2M336.6 220.6v.7M336.6 222.4v1.2M336.6 226.8v.7M336.6 234.3v1.2M336.6 244.6v.7M336.6 245.9v1.2M337.7 169.6v.9M337.7 192.5v.7M337.7 201.8v.9M337.7 211.9v.9M337.7 215.2v.9M337.7 216.1v.9M337.7 232.3v.9M337.7 235.4v1.2M338.8 162.4v1.2M338.8 163.3v1.2M338.8 169.0v.7M338.8 170.1v.9M338.8 175.8v1.2M338.8 200.6v1.2M338.8 216.2v1.2M338.8 218.8v1.2M338.8 219.7v.7M338.8 236.6v.7M338.8 237.7v.9M338.8 244.1v.7M339.9 190.6v1.2M339.9 208.3v.9M339.9 218.7v.7M339.9 233.7v.9M339.9 238.8v.7M339.9 239.9v.7M339.9 240.8v1.2M339.9 246.5v.7M340.9 180.6v.7M340.9 196.4v.7M340.9 220.1v1.2M340.9 234.8v.9M340.9 237.2v.7M340.9 243.4v.7M340.9 244.3v1.2M342.0 184.4v.9M342.0 210.1v.9M342.0 217.5v.7M342.0 222.1v.7M342.0 243.1v.9M342.0 244.0v.7M342.0 245.1v1.2M342.0 246.0v1.2M342.0 247.3v1.2M343.1 163.2v1.2M343.1 167.4v1.2M343.1 176.6v.7M343.1 177.7v.7M343.1 178.8v.9M343.1 209.6v.9M343.1 218.8v1.2M343.1 243.8v.7M343.1 244.9v.9M344.2 162.1v.9M344.2 180.8v.9M344.2 203.7v.9M344.2 215.9v1.2M344.2 223.4v.7M344.2 224.7v.9M344.2 233.3v.9M344.2 237.7v1.2M344.2 242.1v.9M344.2 247.2v.7M345.3 172.8v.9M345.3 178.8v1.2M345.3 189.8v.7M345.3 208.2v.7M345.3 210.6v1.2M345.3 216.7v.9M345.3 219.6v.9M345.3 222.0v.7M345.3 231.0v.9M345.3 239.8v1.2M345.3 245.5v1.2M346.3 157.7v.7M346.3 173.7v1.2M346.3 201.1v.7M346.3 209.9v.9M346.3 219.1v.7M346.3 220.4v.9M346.3 221.7v1.2M346.3 228.6v.9M346.3 229.7v1.2M346.3 236.9v.7M347.4 158.6v1.2M347.4 189.6v.9M347.4 199.7v1.2M347.4 205.2v.7M347.4 209.6v.9M347.4 216.4v.7M347.4 218.6v.7M347.4 225.4v.9M347.4 226.3v.9M347.4 231.1v1.2M347.4 232.0v.7M347.4 233.1v.7M347.4 236.2v1.2M347.4 247.4v.9M348.5 169.2v.7M348.5 216.6v.7M348.5 221.2v.7M348.5 238.8v.7M348.5 242.6v.9M348.5 245.9v1.2M349.6 152.2v.9M349.6 175.5v1.2M349.6 184.9v1.2M349.6 197.0v1.2M349.6 197.9v.7M349.6 203.6v.9M349.6 226.2v.7M349.6 229.3v.7M349.6 232.8v1.2M350.7 177.2v.7M350.7 179.4v1.2M350.7 203.1v.7M350.7 214.6v.7M350.7 219.9v.7M350.7 222.1v.7M350.7 236.9v1.2M350.7 238.9v1.2M351.7 186.1v.9M351.7 203.7v1.2M351.7 220.8v.9M351.7 225.0v1.2M351.7 230.0v1.2M351.7 243.6v.9M351.7 244.9v.9M352.8 188.9v.9M352.8 203.9v.9M352.8 216.3v.9M352.8 218.1v.9M352.8 222.5v.7M352.8 230.0v.7M352.8 241.9v.7M352.8 242.8v.7M352.8 246.8v1.2M353.9 151.4v1.2M353.9 152.7v1.2M353.9 222.5v.7M353.9 233.5v.7M353.9 235.7v.7M353.9 237.5v.7M353.9 238.8v.9M353.9 241.0v.7M353.9 247.0v.7M355.0 150.5v.7M355.0 151.6v.9M355.0 169.5v.7M355.0 171.7v.7M355.0 203.0v1.2M355.0 211.3v.7M355.0 219.0v1.2M355.0 227.4v1.2M355.0 232.0v.7M356.1 219.4v.7M356.1 220.7v.9M356.1 228.6v1.2M356.1 231.0v.9M356.1 241.3v.9M357.1 158.7v1.2M357.1 167.5v1.2M357.1 176.4v.7M357.1 179.5v1.2M357.1 196.2v.7M357.1 198.2v.7M357.1 209.0v.7M357.1 222.0v.7M357.1 229.9v.9M357.1 234.3v.7M358.2 156.1v.9M358.2 190.0v1.2M358.2 194.6v1.2M358.2 221.6v.9M358.2 236.8v.7M358.2 244.7v.9M359.3 168.9v.9M359.3 225.8v.7M359.3 230.9v1.2M359.3 232.0v1.2M359.3 235.5v.9M359.3 247.4v.9M360.4 165.1v1.2M360.4 179.4v.9M360.4 196.2v.7M360.4 215.5v.9M360.4 218.4v.9M360.4 222.0v.9M360.4 226.6v.9M360.4 228.4v1.2M360.4 238.1v1.2M360.4 246.2v.7M360.4 247.1v.9M361.5 164.5v1.2M361.5 170.0v.7M361.5 228.6v.9M361.5 237.0v.7M361.5 239.2v.9M361.5 242.1v.9M362.5 153.5v.9M362.5 200.0v1.2M362.5 209.3v.9M362.5 215.9v1.2M362.5 227.7v1.2M362.5 228.8v.7M362.5 230.1v.9M362.5 232.7v.7M362.5 243.5v.7M362.5 245.9v.7M363.6 159.8v1.2M363.6 161.8v.7M363.6 168.6v.7M363.6 214.6v.7M363.6 215.5v1.2M363.6 224.5v1.2M363.6 228.9v1.2M363.6 231.1v.7M363.6 235.7v1.2M363.6 236.6v1.2M363.6 240.8v1.2M364.7 170.7v.9M364.7 174.0v.7M364.7 175.1v.9M364.7 202.8v.7M364.7 212.8v1.2M364.7 215.0v.7M364.7 221.6v1.2M364.7 229.5v.7M364.7 234.3v.9M364.7 235.4v.7M364.7 237.6v1.2M365.8 159.3v.7M365.8 184.5v1.2M365.8 232.5v.7M365.8 241.7v.9M366.9 154.3v.9M366.9 170.6v.7M366.9 184.0v.7M366.9 201.1v.9M366.9 205.1v.7M366.9 216.7v.9M366.9 220.7v.7M366.9 225.3v.9M366.9 241.7v.7M367.9 182.7v1.2M367.9 184.5v.7M367.9 216.1v1.2M367.9 224.7v.9M367.9 225.8v1.2M367.9 234.2v.7M367.9 236.6v.9M367.9 237.5v.7M367.9 241.7v1.2M367.9 244.6v.7M369.0 170.8v1.2M369.0 173.4v1.2M369.0 187.7v1.2M369.0 198.5v1.2M369.0 199.6v1.2M369.0 219.7v.7M369.0 224.1v1.2M369.0 231.6v.7M369.0 236.0v.9M369.0 238.9v.9M369.0 242.0v.9M370.1 231.8v1.2M370.1 233.8v.9M370.1 237.1v.7M370.1 245.7v.7M371.2 152.1v.9M371.2 160.9v1.2M371.2 180.4v.7M371.2 209.4v.7M371.2 227.2v1.2M371.2 247.0v1.2M372.3 156.5v.7M372.3 161.8v.9M372.3 169.9v.7M372.3 179.5v1.2M372.3 180.4v.7M372.3 193.7v.9M372.3 197.2v.7M372.3 241.6v1.2M373.3 213.0v.9M373.3 214.3v.7M373.3 217.4v.7M373.3 220.0v.7M373.3 220.9v1.2M373.3 224.4v1.2M373.3 230.8v.9M373.3 238.5v.7M373.3 239.6v.7M373.3 244.7v.7M373.3 246.0v.9M373.3 247.1v1.2M374.4 149.5v.7M374.4 163.6v.7M374.4 173.3v.9M374.4 194.9v1.2M374.4 200.6v.9M374.4 215.2v.7M374.4 220.9v.9M374.4 244.9v.9M375.5 222.9v1.2M375.5 229.5v.7M375.5 235.6v1.2M376.6 152.6v.9M376.6 169.6v.9M376.6 198.8v1.2M376.6 236.8v1.2M376.6 241.4v.7M377.7 150.0v.9M377.7 187.5v.7M377.7 216.2v.7M377.7 221.3v.9M377.7 229.2v1.2M377.7 236.2v.7M378.7 172.8v.7M378.7 196.7v.7M378.7 202.8v1.2M378.7 215.3v1.2M378.7 217.7v.9M378.7 223.0v.9M378.7 224.1v.7M378.7 226.7v.9M378.7 231.3v.9M378.7 234.8v1.2M379.8 152.3v.7M379.8 160.8v1.2M379.8 184.9v1.2M379.8 188.2v.7M379.8 189.1v.9M379.8 192.6v.9M379.8 197.9v1.2M379.8 218.7v1.2M379.8 229.9v.9M379.8 238.1v.7M379.8 246.3v.7M380.9 160.4v1.2M380.9 170.1v.9M380.9 173.9v.7M380.9 175.2v1.2M380.9 215.1v.7M380.9 218.6v.9M380.9 225.9v.9M380.9 230.1v1.2M380.9 238.8v.9M380.9 240.8v1.2M382.0 160.8v.7M382.0 167.2v.7M382.0 179.7v.7M382.0 220.2v.7M382.0 232.5v.7M382.0 233.6v.9M382.0 234.9v.9M382.0 242.0v.9M383.1 196.7v.9M383.1 202.4v1.2M383.1 205.9v.7M383.1 214.3v.9M383.1 217.2v.9M383.1 225.3v1.2M383.1 230.8v.9M383.1 234.6v1.2M383.1 236.8v.9M383.1 240.3v.9M383.1 244.5v1.2M383.1 246.7v1.2M384.1 156.1v.9M384.1 194.6v1.2M384.1 204.9v.9M384.1 213.8v1.2M384.1 216.0v.7M384.1 218.6v.9M384.1 230.3v1.2M384.1 232.5v1.2M384.1 234.5v.9M384.1 239.5v1.2M385.2 159.9v.7M385.2 164.1v.7M385.2 185.3v.7M386.3 185.0v1.2M386.3 190.8v.7M386.3 195.2v1.2M386.3 237.3v.9M386.3 238.4v.9M386.3 239.3v.9M386.3 244.8v.9M387.4 220.2v.7M387.4 221.5v1.2M387.4 222.6v.7M387.4 227.4v.7M387.4 234.2v.7M387.4 241.9v.9M387.4 246.3v.9M388.5 153.2v.7M388.5 162.0v.9M388.5 198.3v1.2M388.5 214.1v.9M388.5 216.5v.9M388.5 230.8v.7M388.5 241.5v.9M388.5 242.4v.7" stroke="#a0a0c8" stroke-width="0.8" fill="none" opacity="0.6"/>
<path d="M153.6 165.0h1.5M153.6 169.2h2M153.6 178.3h2M153.6 193.0h1M153.6 202.9h1M153.6 243.0h2M154.7 180.8h1M154.7 183.0h1M154.7 191.4h1M154.7 198.2h2M154.7 214.4h1M154.7 238.5h2M155.8 208.8h1M155.8 213.2h1M155.8 227.7h2M156.8 157.8h2M156.8 160.0h1.5M156.8 195.1h2M156.8 196.0h1M156.8 210.8h1M156.8 214.5h1.5M156.8 235.6h2M156.8 237.8h2M156.8 240.7h1M157.9 173.9h1.5M157.9 191.9h1.5M157.9 197.8h1.5M157.9 221.4h1M157.9 238.8h1M159.0 151.3h1M159.0 163.9h2M159.0 171.2h1.5M159.0 178.5h1.5M159.0 179.4h1.5M159.0 185.1h2M159.0 216.6h1.5M159.0 220.8h2M159.0 226.5h1.5M159.0 227.8h1.5M159.0 230.9h1M160.1 154.8h2M160.1 159.4h1M160.1 199.7h2M160.1 202.4h1.5M160.1 204.2h2M160.1 210.5h2M160.1 211.4h1M160.1 229.3h2M160.1 245.2h1.5M161.2 166.6h2M161.2 193.6h1.5M161.2 200.2h1M161.2 220.8h1M161.2 228.9h1M161.2 232.9h1.5M161.2 234.2h1M161.2 240.8h1M161.2 241.9h1M161.2 243.2h1.5M162.2 161.2h1.5M162.2 191.3h1M162.2 207.3h1M162.2 215.3h2M162.2 218.8h2M162.2 222.3h1M162.2 243.1h2M162.2 245.3h2M163.3 154.1h2M163.3 184.5h1M163.3 207.6h1M163.3 216.9h1.5M163.3 238.0h1.5M164.4 155.5h2M164.4 171.0h1M164.4 176.9h1.5M164.4 187.5h1.5M164.4 196.7h1.5M164.4 219.2h1M164.4 224.5h1.5M164.4 226.5h1.5M164.4 228.9h1.5M165.5 157.8h2M165.5 160.7h2M165.5 164.7h2M165.5 189.4h2M165.5 191.8h1.5M165.5 210.5h1M165.5 215.1h1M165.5 220.2h1.5M165.5 237.3h1M165.5 243.0h2M165.5 245.2h1M165.5 247.4h1M166.6 153.1h1M166.6 162.2h2M166.6 167.5h1.5M166.6 202.4h1M166.6 231.0h2M166.6 239.3h1M166.6 240.6h2M167.6 169.0h1M167.6 185.5h1.5M167.6 198.9h1M167.6 205.3h1M167.6 236.0h2M167.6 247.0h2M168.7 182.5h1M168.7 218.3h2M168.7 231.8h2M168.7 236.2h1M168.7 244.4h1.5M172.0 195.9h2M172.0 233.0h2M172.0 241.4h1.5M172.0 242.3h1.5M173.0 159.7h1M173.0 201.9h2M173.0 229.5h1M173.0 245.7h2M174.1 194.5h1.5M174.1 201.8h2M175.2 161.3h1.5M175.2 193.7h1M175.2 205.9h2M175.2 224.9h1.5M175.2 227.5h2M176.3 191.2h2M176.3 203.4h2M176.3 214.8h1.5M176.3 215.9h2M176.3 221.8h2M176.3 223.1h1M176.3 233.7h1.5M176.3 241.2h1.5M176.3 243.4h1.5M177.4 196.6h1M177.4 211.9h2M177.4 231.4h2M177.4 235.3h2M178.4 239.8h1.5M179.5 159.1h1M179.5 217.0h1.5M180.6 178.3h1.5M180.6 205.5h2M180.6 206.8h1M180.6 210.1h2M180.6 225.3h1.5M180.6 236.9h2M181.7 153.1h1.5M181.7 163.3h1M181.7 210.1h2M182.8 153.1h1M182.8 200.8h1M182.8 244.4h1M183.8 149.7h2M183.8 157.6h2M183.8 169.3h2M183.8 184.1h2M183.8 200.6h1M183.8 213.4h1.5M183.8 218.9h1M183.8 220.0h1M183.8 243.1h1.5M184.9 151.3h1M184.9 158.3h1.5M184.9 175.9h1.5M184.9 189.8h1M184.9 193.1h1.5M184.9 194.4h1M184.9 215.7h1M184.9 221.2h2M184.9 237.2h2M186.0 182.3h1M186.0 202.9h1M186.0 229.7h1M186.0 231.0h1.5M187.1 151.7h1M187.1 170.8h1M187.1 185.8h1.5M187.1 219.1h1.5M187.1 245.5h2M187.1 246.8h1.5M188.2 164.3h1.5M188.2 212.0h1M188.2 232.6h1M188.2 233.9h2M188.2 242.3h1M188.2 247.1h1.5M189.2 159.0h1M189.2 211.7h2M189.2 227.1h1M190.3 162.4h2M190.3 170.6h2M190.3 179.1h2M190.3 194.3h1.5M190.3 214.0h2M190.3 219.3h1.5M191.4 189.4h1M191.4 211.6h1.5M191.4 237.7h1.5M191.4 238.6h1.5M192.5 156.3h1.5M192.5 158.1h1M192.5 160.5h1M192.5 170.8h1M192.5 172.1h1M192.5 182.2h1.5M192.5 222.0h1.5M192.5 225.5h1.5M192.5 241.4h1.5M193.6 167.9h1M193.6 181.5h1M193.6 196.3h1.5M193.6 209.8h1M193.6 214.2h1M193.6 227.2h1.5M193.6 236.2h1.5M193.6 238.0h1M193.6 247.2h1M194.6 151.2h2M194.6 154.1h1.5M194.6 162.7h2M194.6 181.9h1.5M194.6 194.3h1M194.6 196.5h1M194.6 237.8h2M194.6 242.9h2M194.6 243.8h2M195.7 150.3h1.5M195.7 179.3h2M195.7 200.2h1M195.7 211.0h2M196.8 150.0h1M196.8 157.3h1.5M196.8 172.0h1M196.8 175.1h1.5M196.8 179.7h1.5M196.8 201.2h1.5M196.8 209.3h2M196.8 210.4h2M196.8 214.3h1.5M196.8 215.2h2M196.8 229.8h1M197.9 149.7h1.5M197.9 154.1h2M197.9 169.3h1M197.9 173.7h1M197.9 195.2h1.5M197.9 201.3h1.5M197.9 214.0h2M197.9 217.1h2M197.9 225.4h1.5M199.0 228.7h2M199.0 231.3h1.5M199.0 239.7h1.5M199.0 240.6h2M200.0 156.7h1.5M200.0 210.0h1M200.0 232.0h2M200.0 237.7h2M201.1 157.0h2M201.1 181.8h1.5M201.1 188.2h1.5M201.1 209.7h1.5M201.1 212.1h1M201.1 220.4h1.5M201.1 223.5h1.5M201.1 224.6h1.5M201.1 227.9h1M201.1 233.0h2M201.1 245.6h1.5M202.2 195.4h1.5M202.2 201.6h1.5M202.2 202.9h1.5M202.2 206.2h2M202.2 218.8h2M202.2 226.9h1.5M203.3 158.7h1.5M203.3 176.6h2M203.3 181.0h1M203.3 205.7h1M203.3 209.0h2M203.3 224.1h1M203.3 239.0h1.5M204.4 157.0h1M204.4 164.3h1.5M204.4 196.3h1M204.4 201.3h1.5M204.4 209.6h2M204.4 216.4h1M204.4 219.9h2M205.4 150.4h2M205.4 186.5h1M205.4 194.4h2M205.4 231.0h1.5M205.4 238.1h2M205.4 242.9h1.5M207.6 151.5h2M207.6 218.3h2M208.7 209.7h1M208.7 218.0h1.5M208.7 223.9h1M208.7 234.2h1M208.7 235.1h1M208.7 236.0h2M208.7 241.1h2M208.7 245.1h1.5M209.8 195.1h2M209.8 211.3h1.5M209.8 216.1h1.5M209.8 223.3h2M209.8 239.5h1M210.8 159.3h2M210.8 163.5h2M210.8 201.0h1.5M210.8 203.0h1.5M210.8 222.2h1.5M210.8 239.2h1.5M211.9 164.4h2M211.9 180.8h1M211.9 243.0h2M213.0 158.7h2M213.0 165.8h2M213.0 174.8h1M213.0 209.8h1.5M213.0 223.1h1M213.0 234.3h1.5M213.0 235.6h1.5M213.0 246.8h1.5M214.1 153.6h1.5M214.1 187.3h2M214.1 198.5h2M214.1 204.4h1.5M214.1 212.1h1.5M214.1 227.7h1M214.1 234.8h1M215.2 152.7h2M215.2 178.4h2M215.2 185.9h1.5M215.2 210.3h2M215.2 212.3h1.5M215.2 214.1h2M215.2 227.8h1M215.2 246.3h1M216.2 151.4h1M216.2 158.4h1.5M216.2 163.3h1M216.2 197.5h1M216.2 227.0h1.5M217.3 202.2h1M217.3 203.5h1.5M217.3 210.7h1M217.3 226.8h1.5M217.3 229.4h2M217.3 243.5h2M218.4 156.1h1.5M218.4 159.0h1.5M218.4 193.8h1M218.4 196.4h1M218.4 200.4h1M218.4 223.9h2M218.4 229.2h2M218.4 234.1h1.5M218.4 239.7h1M219.5 176.0h1.5M219.5 177.1h1.5M219.5 186.1h1M219.5 190.7h1M219.5 217.4h2M219.5 226.4h1M219.5 228.6h2M219.5 232.4h2M219.5 240.8h1.5M219.5 244.6h1.5M220.6 152.2h1.5M220.6 159.0h1.5M220.6 168.9h1.5M220.6 183.0h1.5M220.6 183.9h1.5M220.6 201.6h1M220.6 207.3h1.5M220.6 209.3h1.5M220.6 229.6h2M221.6 172.8h1M221.6 178.3h1M221.6 181.6h1.5M221.6 195.0h1.5M221.6 206.9h1.5M221.6 209.1h1M221.6 216.0h1M221.6 217.8h1.5M221.6 218.9h1.5M221.6 229.3h1M221.6 237.0h2M221.6 243.8h2M222.7 204.6h1M222.7 211.7h1M222.7 223.9h2M222.7 229.8h2M222.7 240.1h2M222.7 244.5h1M223.8 158.6h2M223.8 172.7h1.5M223.8 178.4h2M223.8 198.4h1M223.8 212.1h1M223.8 234.8h2M224.9 183.2h1M224.9 198.0h1M224.9 213.2h2M224.9 215.4h1.5M224.9 225.0h2M224.9 235.6h1M224.9 238.9h1M224.9 242.2h1.5M224.9 246.4h2M226.0 173.9h2M226.0 205.4h2M226.0 212.0h1M226.0 216.9h2M226.0 218.0h1.5M226.0 241.2h1M227.0 166.6h1.5M227.0 184.5h2M227.0 190.7h1M227.0 199.5h1.5M227.0 218.0h1M227.0 229.7h2M228.1 159.4h2M228.1 187.2h1M228.1 189.8h1.5M228.1 195.3h1.5M228.1 219.8h2M228.1 227.9h1M228.1 234.9h1.5M228.1 243.7h2M229.2 150.6h1.5M229.2 154.8h2M229.2 195.8h1M229.2 202.2h1M229.2 231.2h1M229.2 234.1h1.5M229.2 235.0h2M229.2 237.0h1.5M230.3 155.9h2M230.3 157.9h2M230.3 169.3h1M230.3 171.7h1.5M230.3 202.1h2M230.3 226.2h2M230.3 234.5h2M233.5 165.3h1M233.5 174.8h1.5M233.5 177.4h1M233.5 201.0h1M233.5 208.9h1.5M233.5 213.3h1.5M233.5 219.2h1M233.5 223.8h1.5M233.5 231.7h1.5M233.5 237.8h2M233.5 239.1h1.5M233.5 242.4h1.5M233.5 243.3h2M233.5 244.2h1M234.6 156.3h1M234.6 186.9h1M234.6 197.2h1.5M234.6 206.5h2M234.6 224.9h1M234.6 227.3h1.5M234.6 237.5h2M235.7 190.9h2M235.7 206.1h2M235.7 208.3h1.5M235.7 212.7h1.5M235.7 225.4h1M236.8 179.8h1.5M236.8 191.2h1M236.8 192.5h1.5M236.8 195.1h2M236.8 196.2h1.5M236.8 220.1h1.5M236.8 226.5h1.5M236.8 246.8h1M237.8 170.8h1M237.8 182.9h1.5M237.8 207.6h1M237.8 210.0h2M237.8 214.9h1M237.8 225.0h2M237.8 230.5h1M237.8 234.7h2M237.8 245.7h2M238.9 165.6h1M238.9 184.3h1.5M238.9 198.9h1M238.9 233.6h2M238.9 239.1h1M238.9 240.0h1M240.0 166.8h2M240.0 175.6h2M240.0 180.0h1M240.0 191.3h1M240.0 195.0h2M240.0 202.9h1.5M240.0 205.5h1M240.0 236.7h1M240.0 246.3h1M241.1 153.0h1.5M241.1 155.2h2M241.1 156.5h2M241.1 167.5h1.5M241.1 175.9h1.5M241.1 177.0h1M241.1 188.9h1.5M241.1 195.2h1.5M241.1 196.5h2M241.1 198.3h1.5M241.1 210.2h1M241.1 224.3h1M241.1 227.2h1M241.1 229.9h2M241.1 232.1h1M242.2 153.1h1M242.2 162.4h2M242.2 176.3h1.5M242.2 184.9h2M242.2 204.7h2M242.2 205.8h2M242.2 207.1h1M242.2 220.7h2M242.2 227.3h2M242.2 228.2h2M242.2 234.3h1.5M242.2 240.5h2M243.2 156.7h1M243.2 178.8h1.5M243.2 199.0h1.5M243.2 210.0h1M243.2 218.2h2M243.2 220.2h1M243.2 223.5h2M243.2 233.6h1M243.2 241.8h2M244.3 155.0h2M244.3 189.3h2M244.3 199.2h1.5M244.3 203.4h1M244.3 222.3h1M244.3 231.1h1.5M244.3 237.0h2M244.3 241.2h2M245.4 166.0h1M245.4 179.8h2M245.4 192.6h2M245.4 201.6h2M245.4 202.9h1M245.4 206.4h1.5M245.4 218.5h2M245.4 223.8h2M245.4 235.7h2M245.4 236.8h1.5M246.5 154.1h1.5M246.5 166.2h1.5M246.5 169.5h1.5M246.5 177.0h1.5M246.5 182.5h1.5M246.5 187.1h2M246.5 197.5h1M246.5 200.8h1M246.5 214.1h2M246.5 219.6h1.5M246.5 241.3h1M246.5 245.7h1M247.6 149.8h1M247.6 156.6h1.5M247.6 161.2h1M247.6 166.3h1M247.6 168.5h1.5M247.6 175.6h1M247.6 177.6h1.5M247.6 183.8h1.5M247.6 191.8h1M247.6 206.3h1.5M247.6 215.9h1M247.6 224.5h1M247.6 232.9h2M247.6 236.0h2M247.6 240.6h1.5M247.6 242.6h2M247.6 244.6h1.5M248.6 154.4h1M248.6 161.2h1M248.6 174.6h1M248.6 176.4h1M248.6 195.6h1M248.6 198.9h2M248.6 203.8h1.5M248.6 224.9h1M248.6 225.8h1M248.6 230.7h1.5M248.6 247.0h1M249.7 155.3h2M249.7 171.2h2M249.7 178.5h1M249.7 180.7h1.5M249.7 192.8h1M249.7 197.0h2M249.7 208.0h1M249.7 208.9h1M249.7 210.0h2M249.7 212.9h1M249.7 221.9h1M249.7 231.2h1.5M250.8 159.9h2M250.8 167.8h1M250.8 175.5h1M250.8 179.5h1.5M250.8 208.3h1M250.8 218.7h1M250.8 225.1h1.5M250.8 229.9h2M250.8 242.2h1.5M251.9 152.5h1M251.9 156.9h1M251.9 173.6h1.5M251.9 185.7h1.5M251.9 200.1h1.5M251.9 206.2h2M251.9 209.9h1.5M251.9 224.5h2M251.9 236.6h1M251.9 237.7h2M251.9 244.5h1M253.0 156.0h1M253.0 186.8h1M253.0 204.6h1.5M253.0 205.5h2M253.0 211.2h1M253.0 226.1h2M253.0 227.9h1.5M253.0 232.3h1.5M253.0 234.5h1.5M253.0 235.6h1M254.0 166.0h1M254.0 178.3h1.5M254.0 191.3h1M254.0 197.4h1.5M254.0 200.9h1.5M254.0 203.3h1M254.0 211.6h1.5M254.0 225.3h2M255.1 162.4h2M255.1 163.3h1M255.1 164.6h1.5M255.1 171.8h1.5M255.1 175.3h1.5M255.1 197.9h2M255.1 198.8h2M255.1 230.4h1.5M256.2 173.8h2M256.2 182.4h1.5M256.2 207.4h1M256.2 211.4h2M256.2 215.1h1M256.2 217.1h2M256.2 223.5h2M256.2 228.4h2M256.2 230.6h2M256.2 235.6h1.5M256.2 236.9h1.5M256.2 244.6h1.5M257.3 168.5h1M257.3 185.8h2M257.3 188.4h1M257.3 195.2h2M257.3 213.7h1M257.3 214.6h1M257.3 223.9h1.5M257.3 228.1h2M257.3 231.9h2M258.4 169.4h1M258.4 172.9h2M258.4 181.1h1.5M258.4 203.9h2M258.4 206.1h2M258.4 208.3h2M258.4 213.6h1M258.4 227.5h1M258.4 242.7h2M258.4 243.6h1M259.4 151.4h1M259.4 165.5h1.5M259.4 213.4h1.5M259.4 230.8h1.5M259.4 235.2h1M259.4 238.3h1.5M259.4 239.6h1.5M260.5 154.7h2M260.5 204.2h1.5M260.5 208.4h2M260.5 218.1h2M260.5 228.9h1M260.5 233.1h2M261.6 172.5h2M261.6 222.2h2M261.6 242.7h1.5M262.7 168.2h1.5M262.7 171.5h1M262.7 212.3h1M262.7 239.4h1.5M262.7 240.7h2M262.7 247.2h2M263.8 205.9h2M263.8 209.4h1M263.8 222.8h1.5M263.8 228.5h1M263.8 237.8h1M263.8 238.7h1M263.8 246.9h1.5M264.8 154.4h2M264.8 169.1h1M264.8 197.9h1M264.8 212.4h1M264.8 216.6h1.5M264.8 226.8h1M264.8 228.1h1M264.8 230.7h1M265.9 167.6h2M265.9 191.5h1.5M265.9 217.5h1.5M265.9 219.5h2M265.9 232.7h1M265.9 242.4h1.5M265.9 247.4h1M267.0 153.7h1M267.0 195.5h1.5M268.1 183.4h1.5M268.1 187.4h1.5M268.1 217.1h1M268.1 218.9h1M268.1 232.5h2M269.2 178.6h1M270.2 207.0h2M270.2 219.1h1M271.3 173.6h1.5M271.3 214.1h1M271.3 227.5h1M271.3 245.4h1.5M272.4 159.3h2M272.4 176.3h2M272.4 201.3h1.5M273.5 212.5h2M273.5 220.4h2M273.5 223.0h1.5M273.5 225.2h2M273.5 227.4h2M273.5 230.3h2M273.5 232.5h1M273.5 242.1h1.5M273.5 247.6h1.5M274.6 169.9h1.5M274.6 214.9h1.5M274.6 227.2h2M274.6 228.5h1M274.6 240.8h1.5M274.6 242.1h1M275.6 207.0h1.5M275.6 216.5h2M275.6 223.8h1.5M275.6 230.4h1M276.7 152.8h1.5M276.7 174.8h2M276.7 232.7h1.5M276.7 235.4h1.5M276.7 246.4h1.5M277.8 159.6h1M277.8 216.9h2M277.8 236.7h1.5M277.8 238.0h2M277.8 244.6h1.5M278.9 209.5h1M278.9 210.4h1M278.9 222.8h1M278.9 230.6h1M280.0 157.3h1M280.0 178.4h1.5M280.0 187.9h1M280.0 224.7h1.5M280.0 233.7h2M281.0 168.4h1.5M281.0 209.2h2M281.0 226.2h2M282.1 172.1h1M282.1 198.8h2M282.1 205.4h1M282.1 209.1h2M282.1 238.7h1.5M282.1 245.3h2M283.2 153.2h1.5M283.2 160.0h1.5M283.2 168.6h2M283.2 205.4h1M283.2 212.4h1M283.2 235.4h1M283.2 237.6h1M284.3 156.4h1.5M284.3 185.5h2M284.3 212.2h1.5M284.3 220.3h1M284.3 228.2h2M284.3 236.4h1M284.3 243.5h2M285.4 168.5h1.5M285.4 186.2h1M285.4 215.8h1M285.4 223.7h1.5M286.4 156.4h1.5M286.4 241.4h1.5M286.4 243.8h1.5M286.4 247.1h1M287.5 162.4h2M287.5 194.8h2M287.5 235.3h1.5M288.6 151.2h2M288.6 202.8h2M288.6 218.2h2M288.6 224.6h1.5M288.6 233.2h2M288.6 240.7h2M289.7 164.9h2M289.7 187.0h1M289.7 192.5h2M289.7 215.5h1.5M289.7 219.9h2M289.7 242.8h2M291.8 172.9h2M291.8 173.8h1M291.8 180.6h1M291.8 183.0h2M291.8 184.1h1.5M291.8 212.3h2M291.8 214.7h1.5M291.8 247.0h1M292.9 202.8h1.5M292.9 205.9h1.5M292.9 231.0h1M292.9 238.7h1.5M292.9 239.6h1M292.9 246.9h2M294.0 170.3h1M294.0 178.9h1M294.0 188.6h1.5M294.0 191.9h2M294.0 226.1h2M295.1 157.1h2M295.1 179.7h1M295.1 210.5h1M295.1 217.1h1.5M295.1 219.1h1.5M295.1 239.6h1M295.1 244.7h1M296.2 168.8h2M296.2 172.3h2M296.2 173.2h1.5M296.2 174.5h2M296.2 177.8h2M296.2 184.2h1.5M296.2 193.7h2M296.2 230.8h1M296.2 242.7h1.5M297.2 213.4h1.5M297.2 223.3h2M297.2 230.5h1M298.3 186.8h1.5M298.3 189.9h1M298.3 194.5h2M298.3 208.4h1M298.3 233.2h1M299.4 154.5h2M299.4 176.1h2M299.4 177.4h1M299.4 186.2h1.5M299.4 188.6h1.5M299.4 189.7h1.5M299.4 223.1h2M299.4 229.5h2M299.4 232.6h1.5M300.5 151.5h1.5M300.5 191.0h1M300.5 242.7h2M300.5 244.0h1.5M301.6 165.8h2M301.6 179.6h2M301.6 186.4h1.5M301.6 188.6h1M301.6 193.9h1M301.6 220.9h1M301.6 221.8h2M301.6 228.6h2M301.6 237.2h2M301.6 243.8h1M302.6 172.7h1M302.6 183.5h2M302.6 200.1h1.5M302.6 211.3h1.5M302.6 234.9h2M302.6 242.8h2M302.6 243.7h2M303.7 177.2h1M303.7 183.8h2M303.7 185.1h2M303.7 191.5h2M303.7 216.1h1.5M303.7 223.4h1.5M303.7 230.5h1.5M303.7 238.6h1M304.8 162.1h1.5M304.8 171.6h2M304.8 177.4h1.5M304.8 186.3h1M304.8 225.4h1M304.8 239.5h2M304.8 241.9h1.5M304.8 246.5h1M305.9 171.2h1.5M305.9 195.1h1M305.9 216.6h1.5M305.9 219.2h1M305.9 244.5h1M305.9 246.5h2M307.0 170.5h1.5M307.0 173.8h1.5M307.0 185.5h2M307.0 206.0h1.5M307.0 210.8h1.5M307.0 216.7h2M307.0 244.4h1.5M308.0 168.6h1M308.0 173.2h1M308.0 236.5h1M309.1 182.1h1.5M309.1 185.2h1M309.1 187.2h1M309.1 216.1h1.5M309.1 234.8h1.5M309.1 243.9h1M310.2 172.4h2M310.2 173.3h2M310.2 181.4h2M310.2 183.8h2M310.2 186.0h2M311.3 178.9h1M311.3 187.3h2M311.3 199.8h1M311.3 232.9h1.5M311.3 242.8h1M311.3 245.9h1.5M312.4 170.3h1M312.4 214.3h1.5M312.4 223.5h1M312.4 231.9h1M312.4 233.9h1.5M313.4 166.2h1M313.4 173.2h1.5M313.4 175.4h1M313.4 216.1h1M313.4 231.8h1.5M313.4 244.3h1.5M314.5 166.8h2M314.5 177.4h1.5M314.5 241.4h2M315.6 170.0h1.5M315.6 189.5h2M315.6 247.1h2M316.7 152.5h1.5M316.7 159.4h1.5M316.7 209.5h1.5M316.7 217.9h1M316.7 228.0h1M316.7 234.6h2M316.7 246.0h1M317.8 153.0h1M317.8 238.3h2M317.8 246.6h2M318.8 170.2h1.5M318.8 219.2h1M318.8 232.7h1M319.9 217.6h1M321.0 157.4h1M321.0 174.3h2M321.0 205.9h1.5M321.0 215.3h1.5M321.0 229.8h2M321.0 231.8h1.5M321.0 240.8h1.5M322.1 164.6h2M322.1 232.8h1M322.1 244.7h1M323.2 165.6h1.5M323.2 206.7h1.5M323.2 217.3h1.5M323.2 220.6h2M324.2 170.4h2M324.2 187.7h1.5M324.2 191.4h1M324.2 200.2h2M324.2 228.7h1.5M324.2 241.7h1.5M325.3 165.0h2M325.3 219.9h1M325.3 237.3h1.5M326.4 198.2h1M326.4 225.3h2M326.4 227.3h1.5M326.4 237.4h2M327.5 154.0h2M327.5 208.1h1M327.5 214.0h1M328.6 173.3h2M328.6 196.4h1.5M328.6 211.1h1.5M328.6 218.8h2M328.6 226.0h2M328.6 245.1h1.5M329.6 181.3h2M329.6 198.0h1M329.6 217.1h1M329.6 225.1h1.5M329.6 236.2h1M330.7 162.6h2M330.7 172.8h1M330.7 177.6h2M330.7 188.6h1.5M330.7 199.4h1.5M330.7 204.5h2M330.7 229.6h2M330.7 233.1h2M331.8 153.4h2M331.8 162.9h1.5M331.8 166.4h1M331.8 197.3h1.5M332.9 173.1h2M332.9 178.8h1.5M332.9 238.2h2M332.9 245.0h1M334.0 215.9h1M334.0 216.8h1M334.0 242.0h1.5M335.0 160.3h1M335.0 175.8h1.5M335.0 204.7h1M335.0 215.9h2M335.0 223.6h1M335.0 228.9h1M335.0 238.1h1M335.0 241.6h2M336.1 182.2h1M336.1 198.1h1.5M336.1 213.1h1.5M336.1 229.0h1.5M336.1 239.6h2M336.1 243.3h1M336.1 247.2h1M337.2 174.5h1M337.2 227.0h2M337.2 227.9h1.5M338.3 157.8h1M338.3 174.7h2M338.3 181.9h1.5M338.3 186.5h1.5M338.3 205.0h1.5M338.3 220.8h1.5M338.3 232.2h1.5M338.3 238.8h2M339.4 167.1h1.5M339.4 197.5h1M339.4 220.0h1M339.4 223.7h2M339.4 245.2h2M339.4 247.4h2M340.4 215.0h2M340.4 224.3h1.5M340.4 233.7h1.5M341.5 152.2h2M341.5 185.7h1.5M341.5 226.7h1.5M342.6 154.8h1.5M342.6 227.8h1M342.6 232.6h1M342.6 236.1h1M343.7 157.2h1.5M343.7 169.1h2M344.8 163.8h1M344.8 192.9h2M344.8 235.2h2M345.8 175.7h1M345.8 204.2h1M345.8 225.0h1M345.8 231.0h1.5M345.8 232.1h1.5M345.8 234.7h2M345.8 246.7h1M345.8 247.6h2M346.9 155.3h1M346.9 230.2h2M346.9 245.0h2M348.0 162.8h1.5M348.0 193.8h1.5M348.0 219.0h1M348.0 224.7h1.5M348.0 229.8h1M348.0 237.7h1.5M349.1 192.8h1M350.2 168.6h1.5M350.2 181.8h2M350.2 240.2h1.5M350.2 245.9h1.5M351.2 171.2h2M351.2 201.7h1M351.2 235.9h1M352.3 150.4h2M352.3 172.5h2M352.3 212.3h1.5M352.3 238.4h2M353.4 183.1h1M353.4 220.5h1.5M353.4 223.6h2M353.4 230.4h2M354.5 216.8h1.5M354.5 233.1h1.5M355.6 149.3h1M355.6 177.9h1M355.6 208.6h1.5M355.6 223.1h1M355.6 224.4h2M356.6 159.8h2M356.6 165.5h1M356.6 175.5h1.5M356.6 195.1h1M356.6 208.1h2M356.6 216.1h1.5M357.7 208.9h2M357.7 222.7h1.5M357.7 229.8h1.5M357.7 241.2h1.5M358.8 159.8h2M358.8 172.2h1M358.8 203.8h1M358.8 218.3h2M358.8 222.5h1.5M358.8 239.7h1M358.8 241.9h1M359.9 202.8h1M359.9 231.5h1.5M359.9 235.9h2M362.0 234.0h1.5M362.0 236.9h1.5M362.0 238.9h1M363.1 169.9h2M363.1 194.4h2M363.1 219.0h2M363.1 221.2h1.5M363.1 222.3h1M363.1 230.2h1M363.1 239.9h1M364.2 182.1h1.5M364.2 184.5h1.5M364.2 225.3h2M364.2 240.0h2M364.2 246.0h2M365.3 213.0h2M365.3 215.9h1.5M365.3 217.9h2M365.3 225.6h2M365.3 226.5h2M365.3 244.3h1.5M366.4 219.6h1M366.4 226.6h1.5M366.4 233.4h1.5M366.4 236.7h1.5M367.4 180.7h2M367.4 217.4h2M367.4 219.6h1.5M367.4 223.8h1M368.5 160.9h1.5M368.5 197.2h1.5M368.5 210.5h1M369.6 158.9h1M369.6 195.7h1.5M369.6 202.6h2M369.6 215.7h1.5M369.6 222.1h2M369.6 223.4h1.5M369.6 226.9h1M370.7 214.2h1.5M370.7 238.4h1.5M370.7 240.6h1.5M371.8 155.6h1.5M371.8 176.2h1.5M371.8 177.3h1M371.8 189.5h2M371.8 204.0h2M371.8 205.1h1.5M371.8 223.2h2M371.8 224.3h1.5M371.8 238.1h1M372.8 155.2h2M372.8 167.8h1.5M372.8 223.1h1M372.8 225.3h1.5M372.8 226.2h1M372.8 227.3h1.5M372.8 232.1h1.5M373.9 204.6h1M373.9 217.6h2M373.9 234.5h1.5M373.9 236.5h1M373.9 238.5h1.5M373.9 242.7h1.5M373.9 244.0h1.5M375.0 153.3h2M375.0 155.9h1.5M375.0 195.0h2M375.0 210.8h1.5M375.0 224.2h1.5M375.0 228.2h1.5M375.0 231.9h2M375.0 233.2h1.5M375.0 242.9h2M375.0 244.0h2M376.1 157.9h1M376.1 205.8h1M376.1 220.8h2M376.1 221.7h2M376.1 230.7h1.5M376.1 243.6h2M376.1 247.1h2M377.2 177.8h2M377.2 201.4h1M377.2 213.8h1M377.2 218.0h1M377.2 222.6h1M377.2 223.7h2M377.2 234.9h1M378.2 179.6h1.5M378.2 194.7h1M378.2 236.1h1M378.2 240.3h1M379.3 217.8h1.5M379.3 219.8h1M379.3 232.5h2M380.4 197.3h1.5M380.4 222.6h1M380.4 228.3h2M380.4 235.1h1.5M380.4 237.5h1.5M380.4 242.8h2M381.5 214.0h1M381.5 216.9h2M381.5 245.7h2M382.6 172.4h1.5M382.6 215.4h1.5M382.6 218.1h2M382.6 222.9h2M382.6 227.7h2M382.6 243.2h1.5M383.6 173.0h2M383.6 192.6h2M383.6 212.9h1.5M383.6 223.4h2M383.6 227.4h1.5M383.6 241.7h1M384.7 157.5h2M384.7 184.0h1M384.7 224.1h2M384.7 231.4h1M385.8 156.1h1M385.8 174.9h2M385.8 177.1h2M385.8 189.9h2M385.8 221.0h2M385.8 226.3h1M385.8 230.7h1M385.8 245.7h1M386.9 171.6h1.5M386.9 196.5h1M386.9 216.2h1.5M386.9 229.6h2M386.9 232.0h1.5M386.9 235.3h2M386.9 240.6h1.5M388.0 172.7h1M388.0 179.8h1M388.0 232.8h2M156.0 178.7h1.5M160.0 181.4h2.1M165.2 185.0h1.2M170.0 186.9h1.9M188.0 192.8h1.5M190.0 193.2h2.5M192.7 192.1h1.8M213.5 191.3h2.2M227.6 194.4h2.5M236.5 195.7h1.9M252.0 199.7h1.8M275.8 207.4h2.3M278.5 208.3h1.8M283.6 210.1h1.8M300.9 214.4h2.2M308.0 214.8h1.1M309.8 214.6h1.6M313.0 213.5h2M320.7 213.2h1.8M323.1 212.5h2.5M328.7 213.7h1.6M333.1 213.3h1.4M334.8 213.9h2.5M339.7 214.8h1.8M342.2 215.4h2.3M349.7 218.1h2.3M355.6 216.5h2.1M358.3 215.0h2M368.8 213.5h2.1M382.1 212.9h2.2" stroke="#a0a0c8" stroke-width="0.8" fill="none" opacity="0.6"/>
<path d="M154.1 197.6v.9M154.1 219.1v.9M154.1 232.9v.7M155.2 181.7v.9M155.2 184.3v.7M155.2 204.3v1.2M155.2 232.6v.7M157.3 163.1v.9M158.4 184.2v.9M158.4 237.7v.9M158.4 244.9v1.2M159.5 208.9v1.2M160.6 161.6v.9M160.6 164.0v.9M160.6 168.4v.7M161.7 181.1v.9M161.7 194.7v.9M161.7 222.1v.7M161.7 230.2v.7M162.7 152.9v.7M162.7 213.1v1.2M162.7 226.5v.9M164.9 220.1v1.2M166.0 161.6v.9M166.0 190.7v1.2M167.1 232.3v.7M168.1 158.6v.7M168.1 223.7v1.2M169.2 155.7v1.2M172.5 176.1v.9M173.5 200.8v1.2M173.5 233.4v.9M175.7 160.2v.9M176.8 195.4v1.2M177.9 180.4v.7M177.9 237.5v1.2M180.0 193.6v.7M180.0 241.9v.7M181.1 203.5v.9M182.2 165.9v.9M183.3 195.1v.7M183.3 238.0v.7M184.3 171.3v.9M184.3 247.3v.9M185.4 231.9v1.2M186.5 210.2v.9M187.6 161.5v1.2M187.6 243.5v1.2M188.7 157.5v1.2M188.7 210.7v.9M189.7 159.9v1.2M189.7 194.8v.9M189.7 228.4v.9M190.8 224.6v.7M191.9 151.1v1.2M191.9 213.8v.9M191.9 244.5v.9M193.0 161.6v.9M194.1 170.3v1.2M194.1 237.1v1.2M195.1 165.4v1.2M195.1 229.9v.9M196.2 201.3v.9M196.2 210.1v1.2M196.2 215.2v1.2M196.2 232.1v.7M198.4 177.2v1.2M198.4 218.0v.7M198.4 242.1v.7M199.5 177.9v.7M199.5 178.8v1.2M199.5 213.2v1.2M199.5 223.9v.9M199.5 230.0v1.2M200.5 220.3v.9M201.6 196.3v.9M202.7 151.4v.9M202.7 208.2v.9M203.8 151.7v.9M205.9 163.8v1.2M205.9 174.4v.7M205.9 184.1v1.2M205.9 188.7v1.2M205.9 220.2v.9M208.1 208.0v.9M208.1 229.5v.9M210.3 176.2v.9M210.3 218.3v.9M211.3 212.5v1.2M211.3 224.6v.7M212.4 200.4v1.2M213.5 150.3v.7M213.5 172.4v1.2M213.5 184.0v.7M214.6 158.7v.7M214.6 246.9v1.2M215.7 196.6v1.2M215.7 228.9v.9M216.7 194.4v1.2M216.7 214.4v.9M216.7 217.7v.7M217.8 166.9v.7M217.8 196.2v1.2M218.9 163.2v.7M220.0 154.8v1.2M220.0 218.3v.9M220.0 245.5v.9M220.0 247.5v.7M221.1 178.8v.9M221.1 187.7v.7M221.1 213.0v.9M222.1 202.7v.9M222.1 228.4v.7M223.2 156.6v1.2M223.2 196.9v.7M223.2 199.3v.7M223.2 223.0v1.2M223.2 235.5v.9M224.3 223.8v.7M225.4 236.7v.7M226.5 208.5v.7M227.5 227.3v.7M229.7 211.2v1.2M230.8 207.6v1.2M234.0 198.4v.9M234.0 205.6v.9M234.0 230.6v1.2M235.1 158.1v1.2M235.1 162.9v1.2M235.1 180.7v.7M235.1 192.8v1.2M235.1 209.8v1.2M235.1 214.2v.9M235.1 221.0v.9M235.1 222.3v.9M235.1 236.6v1.2M236.2 161.3v.7M236.2 163.3v.7M236.2 164.6v.9M236.2 166.8v1.2M236.2 170.5v.7M236.2 171.4v.7M236.2 173.8v.7M236.2 180.8v.9M236.2 195.1v.7M236.2 202.8v.7M236.2 213.6v1.2M236.2 220.4v1.2M236.2 224.1v.9M236.2 226.5v.9M236.2 239.7v.9M237.3 150.9v1.2M237.3 169.2v.9M237.3 202.8v.9M237.3 207.8v.9M237.3 211.1v.9M237.3 217.7v.7M237.3 221.4v.9M237.3 222.7v.7M237.3 225.6v.7M237.3 235.7v.9M238.3 153.9v.7M238.3 161.4v1.2M238.3 189.1v.7M238.3 191.3v.9M238.3 192.2v1.2M238.3 200.1v.9M238.3 218.6v1.2M238.3 228.3v.7M239.4 168.5v.7M239.4 187.4v1.2M239.4 193.4v.9M239.4 194.3v.9M239.4 195.4v.9M239.4 207.7v.7M239.4 232.5v1.2M239.4 235.8v.9M240.5 157.8v.7M240.5 163.5v1.2M240.5 169.2v1.2M240.5 183.1v.7M240.5 189.5v.7M240.5 193.7v1.2M240.5 210.6v.7M240.5 215.8v1.2M240.5 222.4v.9M240.5 224.8v.7M240.5 226.1v.7M240.5 241.5v.7M241.6 157.6v.7M241.6 202.5v.9M241.6 207.8v.7M241.6 215.2v1.2M241.6 222.5v1.2M241.6 226.3v.9M241.6 228.1v.7M242.7 183.6v1.2M242.7 208.0v1.2M242.7 219.4v1.2M242.7 221.6v1.2M242.7 225.1v1.2M242.7 230.8v1.2M242.7 239.4v1.2M242.7 246.0v.7M243.7 165.9v1.2M243.7 169.6v1.2M243.7 189.8v.9M243.7 206.7v.7M243.7 234.5v.7M243.7 242.9v.7M244.8 165.1v.9M244.8 167.5v1.2M244.8 174.1v1.2M244.8 183.6v.9M244.8 206.5v.7M244.8 211.3v.9M244.8 218.1v.9M244.8 221.4v.9M244.8 225.6v1.2M244.8 233.3v.9M244.8 240.3v.9M245.9 150.2v.9M245.9 154.6v.9M245.9 168.4v.7M245.9 169.5v.7M245.9 172.8v.7M245.9 188.2v.9M245.9 193.9v.9M245.9 195.0v.7M245.9 196.1v.9M245.9 208.6v.7M245.9 221.6v.9M245.9 228.4v1.2M245.9 232.6v1.2M245.9 239.0v.9M245.9 240.8v.7M245.9 243.5v1.2M247.0 188.9v1.2M247.0 199.5v.7M247.0 208.5v.7M247.0 210.3v.9M247.0 229.4v.9M247.0 234.0v.9M247.0 237.1v.7M247.0 242.4v1.2M247.0 243.5v.7M248.1 152.4v1.2M248.1 159.9v1.2M248.1 164.1v.9M248.1 165.2v.9M248.1 180.0v1.2M248.1 186.7v.9M248.1 187.8v1.2M248.1 208.1v.7M248.1 213.0v1.2M248.1 217.0v.9M248.1 223.6v1.2M248.1 230.2v.9M248.1 235.1v.7M248.1 247.0v.9M249.1 151.3v.7M249.1 155.7v.7M249.1 168.0v1.2M249.1 178.8v1.2M249.1 183.5v.7M249.1 185.5v1.2M249.1 208.0v.9M249.1 213.7v.7M249.1 222.3v.7M249.1 228.9v1.2M249.1 233.3v.9M249.1 235.5v.9M249.1 241.7v.7M250.2 163.9v1.2M250.2 164.8v.7M250.2 169.0v.7M250.2 183.4v.9M250.2 186.7v.7M250.2 210.9v.9M250.2 221.0v1.2M250.2 224.1v.7M250.2 234.3v.7M250.2 236.5v.7M250.2 237.6v1.2M250.2 245.1v.9M251.3 153.9v1.2M251.3 166.9v.9M251.3 191.4v.7M251.3 194.0v.9M251.3 216.1v1.2M251.3 222.2v1.2M251.3 227.7v.7M251.3 230.8v1.2M251.3 235.2v1.2M251.3 247.3v1.2M252.4 155.8v1.2M252.4 161.3v.7M252.4 165.5v1.2M252.4 171.4v.7M252.4 186.6v.9M252.4 191.2v.9M252.4 196.2v.9M252.4 204.0v.9M252.4 212.8v.7M252.4 230.0v.7M252.4 241.0v1.2M253.5 184.8v.7M253.5 218.2v.9M253.5 231.4v1.2M255.6 209.3v.9M255.6 231.5v.9M255.6 244.9v.9M257.8 163.7v.9M257.8 183.4v.9M257.8 198.7v1.2M257.8 226.8v.7M257.8 230.8v.7M259.9 228.4v.9M261.0 215.9v.9M262.1 206.9v.9M265.3 170.2v.7M265.3 221.7v.7M266.4 198.3v.7M266.4 220.6v.7M266.4 244.8v1.2M269.7 210.9v1.2M270.7 235.5v1.2M274.0 244.3v.7M275.1 156.1v.9M275.1 217.8v.7M276.1 218.3v.9M277.2 202.0v.9M279.4 242.9v.7M281.5 173.4v.7M281.5 218.7v1.2M283.7 182.3v.9M285.9 212.2v.7M285.9 216.9v.9M285.9 230.1v.9M286.9 213.5v1.2M289.1 227.9v1.2M290.2 246.3v1.2M293.4 165.9v.9M293.4 233.4v.9M294.5 231.6v.9M294.5 245.0v.7M295.6 223.1v1.2M295.6 228.4v1.2M297.7 160.1v.7M298.8 168.4v.7M298.8 226.6v.7M298.8 242.0v1.2M299.9 231.7v1.2M303.1 215.3v.9M304.2 152.8v.9M304.2 180.7v.9M304.2 229.2v1.2M305.3 175.6v.9M306.4 175.1v.7M306.4 177.1v1.2M309.6 228.2v1.2M310.7 228.5v.7M311.8 150.9v.9M311.8 158.0v1.2M311.8 215.9v1.2M311.8 226.9v1.2M311.8 230.0v.9M313.9 220.3v.9M315.0 189.5v1.2M316.1 222.1v1.2M324.7 247.0v1.2M325.8 232.9v.9M325.8 239.5v.7M326.9 219.1v1.2M328.0 170.4v.9M328.0 190.9v1.2M328.0 246.8v.9M330.1 221.1v.9M330.1 238.4v.9M330.1 243.7v.7M331.2 224.8v.9M332.3 218.8v.7M332.3 231.1v.9M332.3 246.1v1.2M334.5 219.0v.9M334.5 224.5v.7M334.5 229.3v1.2M335.5 246.9v.7M336.6 218.4v.7M336.6 227.7v.7M336.6 235.2v.7M337.7 175.6v1.2M338.8 233.1v1.2M339.9 169.5v.7M339.9 229.5v.7M343.1 230.2v1.2M344.2 244.3v1.2M345.3 236.3v1.2M348.5 196.9v1.2M348.5 243.9v.9M349.6 187.1v.9M351.7 237.0v.9M351.7 239.0v1.2M352.8 220.3v.9M352.8 237.3v.9M357.1 240.6v1.2M359.3 219.2v1.2M361.5 230.6v1.2M361.5 233.5v.7M361.5 244.3v.7M362.5 220.3v.9M363.6 245.0v1.2M365.8 172.8v1.2M365.8 217.0v.7M365.8 223.0v.7M365.8 237.3v.9M365.8 240.6v.9M366.9 228.6v.7M367.9 238.6v.7M369.0 169.5v.9M369.0 182.2v.9M370.1 217.0v.9M377.7 179.8v.7M379.8 220.9v1.2M386.3 227.4v.9M387.4 218.0v.9" stroke="#7070b8" stroke-width="0.8" fill="none" opacity="0.65"/>
<path d="M153.6 223.9h2M154.7 196.2h2M154.7 228.0h2M155.8 236.3h2M159.0 217.9h2M161.2 151.2h1M162.2 212.2h1.5M163.3 173.6h1M163.3 202.1h1M164.4 206.0h2M166.6 218.9h2M166.6 238.0h2M167.6 240.0h1M172.0 213.2h1M172.0 233.9h2M182.8 234.2h1.5M183.8 150.6h2M184.9 239.8h1M186.0 185.2h2M187.1 196.1h2M187.1 244.4h1.5M188.2 221.0h1.5M189.2 180.5h1M189.2 236.7h1M192.5 247.6h1M193.6 179.1h1.5M195.7 207.7h2M201.1 178.5h2M201.1 219.1h2M202.2 205.3h1M205.4 211.0h1M207.6 172.6h1M208.7 158.7h1.5M208.7 170.3h1M209.8 235.8h2M213.0 153.4h1M214.1 215.2h1.5M214.1 224.2h2M216.2 234.0h1.5M217.3 197.3h1.5M218.4 231.0h2M218.4 232.3h2M219.5 152.6h1M221.6 174.6h1.5M221.6 216.9h1M222.7 161.0h1.5M222.7 182.8h2M223.8 187.4h1.5M223.8 246.3h1.5M226.0 214.2h1.5M226.0 230.8h1.5M227.0 238.9h1.5M230.3 219.4h1.5M233.5 159.8h2M233.5 167.5h1M234.6 159.4h1M234.6 168.6h2M234.6 169.9h1M234.6 173.0h1M234.6 238.4h1M235.7 150.8h1.5M235.7 227.4h2M235.7 233.5h2M235.7 242.3h1M236.8 166.1h2M236.8 172.7h1.5M236.8 212.2h2M236.8 232.0h1M237.8 208.7h2M237.8 210.9h2M237.8 219.7h1M237.8 229.6h2M237.8 233.6h1.5M237.8 243.3h1M238.9 173.8h1M238.9 188.5h1M238.9 200.0h1M238.9 208.8h1M240.0 154.7h1.5M240.0 202.0h1.5M240.0 228.5h1.5M240.0 231.6h1.5M240.0 234.7h1M241.1 159.4h2M241.1 239.1h2M242.2 157.3h2M243.2 152.3h1.5M243.2 194.2h1M243.2 211.3h2M243.2 244.9h1M244.3 156.3h1.5M244.3 160.9h2M244.3 164.2h1M244.3 168.4h2M244.3 200.3h2M244.3 204.3h1M244.3 226.5h1M244.3 232.0h1.5M244.3 247.6h1M245.4 152.0h1M245.4 167.1h1M245.4 170.4h2M245.4 217.6h1M246.5 185.8h1.5M246.5 209.4h1M246.5 215.0h1.5M246.5 218.3h1M246.5 244.8h1M246.5 246.8h1.5M247.6 182.0h1M247.6 203.0h1M247.6 204.3h2M247.6 210.1h2M247.6 232.0h2M248.6 177.5h2M248.6 189.2h1.5M248.6 201.6h1M248.6 232.0h1.5M249.7 172.3h1.5M249.7 244.0h2M250.8 160.8h1M250.8 206.3h1M250.8 207.2h2M250.8 228.8h2M250.8 241.1h2M251.9 163.5h1.5M251.9 205.3h1.5M251.9 225.6h1M253.0 246.1h2M255.1 232.8h1.5M256.2 203.0h2M256.2 205.0h1.5M260.5 245.9h1.5M262.7 235.2h1M263.8 159.2h1M265.9 206.7h2M268.1 206.8h1M269.2 216.6h1M270.2 234.2h2M271.3 230.4h1.5M278.9 228.8h1M280.0 153.6h2M282.1 219.6h1.5M282.1 234.5h2M282.1 240.7h2M283.2 236.7h1.5M289.7 176.6h2M289.7 182.1h2M289.7 198.6h1.5M290.8 218.6h1.5M291.8 225.7h1M299.4 191.9h2M302.6 240.4h1.5M309.1 213.4h2M309.1 222.7h2M311.3 197.8h1M312.4 229.9h1M313.4 214.8h1M316.7 240.1h2M317.8 232.6h2M321.0 156.5h1M321.0 190.1h1M323.2 242.7h1.5M325.3 196.2h1M331.8 209.8h1.5M331.8 245.2h1M332.9 242.4h1.5M341.5 216.6h1.5M342.6 201.7h1.5M343.7 219.2h2M361.0 151.1h1.5M362.0 238.0h1.5M364.2 220.3h2M365.3 173.9h1.5M366.4 196.5h2M366.4 212.1h1M366.4 246.1h2M368.5 208.1h1M376.1 244.5h2M377.2 231.2h1.5M377.2 232.3h2M381.5 190.7h1M386.9 223.5h1M153.9 177.5h1.3M158.1 180.0h1.4M162.4 183.1h2.3M166.9 185.9h2.5M172.3 188.7h1M174.0 189.4h1.2M175.8 189.8h2.2M178.3 190.9h1.4M180.2 191.1h2.5M182.9 192.9h2.3M186.0 192.5h1.8M194.9 192.2h2.4M197.8 190.7h2.3M200.1 190.7h2.3M202.6 190.0h1.5M204.4 189.2h2.3M207.0 189.5h1.9M208.9 190.3h2M211.5 191.4h1.6M216.0 192.6h1.1M217.9 193.3h2M219.9 194.1h1.5M222.1 194.4h2M224.7 194.7h2.4M230.7 194.7h1.1M232.2 195.3h1.5M233.8 195.6h2M238.8 197.2h1.8M241.4 197.4h1.2M243.4 198.1h1M244.6 198.4h1.2M246.0 197.9h1.7M248.4 198.5h2.5M250.9 199.3h1.1M254.0 200.7h1.2M255.8 201.7h2.1M258.0 202.3h1.1M259.2 203.2h1.7M261.3 203.9h2.5M264.4 204.1h1.9M266.9 204.8h2M269.1 206.3h1.7M271.4 206.2h1.3M272.8 206.9h1.4M274.7 206.7h1M280.6 209.5h2.3M285.7 211.6h1.7M288.1 212.0h1.4M289.8 213.0h1.2M291.7 213.3h2.3M294.3 212.7h1.8M296.5 213.0h1.6M298.2 213.7h2M303.8 214.7h2.1M306.4 213.9h1.4M311.5 213.6h1.1M315.6 214.2h2.2M318.0 213.7h2.3M326.1 213.1h2M330.4 213.9h2.2M337.6 215.0h2M345.1 216.4h1.3M346.8 217.8h2.4M352.3 217.9h1.2M353.9 216.6h1.4M360.5 214.6h1.5M362.4 214.9h2.2M364.7 214.0h1.1M366.5 214.0h1.9M371.7 213.3h1.4M373.2 212.6h1.4M374.7 212.5h2.1M377.3 212.5h1.8M379.9 212.4h1.5M385.0 211.8h2.4" stroke="#7070b8" stroke-width="0.8" fill="none" opacity="0.65"/>
<path d="M154.1 236.0v.7M156.3 161.7v.9M158.4 162.6v1.2M158.4 210.4v1.2M158.4 213.9v1.2M159.5 192.8v1.2M162.7 168.5v.7M163.8 225.2v1.2M164.9 241.1v.7M167.1 150.7v.9M167.1 204.4v.9M168.1 181.5v1.2M168.1 220.4v.7M169.2 217.4v.9M175.7 218.5v.9M175.7 231.7v.9M176.8 198.1v1.2M181.1 243.0v.9M183.3 232.0v.9M184.3 217.6v.7M187.6 156.6v1.2M189.7 216.5v1.2M194.1 205.2v.9M194.1 231.6v.9M197.3 153.1v.7M199.5 179.9v.9M202.7 213.5v1.2M203.8 207.0v.9M209.2 167.2v.9M209.2 171.4v1.2M210.3 199.0v.9M212.4 213.7v1.2M215.7 154.9v.9M215.7 220.9v.7M218.9 188.3v.9M220.0 150.6v1.2M221.1 235.1v.9M221.1 237.5v1.2M222.1 232.4v1.2M222.1 234.8v.9M223.2 226.1v1.2M224.3 225.6v1.2M225.4 164.8v.9M225.4 210.1v.9M226.5 226.2v.7M227.5 242.9v.9M228.6 169.3v1.2M229.7 247.1v.7M234.0 153.4v.7M234.0 222.7v.9M234.0 228.0v.9M235.1 211.1v.9M235.1 212.4v.9M235.1 244.6v.7M236.2 187.8v.7M236.2 211.8v.9M237.3 181.8v1.2M237.3 228.7v.9M238.3 223.7v1.2M239.4 160.1v.9M239.4 230.3v.9M239.4 245.0v.7M240.5 219.3v.9M241.6 149.7v.9M241.6 150.6v.9M241.6 179.2v.9M241.6 247.0v.9M242.7 163.7v.9M242.7 203.6v1.2M242.7 226.2v1.2M243.7 157.8v.7M243.7 203.6v.7M243.7 205.6v.9M243.7 212.4v.7M243.7 232.3v1.2M243.7 237.4v1.2M244.8 223.6v.9M244.8 228.7v1.2M245.9 211.7v.9M245.9 239.9v.9M248.1 163.2v.7M248.1 171.6v.9M248.1 199.0v.7M248.1 209.0v.7M248.1 221.2v1.2M248.1 222.3v.9M249.1 164.7v.9M249.1 173.7v.7M249.1 187.9v.7M249.1 193.2v1.2M249.1 212.6v.7M249.1 218.8v.9M250.2 202.1v1.2M250.2 232.1v1.2M251.3 210.3v.9M252.4 150.5v1.2M252.4 216.5v1.2M252.4 221.4v1.2M252.4 222.5v1.2M253.5 175.8v.7M253.5 221.3v.9M253.5 233.4v1.2M255.6 152.3v.7M255.6 180.8v1.2M256.7 200.1v.7M257.8 237.7v.9M258.9 205.0v1.2M265.3 210.2v.7M265.3 242.9v1.2M269.7 235.1v.7M271.8 217.6v.7M271.8 237.7v1.2M272.9 208.8v.9M272.9 212.3v.9M272.9 215.9v.7M280.5 238.4v1.2M281.5 245.3v.9M284.8 246.4v.7M285.9 233.0v1.2M292.3 219.1v1.2M292.3 224.4v.7M295.6 230.8v1.2M301.0 180.0v1.2M305.3 226.5v.7M308.5 226.6v1.2M309.6 150.6v.9M316.1 232.8v1.2M318.3 173.0v.9M318.3 220.9v.7M319.3 187.2v.7M320.4 215.0v.9M326.9 244.0v.9M332.3 217.7v1.2M333.4 216.4v.9M333.4 219.7v1.2M333.4 237.3v.9M334.5 238.7v1.2M338.8 227.6v.9M343.1 225.4v1.2M350.7 230.7v.7M356.1 234.1v.9M359.3 246.5v.7M361.5 240.3v1.2M363.6 228.0v1.2M366.9 247.4v.7M371.2 246.1v.9M373.3 197.4v.7M376.6 216.2v.7M379.8 239.0v.7M382.0 230.7v.9M385.2 225.9v.9M386.3 219.0v1.2M386.3 236.0v.7" stroke="#3c3cb0" stroke-width="0.8" fill="none" opacity="0.8"/>
<path d="M157.9 150.6h1M157.9 214.8h2M161.2 215.8h1.5M163.3 211.8h1M164.4 231.3h2M168.7 245.7h2M175.2 179.4h2M175.2 229.3h1M186.0 242.6h2M187.1 217.8h1.5M189.2 224.9h1M194.6 219.3h1M196.8 233.1h2M207.6 163.4h1.5M207.6 245.4h1M215.2 207.2h1M223.8 239.6h2M227.0 173.9h1M227.0 181.2h1.5M236.8 154.0h1M237.8 195.5h1.5M238.9 172.7h2M238.9 221.5h2M240.0 176.5h1.5M240.0 229.8h1M242.2 186.0h1.5M242.2 235.6h1.5M243.2 215.3h2M244.3 186.9h1.5M246.5 228.1h1.5M246.5 240.0h1M247.6 181.1h1.5M247.6 225.6h1M247.6 245.7h1M248.6 158.1h1.5M249.7 205.6h1M250.8 169.1h2M250.8 202.1h1.5M250.8 205.0h1.5M251.9 170.1h2M265.9 223.2h1M269.2 232.9h2M271.3 191.0h1.5M273.5 213.4h1.5M277.8 168.2h1M277.8 211.2h1.5M288.6 243.3h1M289.7 226.7h1.5M292.9 220.4h1M305.9 194.2h2M308.0 169.7h2M313.4 177.2h1.5M322.1 239.6h2M341.5 233.0h2M355.6 242.4h2M356.6 239.3h1.5M363.1 226.7h1.5M364.2 228.2h1M368.5 245.3h1M370.7 242.8h1.5M371.8 153.4h1.5" stroke="#3c3cb0" stroke-width="0.8" fill="none" opacity="0.8"/>
<path d="M168.8 149.3V248.5" stroke="#5050b0" stroke-width="0.7" opacity="0.25"/>
<path d="M168.8 184V248" stroke="#4040b0" stroke-width="0.9" opacity="0.45"/>
<path d="M350.4 212V248.5" stroke="#5050b0" stroke-width="0.7" opacity="0.3"/>
<path d="M368.0 172V188" stroke="#5050b0" stroke-width="0.7" opacity="0.2"/>
<path d="M362.5 180V212" stroke="#5050b0" stroke-width="0.7" opacity="0.15"/>
<path d="M385.5 150V248" stroke="#5050b0" stroke-width="0.7" opacity="0.25"/>
<path d="M168.7 152.6v1.2M169.0 159.6v.6M168.9 161.4v1.2M168.6 174.6v.9M168.6 176.8v.6M168.7 212.6v1.2M168.7 219.8v.9M168.6 226.0v1.6M169.0 227.6v1.6M168.5 229.8v1.6M168.7 232.0v1.2M168.9 238.6v1.2M168.9 223.9v1.5M187.4 183.8v.6M187.5 185.8v.9M187.6 190.2v1.6M187.2 192.4v.6M187.0 200.4v.6M187.0 212.8v1.6M187.4 224.6v1.2M187.3 239.4v.6M217.9 176.7v1.6M217.8 178.5v.6M217.9 185.7v1.6M217.9 188.9v1.2M218.2 202.1v1.6M217.8 203.3v1.2M217.8 208.3v1.2M217.8 209.3v.6M217.8 213.3v.6M218.0 217.5v1.2M218.2 218.7v.9M218.0 224.1v1.6M217.8 230.7v1.2M218.0 231.5v1.2M218.2 245.5v1.6M350.3 219.6v.6M350.4 241.6v.9M368.0 173.4v.9M368.0 179.0v1.6M362.7 182.4v.9M362.5 189.2v1.2M362.2 198.8v.6M362.2 202.6v.9M362.7 205.2v.9M385.3 154.1v.6M385.7 157.3v1.2M385.5 166.5v1.6M385.4 179.1v.9M385.5 183.1v1.2M385.4 193.5v1.2M385.6 194.3v1.6M385.8 198.9v.9M385.5 201.1v1.2M385.7 202.1v.9M385.2 209.3v1.6M385.4 210.3v.9M385.5 215.3v.6M385.7 218.5v.6M385.4 219.3v.9M385.3 222.1v.9M385.4 229.3v1.2M385.3 230.3v1.6M385.2 235.1v1.6M384.6 203.8v1M385.7 211.0v1.6M384.5 200.6v1M386.5 232.2v1M244.4 154.9v.6M244.5 156.1v1.6M244.8 163.1v1.2M244.6 176.5v1.6M244.7 182.1v1.2M244.3 184.3v.6M244.4 212.5v1.6M244.3 219.1v1.2M244.5 220.3v1.2M244.5 232.5v.9M244.7 234.3v1.6M244.4 243.3v1.2M260.2 182.6v1.6M259.8 187.2v1.6M259.8 207.6v1.6M259.7 208.6v1.2M260.0 213.0v.9M259.8 214.0v1.2M259.7 220.0v1.2M260.1 228.6v1.6M260.0 229.4v1.2M260.2 230.2v.6M259.8 234.0v1.6M259.7 239.6v.9M259.9 243.6v1.6" stroke="#9696d0" stroke-width="0.8" fill="none" opacity="0.6"/>
<path d="M168.6 215.8h2.7M384.5 214.7h2.1M384.8 238.3h2.9M385.2 233.6h3" stroke="#9696d0" stroke-width="0.8" fill="none" opacity="0.6"/>
<path d="M169.0 154.8v1.6M168.8 160.4v1.2M168.7 175.8v.9M168.8 186.2v1.2M168.6 188.2v1.2M169.0 190.4v1.6M169.0 194.2v.9M168.7 197.4v1.2M168.6 199.2v1.2M168.5 201.2v1.2M168.6 207.6v.9M169.1 209.4v.6M169.1 210.4v.6M168.6 211.6v1.2M169.1 213.4v1.6M169.0 224.0v1.2M169.0 234.2v.9M168.6 237.8v.9M168.7 241.0v.6M169.0 242.0v1.2M168.9 243.2v.6M168.7 246.6v.6M168.5 199.5v1.1M169.4 191.8v1.9M169.3 225.2v1M169.0 219.7v1.7M168.0 188.5v1.8M187.5 167.2v1.2M187.3 175.0v1.6M187.0 177.4v1.6M187.4 181.4v1.6M187.4 187.8v1.6M187.3 191.2v1.2M187.0 195.8v1.2M187.5 203.4v1.2M187.4 205.4v.9M187.6 206.2v1.6M187.3 208.4v1.2M187.0 211.6v.9M187.2 215.6v.6M187.2 217.4v.9M187.2 218.4v.6M187.3 220.8v1.2M187.1 222.8v.9M187.1 225.8v.6M187.5 226.6v1.2M187.3 229.8v1.6M187.1 233.2v1.6M187.0 238.2v.6M187.3 240.2v1.6M218.2 180.5v1.2M218.1 183.5v1.6M218.2 186.9v.9M218.0 193.3v.6M218.3 195.1v.6M217.7 197.5v.9M217.9 206.5v1.6M217.9 207.3v.9M218.3 212.5v1.2M217.7 219.7v.6M218.0 221.5v1.6M218.3 225.9v1.2M218.2 226.7v1.2M218.0 227.5v1.6M218.1 229.5v.9M217.9 234.7v.6M217.9 235.5v.6M218.0 239.3v1.6M350.7 212.4v1.6M350.4 214.4v1.6M350.4 218.6v.6M350.5 222.8v.6M350.2 226.2v.6M350.4 228.2v1.2M350.4 229.0v1.2M350.5 235.0v.9M350.2 236.0v1.6M350.2 240.6v1.6M350.3 245.4v.9M368.3 172.6v1.6M368.2 174.6v.6M367.9 176.6v1.6M368.1 177.8v1.6M368.0 181.0v1.6M368.0 183.8v.9M368.2 184.8v.6M362.2 184.4v1.2M362.7 185.2v.6M362.5 186.0v.9M362.6 187.2v1.2M362.3 188.0v1.2M362.6 190.2v1.2M362.8 193.8v1.2M362.6 206.0v.6M362.7 206.8v.9M362.2 210.2v1.6M385.7 151.5v1.2M385.6 156.3v1.6M385.6 158.3v1.6M385.8 168.5v.6M385.3 171.5v.6M385.7 173.5v1.6M385.4 174.5v.9M385.5 185.3v1.6M385.3 188.7v1.2M385.2 189.5v1.6M385.8 191.5v.6M385.8 202.9v.9M385.6 211.1v.9M385.7 214.3v1.6M385.5 216.3v.9M385.3 225.5v1.6M385.4 231.3v1.6M385.6 233.3v.6M385.6 237.7v.9M385.4 242.9v.9M385.3 246.9v.6M385.0 214.6v1.1M384.5 210.2v1M386.2 210.3v1.2M244.7 152.7v1.6M244.4 161.5v.9M244.4 162.3v.6M244.3 164.3v.6M244.5 167.3v1.6M244.8 168.5v1.6M244.6 169.7v1.2M244.7 171.5v.6M244.3 177.3v.6M244.6 186.5v1.2M244.7 189.9v.6M244.4 197.1v.6M244.8 205.1v.6M244.4 207.3v1.2M244.7 213.7v.6M244.4 231.3v.6M244.8 241.5v1.2M244.6 245.5v1.2M244.3 247.3v.9M259.7 169.8v.9M260.1 179.2v1.6M260.3 193.8v1.2M260.0 209.4v.9M259.9 211.0v.9M260.1 214.8v1.2M259.8 216.6v.6M259.8 218.2v.9M260.2 219.0v1.6M260.2 222.8v1.2M260.0 233.2v1.2M260.0 247.2v1.2" stroke="#5c5cbc" stroke-width="0.8" fill="none" opacity="0.7"/>
<path d="M168.0 220.6h1.7M167.6 209.6h2.5M167.3 205.3h1.2M168.4 242.3h2.9M167.6 229.3h1.8M168.6 243.1h2.4M167.7 244.9h2.4M384.1 208.2h2.4M383.3 200.2h1.2M385.3 214.3h2.2M383.5 239.4h1.8" stroke="#5c5cbc" stroke-width="0.8" fill="none" opacity="0.7"/>
<path d="M169.0 187.0v1.2M168.8 196.2v1.6M168.6 198.4v1.2M168.7 202.4v.6M168.6 203.6v.9M168.8 204.4v1.2M168.7 205.4v1.6M168.6 206.4v1.6M168.8 208.4v1.2M168.8 216.6v1.2M168.9 218.6v.9M168.9 221.0v.9M169.0 222.0v.9M168.9 225.0v1.2M169.1 226.8v.6M169.0 235.0v.9M169.1 235.8v1.2M168.6 236.6v.9M169.0 244.4v.9M168.8 245.4v1.2M168.8 247.8v.9M169.3 243.5v1.6M168.7 238.2v1.4M169.2 192.7v1M168.3 219.4v1.9M168.4 224.6v1.6M169.4 213.8v1.1M168.4 194.4v1.3M168.7 235.2v1.7M168.8 195.8v1.7M187.1 168.0v.9M187.4 169.6v1.2M187.2 170.8v.9M187.4 183.0v.6M187.2 186.8v1.6M187.2 194.6v.6M187.3 202.4v1.2M187.2 214.6v.9M187.2 223.8v1.2M187.2 232.4v1.6M187.1 241.0v1.2M187.6 244.2v1.6M218.0 175.9v.6M218.1 184.7v1.6M218.3 191.3v1.6M217.9 205.7v1.2M218.2 210.3v.6M218.3 215.1v.6M218.0 238.1v.9M217.8 240.3v1.2M217.9 244.3v.6M218.0 246.5v.6M218.2 247.5v.9M350.3 222.0v1.2M350.5 227.4v1.2M350.6 233.8v1.2M350.6 242.4v1.2M350.5 243.6v.9M350.7 247.4v1.6M368.3 179.8v1.6M362.6 199.6v1.6M362.7 203.4v1.6M385.6 150.5v1.2M385.4 169.7v.9M385.3 178.1v.9M385.7 184.1v1.2M385.6 186.3v.9M385.6 196.9v.6M385.8 207.3v.6M385.5 223.9v.6M385.8 234.1v.9M385.6 236.7v.6M385.5 240.7v1.6M385.8 244.7v1.6M384.5 202.9v1.9M385.4 211.5v1.4M386.1 213.0v1.9M386.3 240.6v1.2M384.8 234.2v1.6M386.7 238.0v.8M386.4 243.5v1.4M244.4 185.3v1.2M244.5 217.1v1.2M244.8 223.1v.6M244.7 235.5v.9M260.1 198.8v1.6M260.2 232.2v.9M259.9 235.6v1.6" stroke="#3030b0" stroke-width="0.8" fill="none" opacity="0.85"/>
<path d="M168.2 213.6h1.6M167.3 204.3h3M167.6 208.6h1.9M167.0 231.7h1.1M168.1 190.3h1.8M167.2 217.1h1.8M168.6 217.2h1M385.4 206.3h1.6M385.5 230.6h2.2M383.4 235.8h1.7" stroke="#3030b0" stroke-width="0.8" fill="none" opacity="0.85"/>
<ellipse cx="187.3" cy="200.5" rx="0.8" ry="1.3" fill="#2a2ac0" opacity="0.85"/>
<ellipse cx="187.3" cy="215" rx="0.8" ry="1.3" fill="#2a2ac0" opacity="0.85"/>
<ellipse cx="187.3" cy="218.5" rx="0.8" ry="1.3" fill="#2a2ac0" opacity="0.85"/>
<ellipse cx="187.3" cy="229.6" rx="0.8" ry="1.3" fill="#2a2ac0" opacity="0.85"/>
<ellipse cx="218.2" cy="187.5" rx="1.0" ry="1.5" fill="#2a2ac0" opacity="0.85"/>
<ellipse cx="218.2" cy="194.7" rx="1.0" ry="1.5" fill="#2a2ac0" opacity="0.85"/>
<ellipse cx="218.2" cy="199" rx="1.0" ry="1.5" fill="#2a2ac0" opacity="0.85"/>
<ellipse cx="218.2" cy="209" rx="1.0" ry="1.5" fill="#2a2ac0" opacity="0.85"/>
<ellipse cx="218.2" cy="225" rx="1.0" ry="1.5" fill="#2a2ac0" opacity="0.85"/>
<ellipse cx="218.2" cy="245.5" rx="1.0" ry="1.5" fill="#2a2ac0" opacity="0.85"/>
<ellipse cx="222.7" cy="202" rx="0.8" ry="1.0" fill="#2a2ac0" opacity="0.7"/>
<ellipse cx="187" cy="201" rx="0.7" ry="1.25" fill="#2a2ac0" opacity="0.7"/>
<ellipse cx="249" cy="174.4" rx="1.2" ry="1.4" fill="#2a2ac0" opacity="0.85"/>
<ellipse cx="299" cy="240.8" rx="0.8" ry="1.2" fill="#2a2ac0" opacity="0.7"/>
<ellipse cx="326" cy="243" rx="0.8" ry="1.2" fill="#2a2ac0" opacity="0.7"/>
<ellipse cx="350.5" cy="226.5" rx="1.1" ry="2.5" fill="#2a2ac0" opacity="0.85"/>
<ellipse cx="350.5" cy="237" rx="0.9" ry="1.3" fill="#2a2ac0" opacity="0.85"/>
<ellipse cx="350.5" cy="248" rx="0.9" ry="1.3" fill="#2a2ac0" opacity="0.85"/>
<ellipse cx="319" cy="248" rx="0.9" ry="1.0" fill="#2a2ac0" opacity="0.75"/>
<ellipse cx="361" cy="241" rx="0.7" ry="1.5" fill="#2a2ac0" opacity="0.6"/>
<ellipse cx="301" cy="238" rx="0.8" ry="2.0" fill="#2a2ac0" opacity="0.6"/>
<rect x="153.6" y="149.3" width="235.29999999999998" height="99.19999999999999" fill="none" stroke="#9a9aa8" stroke-width="0.6"/>
<line x1="153.6" x2="388.9" y1="149.70000000000002" y2="149.70000000000002" stroke="#3a3ab8" stroke-width="1.1"/>
<path d="M388.9 160.6h2.6M388.9 171.9h2.6M388.9 183.1h2.6M388.9 194.4h2.6M388.9 205.7h2.6M388.9 216.9h2.6M388.9 228.2h2.6M388.9 239.5h2.6M517.8 15.1h1.8M517.8 25.1h1.8M517.8 35.2h1.8M517.8 45.3h1.8M517.8 55.4h1.8M517.8 65.5h1.8M517.8 75.5h1.8M517.8 85.6h1.8M153.6 162.5h-1.8M153.6 175.8h-1.8M153.6 189.0h-1.8M153.6 202.2h-1.8M153.6 215.4h-1.8M153.6 228.7h-1.8M153.6 241.9h-1.8" stroke="#707078" stroke-width="0.6" fill="none"/>
<g fill="#1a1a1a" stroke="#1a1a1a" stroke-width="0.22" font-family="Liberation Serif" style="will-change:transform">
<text x="25.90" y="8.70" font-size="9.0" text-anchor="end">0</text>
<text x="25.90" y="20.46" font-size="9.0" text-anchor="end">20</text>
<text x="25.90" y="32.22" font-size="9.0" text-anchor="end">40</text>
<text x="25.90" y="43.98" font-size="9.0" text-anchor="end">60</text>
<text x="25.90" y="55.74" font-size="9.0" text-anchor="end">80</text>
<text x="25.90" y="67.50" font-size="9.0" text-anchor="end">100</text>
<text x="25.90" y="79.26" font-size="9.0" text-anchor="end">120</text>
<text x="25.90" y="91.02" font-size="9.0" text-anchor="end">140</text>
<text x="156.60" y="8.85" font-size="9.0" text-anchor="start">0</text>
<text x="156.60" y="18.83" font-size="9.0" text-anchor="start">200</text>
<text x="156.60" y="28.81" font-size="9.0" text-anchor="start">400</text>
<text x="156.60" y="38.79" font-size="9.0" text-anchor="start">600</text>
<text x="156.60" y="48.77" font-size="9.0" text-anchor="start">800</text>
<text x="156.60" y="58.76" font-size="9.0" text-anchor="start">1000</text>
<text x="156.60" y="68.74" font-size="9.0" text-anchor="start">1200</text>
<text x="156.60" y="78.72" font-size="9.0" text-anchor="start">1400</text>
<text x="156.60" y="88.70" font-size="9.0" text-anchor="start">1600</text>
<text x="206.90" y="8.70" font-size="9.0" text-anchor="end">0</text>
<text x="206.90" y="20.46" font-size="9.0" text-anchor="end">20</text>
<text x="206.90" y="32.22" font-size="9.0" text-anchor="end">40</text>
<text x="206.90" y="43.98" font-size="9.0" text-anchor="end">60</text>
<text x="206.90" y="55.74" font-size="9.0" text-anchor="end">80</text>
<text x="206.90" y="67.50" font-size="9.0" text-anchor="end">100</text>
<text x="206.90" y="79.26" font-size="9.0" text-anchor="end">120</text>
<text x="206.90" y="91.02" font-size="9.0" text-anchor="end">140</text>
<text x="338.30" y="8.85" font-size="9.0" text-anchor="start">0</text>
<text x="338.30" y="18.83" font-size="9.0" text-anchor="start">200</text>
<text x="338.30" y="28.81" font-size="9.0" text-anchor="start">400</text>
<text x="338.30" y="38.79" font-size="9.0" text-anchor="start">600</text>
<text x="338.30" y="48.77" font-size="9.0" text-anchor="start">800</text>
<text x="338.30" y="58.76" font-size="9.0" text-anchor="start">1000</text>
<text x="338.30" y="68.74" font-size="9.0" text-anchor="start">1200</text>
<text x="338.30" y="78.72" font-size="9.0" text-anchor="start">1400</text>
<text x="338.30" y="88.70" font-size="9.0" text-anchor="start">1600</text>
<text x="388.50" y="8.70" font-size="9.0" text-anchor="end">0</text>
<text x="388.50" y="20.46" font-size="9.0" text-anchor="end">20</text>
<text x="388.50" y="32.22" font-size="9.0" text-anchor="end">40</text>
<text x="388.50" y="43.98" font-size="9.0" text-anchor="end">60</text>
<text x="388.50" y="55.74" font-size="9.0" text-anchor="end">80</text>
<text x="388.50" y="67.50" font-size="9.0" text-anchor="end">100</text>
<text x="388.50" y="79.26" font-size="9.0" text-anchor="end">120</text>
<text x="388.50" y="91.02" font-size="9.0" text-anchor="end">140</text>
<text x="519.80" y="8.85" font-size="9.0" text-anchor="start">0</text>
<text x="519.80" y="18.83" font-size="9.0" text-anchor="start">200</text>
<text x="519.80" y="28.81" font-size="9.0" text-anchor="start">400</text>
<text x="519.80" y="38.79" font-size="9.0" text-anchor="start">600</text>
<text x="519.80" y="48.77" font-size="9.0" text-anchor="start">800</text>
<text x="519.80" y="58.76" font-size="9.0" text-anchor="start">1000</text>
<text x="519.80" y="68.74" font-size="9.0" text-anchor="start">1200</text>
<text x="519.80" y="78.72" font-size="9.0" text-anchor="start">1400</text>
<text x="519.80" y="88.70" font-size="9.0" text-anchor="start">1600</text>
<text x="151.60" y="152.70" font-size="9.0" text-anchor="end">0</text>
<text x="151.60" y="165.93" font-size="9.0" text-anchor="end">20</text>
<text x="151.60" y="179.15" font-size="9.0" text-anchor="end">40</text>
<text x="151.60" y="192.38" font-size="9.0" text-anchor="end">60</text>
<text x="151.60" y="205.60" font-size="9.0" text-anchor="end">80</text>
<text x="151.60" y="218.83" font-size="9.0" text-anchor="end">100</text>
<text x="151.60" y="232.06" font-size="9.0" text-anchor="end">120</text>
<text x="151.60" y="245.28" font-size="9.0" text-anchor="end">140</text>
<text x="392.20" y="153.10" font-size="9.0" text-anchor="start">0</text>
<text x="392.20" y="163.50" font-size="9.0" text-anchor="start">200</text>
<text x="392.20" y="174.80" font-size="9.0" text-anchor="start">400</text>
<text x="392.20" y="186.10" font-size="9.0" text-anchor="start">600</text>
<text x="392.20" y="197.40" font-size="9.0" text-anchor="start">800</text>
<text x="392.20" y="208.70" font-size="9.0" text-anchor="start">1000</text>
<text x="392.20" y="220.00" font-size="9.0" text-anchor="start">1200</text>
<text x="392.20" y="231.30" font-size="9.0" text-anchor="start">1400</text>
<text x="392.20" y="242.60" font-size="9.0" text-anchor="start">1600</text>
<text x="27.30" y="102.60" font-size="9.0" text-anchor="middle">0</text>
<text x="44.38" y="102.60" font-size="9.0" text-anchor="middle">10</text>
<text x="61.15" y="102.60" font-size="9.0" text-anchor="middle">20</text>
<text x="77.93" y="102.60" font-size="9.0" text-anchor="middle">30</text>
<text x="94.71" y="102.60" font-size="9.0" text-anchor="middle">40</text>
<text x="111.48" y="102.60" font-size="9.0" text-anchor="middle">50</text>
<text x="128.26" y="102.60" font-size="9.0" text-anchor="middle">60</text>
<text x="145.03" y="102.60" font-size="9.0" text-anchor="middle">70</text>
<text x="208.70" y="102.60" font-size="9.0" text-anchor="middle">0</text>
<text x="222.51" y="102.60" font-size="9.0" text-anchor="middle">10</text>
<text x="235.73" y="102.60" font-size="9.0" text-anchor="middle">20</text>
<text x="248.94" y="102.60" font-size="9.0" text-anchor="middle">30</text>
<text x="262.16" y="102.60" font-size="9.0" text-anchor="middle">40</text>
<text x="275.37" y="102.60" font-size="9.0" text-anchor="middle">50</text>
<text x="288.58" y="102.60" font-size="9.0" text-anchor="middle">60</text>
<text x="301.80" y="102.60" font-size="9.0" text-anchor="middle">70</text>
<text x="315.01" y="102.60" font-size="9.0" text-anchor="middle">80</text>
<text x="328.23" y="102.60" font-size="9.0" text-anchor="middle">90</text>
<text x="390.30" y="102.60" font-size="9.0" text-anchor="middle">0</text>
<text x="408.51" y="102.60" font-size="9.0" text-anchor="middle">8</text>
<text x="426.73" y="102.60" font-size="9.0" text-anchor="middle">16</text>
<text x="444.94" y="102.60" font-size="9.0" text-anchor="middle">24</text>
<text x="463.16" y="102.60" font-size="9.0" text-anchor="middle">32</text>
<text x="481.37" y="102.60" font-size="9.0" text-anchor="middle">40</text>
<text x="499.59" y="102.60" font-size="9.0" text-anchor="middle">48</text>
<text x="517.80" y="102.60" font-size="9.0" text-anchor="middle">56</text>
<text x="152.40" y="260.10" font-size="9.0" text-anchor="middle">0</text>
<text x="180.83" y="260.10" font-size="9.0" text-anchor="middle">100</text>
<text x="207.76" y="260.10" font-size="9.0" text-anchor="middle">200</text>
<text x="234.69" y="260.10" font-size="9.0" text-anchor="middle">300</text>
<text x="261.62" y="260.10" font-size="9.0" text-anchor="middle">400</text>
<text x="288.55" y="260.10" font-size="9.0" text-anchor="middle">500</text>
<text x="315.48" y="260.10" font-size="9.0" text-anchor="middle">600</text>
<text x="342.41" y="260.10" font-size="9.0" text-anchor="middle">700</text>
<text x="369.34" y="260.10" font-size="9.0" text-anchor="middle">800</text>
<text x="30.50" y="116.40" font-size="9.0" text-anchor="middle">A</text>
<text x="91.00" y="116.20" font-size="9.0" text-anchor="middle">Distance(m)</text>
<text x="150.00" y="116.40" font-size="9.0" text-anchor="middle">A'</text>
<text x="90.30" y="125.80" font-size="9.0" text-anchor="middle">(a)</text>
<text x="209.10" y="115.90" font-size="9.0" text-anchor="middle">B</text>
<text x="272.70" y="115.90" font-size="9.0" text-anchor="middle">Distance(m)</text>
<text x="337.00" y="115.90" font-size="9.0" text-anchor="middle">B'</text>
<text x="272.50" y="125.90" font-size="9.0" text-anchor="middle">(b)</text>
<text x="390.80" y="120.50" font-size="9.0" text-anchor="middle">C</text>
<text x="454.40" y="120.50" font-size="9.0" text-anchor="middle">Distance(m)</text>
<text x="517.50" y="120.50" font-size="9.0" text-anchor="middle">C'</text>
<text x="454.40" y="128.30" font-size="9.0" text-anchor="middle">(c)</text>
<text x="154.00" y="275.20" font-size="9.0" text-anchor="middle">O</text>
<text x="271.80" y="275.00" font-size="9.0" text-anchor="middle">Distance(m)</text>
<text x="388.50" y="275.20" font-size="9.0" text-anchor="middle">O'</text>
<text x="270.90" y="283.20" font-size="9.0" text-anchor="middle">(d)</text>
<text x="9.97" y="49.00" font-size="9.0" text-anchor="middle" transform="rotate(-90 9.97 49.00)">Depth(m)</text>
<text x="192.47" y="47.50" font-size="9.0" text-anchor="middle" transform="rotate(-90 192.47 47.50)">Depth(m)</text>
<text x="373.77" y="47.30" font-size="9.0" text-anchor="middle" transform="rotate(-90 373.77 47.30)">Depth(m)</text>
<text x="134.77" y="196.80" font-size="9.0" text-anchor="middle" transform="rotate(-90 134.77 196.80)">Depth(m)</text>
<text x="176.23" y="49.00" font-size="9.0" text-anchor="middle" transform="rotate(90 176.23 49.00)">2-way trval time(ns)</text>
<text x="357.03" y="49.40" font-size="9.0" text-anchor="middle" transform="rotate(90 357.03 49.40)">2-way trval time(ns)</text>
<text x="539.53" y="49.10" font-size="9.0" text-anchor="middle" transform="rotate(90 539.53 49.10)">2-way trval time(ns)</text>
<text x="413.33" y="197.10" font-size="9.0" text-anchor="middle" transform="rotate(90 413.33 197.10)">2-way trval time(ns)</text>
</g>
</svg>
</body></html>
